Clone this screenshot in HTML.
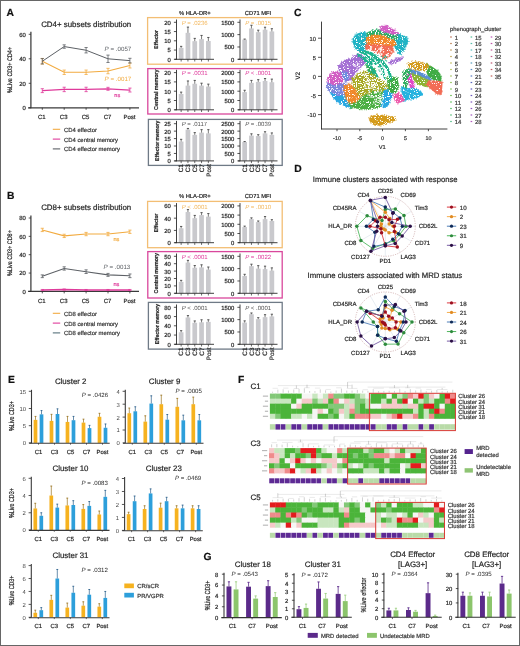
<!DOCTYPE html>
<html><head><meta charset="utf-8"><style>
html,body{margin:0;padding:0;background:#fff;}
body{width:520px;height:646px;overflow:hidden;}
svg{display:block;will-change:transform;text-rendering:geometricPrecision;font-family:"Liberation Sans",sans-serif;fill:#262626;}
text{stroke-width:0.2px;}
</style></head><body>
<svg width="520" height="646" viewBox="0 0 520 646">
<rect x="0" y="0" width="520" height="646" fill="#fff"/>
<line x1="30.9" y1="31.8" x2="30.9" y2="108.2" stroke="#3a3a3a" stroke-width="1.25"/>
<line x1="28.1" y1="107.8" x2="139" y2="107.8" stroke="#3a3a3a" stroke-width="1.25"/>
<line x1="28.7" y1="107.8" x2="30.9" y2="107.8" stroke="#2b2b2b" stroke-width="0.8"/>
<text x="25.9" y="110.2" font-size="5.9" text-anchor="end" stroke="#262626" stroke-width="0.08">0</text>
<line x1="28.7" y1="83.3" x2="30.9" y2="83.3" stroke="#2b2b2b" stroke-width="0.8"/>
<text x="25.9" y="85.7" font-size="5.9" text-anchor="end" stroke="#262626" stroke-width="0.08">20</text>
<line x1="28.7" y1="58.8" x2="30.9" y2="58.8" stroke="#2b2b2b" stroke-width="0.8"/>
<text x="25.9" y="61.2" font-size="5.9" text-anchor="end" stroke="#262626" stroke-width="0.08">40</text>
<line x1="28.7" y1="34.3" x2="30.9" y2="34.3" stroke="#2b2b2b" stroke-width="0.8"/>
<text x="25.9" y="36.7" font-size="5.9" text-anchor="end" stroke="#262626" stroke-width="0.08">60</text>
<line x1="42.3" y1="107.8" x2="42.3" y2="109.8" stroke="#2b2b2b" stroke-width="0.8"/>
<line x1="64.2" y1="107.8" x2="64.2" y2="109.8" stroke="#2b2b2b" stroke-width="0.8"/>
<line x1="86.1" y1="107.8" x2="86.1" y2="109.8" stroke="#2b2b2b" stroke-width="0.8"/>
<line x1="108" y1="107.8" x2="108" y2="109.8" stroke="#2b2b2b" stroke-width="0.8"/>
<line x1="129.9" y1="107.8" x2="129.9" y2="109.8" stroke="#2b2b2b" stroke-width="0.8"/>
<text x="41.8" y="119.1" font-size="6" text-anchor="middle" stroke="#262626" stroke-width="0.16">C1</text>
<text x="63.7" y="119.1" font-size="6" text-anchor="middle" stroke="#262626" stroke-width="0.16">C3</text>
<text x="85.6" y="119.1" font-size="6" text-anchor="middle" stroke="#262626" stroke-width="0.16">C5</text>
<text x="107.5" y="119.1" font-size="6" text-anchor="middle" stroke="#262626" stroke-width="0.16">C7</text>
<text x="129.4" y="119.1" font-size="6" text-anchor="middle" stroke="#262626" stroke-width="0.16">Post</text>
<text x="86.2" y="27.4" font-size="7.9" text-anchor="middle" stroke="#262626">CD4+ subsets distribution</text>
<text transform="translate(12.2 70) rotate(-90)" font-size="6.6" stroke="#262626" stroke-width="0.3" text-anchor="middle" textLength="45.8" lengthAdjust="spacingAndGlyphs">%Live CD3+ CD4+</text>
<polyline points="42.3,61.25 64.2,72.27 86.1,72.27 108,71.05 129.9,65.54" fill="none" stroke="#f2ab40" stroke-width="1.1"/>
<line x1="42.3" y1="64.07" x2="42.3" y2="58.43" stroke="#f2ab40" stroke-width="0.8"/>
<line x1="40.7" y1="58.43" x2="43.9" y2="58.43" stroke="#f2ab40" stroke-width="0.8"/>
<line x1="40.7" y1="64.07" x2="43.9" y2="64.07" stroke="#f2ab40" stroke-width="0.8"/>
<line x1="64.2" y1="74.48" x2="64.2" y2="70.07" stroke="#f2ab40" stroke-width="0.8"/>
<line x1="62.6" y1="70.07" x2="65.8" y2="70.07" stroke="#f2ab40" stroke-width="0.8"/>
<line x1="62.6" y1="74.48" x2="65.8" y2="74.48" stroke="#f2ab40" stroke-width="0.8"/>
<line x1="86.1" y1="74.48" x2="86.1" y2="70.07" stroke="#f2ab40" stroke-width="0.8"/>
<line x1="84.5" y1="70.07" x2="87.7" y2="70.07" stroke="#f2ab40" stroke-width="0.8"/>
<line x1="84.5" y1="74.48" x2="87.7" y2="74.48" stroke="#f2ab40" stroke-width="0.8"/>
<line x1="108" y1="73.74" x2="108" y2="68.35" stroke="#f2ab40" stroke-width="0.8"/>
<line x1="106.4" y1="68.35" x2="109.6" y2="68.35" stroke="#f2ab40" stroke-width="0.8"/>
<line x1="106.4" y1="73.74" x2="109.6" y2="73.74" stroke="#f2ab40" stroke-width="0.8"/>
<line x1="129.9" y1="67.99" x2="129.9" y2="63.09" stroke="#f2ab40" stroke-width="0.8"/>
<line x1="128.3" y1="63.09" x2="131.5" y2="63.09" stroke="#f2ab40" stroke-width="0.8"/>
<line x1="128.3" y1="67.99" x2="131.5" y2="67.99" stroke="#f2ab40" stroke-width="0.8"/>
<polyline points="42.3,90.65 64.2,89.42 86.1,89.42 108,88.81 129.9,90.04" fill="none" stroke="#df3a9b" stroke-width="1.2"/>
<line x1="42.3" y1="92.61" x2="42.3" y2="88.69" stroke="#df3a9b" stroke-width="0.8"/>
<line x1="40.7" y1="88.69" x2="43.9" y2="88.69" stroke="#df3a9b" stroke-width="0.8"/>
<line x1="40.7" y1="92.61" x2="43.9" y2="92.61" stroke="#df3a9b" stroke-width="0.8"/>
<line x1="64.2" y1="91.63" x2="64.2" y2="87.22" stroke="#df3a9b" stroke-width="0.8"/>
<line x1="62.6" y1="87.22" x2="65.8" y2="87.22" stroke="#df3a9b" stroke-width="0.8"/>
<line x1="62.6" y1="91.63" x2="65.8" y2="91.63" stroke="#df3a9b" stroke-width="0.8"/>
<line x1="86.1" y1="91.63" x2="86.1" y2="87.22" stroke="#df3a9b" stroke-width="0.8"/>
<line x1="84.5" y1="87.22" x2="87.7" y2="87.22" stroke="#df3a9b" stroke-width="0.8"/>
<line x1="84.5" y1="91.63" x2="87.7" y2="91.63" stroke="#df3a9b" stroke-width="0.8"/>
<line x1="108" y1="90.28" x2="108" y2="87.34" stroke="#df3a9b" stroke-width="0.8"/>
<line x1="106.4" y1="87.34" x2="109.6" y2="87.34" stroke="#df3a9b" stroke-width="0.8"/>
<line x1="106.4" y1="90.28" x2="109.6" y2="90.28" stroke="#df3a9b" stroke-width="0.8"/>
<line x1="129.9" y1="92" x2="129.9" y2="88.08" stroke="#df3a9b" stroke-width="0.8"/>
<line x1="128.3" y1="88.08" x2="131.5" y2="88.08" stroke="#df3a9b" stroke-width="0.8"/>
<line x1="128.3" y1="92" x2="131.5" y2="92" stroke="#df3a9b" stroke-width="0.8"/>
<polyline points="42.3,61.25 64.2,46.55 86.1,50.22 108,58.8 129.9,60.64" fill="none" stroke="#5d6166" stroke-width="1"/>
<line x1="42.3" y1="63.95" x2="42.3" y2="58.55" stroke="#5d6166" stroke-width="0.8"/>
<line x1="40.7" y1="58.55" x2="43.9" y2="58.55" stroke="#5d6166" stroke-width="0.8"/>
<line x1="40.7" y1="63.95" x2="43.9" y2="63.95" stroke="#5d6166" stroke-width="0.8"/>
<line x1="64.2" y1="48.26" x2="64.2" y2="44.83" stroke="#5d6166" stroke-width="0.8"/>
<line x1="62.6" y1="44.83" x2="65.8" y2="44.83" stroke="#5d6166" stroke-width="0.8"/>
<line x1="62.6" y1="48.26" x2="65.8" y2="48.26" stroke="#5d6166" stroke-width="0.8"/>
<line x1="86.1" y1="52.92" x2="86.1" y2="47.53" stroke="#5d6166" stroke-width="0.8"/>
<line x1="84.5" y1="47.53" x2="87.7" y2="47.53" stroke="#5d6166" stroke-width="0.8"/>
<line x1="84.5" y1="52.92" x2="87.7" y2="52.92" stroke="#5d6166" stroke-width="0.8"/>
<line x1="108" y1="62.47" x2="108" y2="55.12" stroke="#5d6166" stroke-width="0.8"/>
<line x1="106.4" y1="55.12" x2="109.6" y2="55.12" stroke="#5d6166" stroke-width="0.8"/>
<line x1="106.4" y1="62.47" x2="109.6" y2="62.47" stroke="#5d6166" stroke-width="0.8"/>
<line x1="129.9" y1="62.96" x2="129.9" y2="58.31" stroke="#5d6166" stroke-width="0.8"/>
<line x1="128.3" y1="58.31" x2="131.5" y2="58.31" stroke="#5d6166" stroke-width="0.8"/>
<line x1="128.3" y1="62.96" x2="131.5" y2="62.96" stroke="#5d6166" stroke-width="0.8"/>
<text x="104.6" y="50.6" font-size="6.2" fill="#5d6166"><tspan font-style="italic">P</tspan> = .0057</text>
<text x="104.6" y="81" font-size="6.2" fill="#f2ab40"><tspan font-style="italic">P</tspan> = .0017</text>
<text x="114.3" y="96.6" font-size="5.6" fill="#df3a9b" stroke="#df3a9b" stroke-width="0.16">ns</text>
<line x1="52.8" y1="129.3" x2="60.2" y2="129.3" stroke="#f2ab40" stroke-width="1.1"/>
<text x="64" y="131.7" font-size="5.9" fill="#333" stroke="#333" stroke-width="0.16">CD4 effector</text>
<line x1="52.8" y1="139.1" x2="60.2" y2="139.1" stroke="#df3a9b" stroke-width="1.1"/>
<text x="64" y="141.5" font-size="5.9" fill="#333" stroke="#333" stroke-width="0.16">CD4 central memory</text>
<line x1="52.8" y1="148.9" x2="60.2" y2="148.9" stroke="#5d6166" stroke-width="1.1"/>
<text x="64" y="151.3" font-size="5.9" fill="#333" stroke="#333" stroke-width="0.16">CD4 effector memory</text>
<line x1="30.9" y1="215.5" x2="30.9" y2="291.8" stroke="#3a3a3a" stroke-width="1.25"/>
<line x1="28.1" y1="291.4" x2="139" y2="291.4" stroke="#3a3a3a" stroke-width="1.25"/>
<line x1="28.7" y1="291.4" x2="30.9" y2="291.4" stroke="#2b2b2b" stroke-width="0.8"/>
<text x="25.9" y="293.8" font-size="5.9" text-anchor="end" stroke="#262626" stroke-width="0.08">0</text>
<line x1="28.7" y1="273.05" x2="30.9" y2="273.05" stroke="#2b2b2b" stroke-width="0.8"/>
<text x="25.9" y="275.45" font-size="5.9" text-anchor="end" stroke="#262626" stroke-width="0.08">20</text>
<line x1="28.7" y1="254.7" x2="30.9" y2="254.7" stroke="#2b2b2b" stroke-width="0.8"/>
<text x="25.9" y="257.1" font-size="5.9" text-anchor="end" stroke="#262626" stroke-width="0.08">40</text>
<line x1="28.7" y1="236.35" x2="30.9" y2="236.35" stroke="#2b2b2b" stroke-width="0.8"/>
<text x="25.9" y="238.75" font-size="5.9" text-anchor="end" stroke="#262626" stroke-width="0.08">60</text>
<line x1="28.7" y1="218" x2="30.9" y2="218" stroke="#2b2b2b" stroke-width="0.8"/>
<text x="25.9" y="220.4" font-size="5.9" text-anchor="end" stroke="#262626" stroke-width="0.08">80</text>
<line x1="42.3" y1="291.4" x2="42.3" y2="293.4" stroke="#2b2b2b" stroke-width="0.8"/>
<line x1="64.2" y1="291.4" x2="64.2" y2="293.4" stroke="#2b2b2b" stroke-width="0.8"/>
<line x1="86.1" y1="291.4" x2="86.1" y2="293.4" stroke="#2b2b2b" stroke-width="0.8"/>
<line x1="108" y1="291.4" x2="108" y2="293.4" stroke="#2b2b2b" stroke-width="0.8"/>
<line x1="129.9" y1="291.4" x2="129.9" y2="293.4" stroke="#2b2b2b" stroke-width="0.8"/>
<text x="41.8" y="302.7" font-size="6" text-anchor="middle" stroke="#262626" stroke-width="0.16">C1</text>
<text x="63.7" y="302.7" font-size="6" text-anchor="middle" stroke="#262626" stroke-width="0.16">C3</text>
<text x="85.6" y="302.7" font-size="6" text-anchor="middle" stroke="#262626" stroke-width="0.16">C5</text>
<text x="107.5" y="302.7" font-size="6" text-anchor="middle" stroke="#262626" stroke-width="0.16">C7</text>
<text x="129.4" y="302.7" font-size="6" text-anchor="middle" stroke="#262626" stroke-width="0.16">Post</text>
<text x="86.2" y="209.9" font-size="7.9" text-anchor="middle" stroke="#262626">CD8+ subsets distribution</text>
<text transform="translate(12.2 253.1) rotate(-90)" font-size="6.6" stroke="#262626" stroke-width="0.3" text-anchor="middle" textLength="45.8" lengthAdjust="spacingAndGlyphs">%Live CD3+ CD8+</text>
<polyline points="42.3,229.93 64.2,235.89 86.1,234.06 108,234.06 129.9,231.76" fill="none" stroke="#f2ab40" stroke-width="1.1"/>
<line x1="42.3" y1="231.58" x2="42.3" y2="228.28" stroke="#f2ab40" stroke-width="0.8"/>
<line x1="40.7" y1="228.28" x2="43.9" y2="228.28" stroke="#f2ab40" stroke-width="0.8"/>
<line x1="40.7" y1="231.58" x2="43.9" y2="231.58" stroke="#f2ab40" stroke-width="0.8"/>
<line x1="64.2" y1="237.54" x2="64.2" y2="234.24" stroke="#f2ab40" stroke-width="0.8"/>
<line x1="62.6" y1="234.24" x2="65.8" y2="234.24" stroke="#f2ab40" stroke-width="0.8"/>
<line x1="62.6" y1="237.54" x2="65.8" y2="237.54" stroke="#f2ab40" stroke-width="0.8"/>
<line x1="86.1" y1="235.71" x2="86.1" y2="232.4" stroke="#f2ab40" stroke-width="0.8"/>
<line x1="84.5" y1="232.4" x2="87.7" y2="232.4" stroke="#f2ab40" stroke-width="0.8"/>
<line x1="84.5" y1="235.71" x2="87.7" y2="235.71" stroke="#f2ab40" stroke-width="0.8"/>
<line x1="108" y1="235.71" x2="108" y2="232.4" stroke="#f2ab40" stroke-width="0.8"/>
<line x1="106.4" y1="232.4" x2="109.6" y2="232.4" stroke="#f2ab40" stroke-width="0.8"/>
<line x1="106.4" y1="235.71" x2="109.6" y2="235.71" stroke="#f2ab40" stroke-width="0.8"/>
<line x1="129.9" y1="233.41" x2="129.9" y2="230.11" stroke="#f2ab40" stroke-width="0.8"/>
<line x1="128.3" y1="230.11" x2="131.5" y2="230.11" stroke="#f2ab40" stroke-width="0.8"/>
<line x1="128.3" y1="233.41" x2="131.5" y2="233.41" stroke="#f2ab40" stroke-width="0.8"/>
<polyline points="42.3,276.26 64.2,268.46 86.1,271.67 108,274.88 129.9,275.8" fill="none" stroke="#5d6166" stroke-width="1.1"/>
<line x1="42.3" y1="277.64" x2="42.3" y2="274.88" stroke="#5d6166" stroke-width="0.8"/>
<line x1="40.7" y1="274.88" x2="43.9" y2="274.88" stroke="#5d6166" stroke-width="0.8"/>
<line x1="40.7" y1="277.64" x2="43.9" y2="277.64" stroke="#5d6166" stroke-width="0.8"/>
<line x1="64.2" y1="270.11" x2="64.2" y2="266.81" stroke="#5d6166" stroke-width="0.8"/>
<line x1="62.6" y1="266.81" x2="65.8" y2="266.81" stroke="#5d6166" stroke-width="0.8"/>
<line x1="62.6" y1="270.11" x2="65.8" y2="270.11" stroke="#5d6166" stroke-width="0.8"/>
<line x1="86.1" y1="273.51" x2="86.1" y2="269.84" stroke="#5d6166" stroke-width="0.8"/>
<line x1="84.5" y1="269.84" x2="87.7" y2="269.84" stroke="#5d6166" stroke-width="0.8"/>
<line x1="84.5" y1="273.51" x2="87.7" y2="273.51" stroke="#5d6166" stroke-width="0.8"/>
<line x1="108" y1="276.35" x2="108" y2="273.42" stroke="#5d6166" stroke-width="0.8"/>
<line x1="106.4" y1="273.42" x2="109.6" y2="273.42" stroke="#5d6166" stroke-width="0.8"/>
<line x1="106.4" y1="276.35" x2="109.6" y2="276.35" stroke="#5d6166" stroke-width="0.8"/>
<line x1="129.9" y1="277.64" x2="129.9" y2="273.97" stroke="#5d6166" stroke-width="0.8"/>
<line x1="128.3" y1="273.97" x2="131.5" y2="273.97" stroke="#5d6166" stroke-width="0.8"/>
<line x1="128.3" y1="277.64" x2="131.5" y2="277.64" stroke="#5d6166" stroke-width="0.8"/>
<polyline points="42.3,290.02 64.2,289.56 86.1,290.02 108,290.02 129.9,290.02" fill="none" stroke="#df3a9b" stroke-width="1.6"/>
<line x1="42.3" y1="290.57" x2="42.3" y2="289.47" stroke="#df3a9b" stroke-width="0.8"/>
<line x1="40.7" y1="289.47" x2="43.9" y2="289.47" stroke="#df3a9b" stroke-width="0.8"/>
<line x1="40.7" y1="290.57" x2="43.9" y2="290.57" stroke="#df3a9b" stroke-width="0.8"/>
<line x1="64.2" y1="290.12" x2="64.2" y2="289.01" stroke="#df3a9b" stroke-width="0.8"/>
<line x1="62.6" y1="289.01" x2="65.8" y2="289.01" stroke="#df3a9b" stroke-width="0.8"/>
<line x1="62.6" y1="290.12" x2="65.8" y2="290.12" stroke="#df3a9b" stroke-width="0.8"/>
<line x1="86.1" y1="290.57" x2="86.1" y2="289.47" stroke="#df3a9b" stroke-width="0.8"/>
<line x1="84.5" y1="289.47" x2="87.7" y2="289.47" stroke="#df3a9b" stroke-width="0.8"/>
<line x1="84.5" y1="290.57" x2="87.7" y2="290.57" stroke="#df3a9b" stroke-width="0.8"/>
<line x1="108" y1="290.57" x2="108" y2="289.47" stroke="#df3a9b" stroke-width="0.8"/>
<line x1="106.4" y1="289.47" x2="109.6" y2="289.47" stroke="#df3a9b" stroke-width="0.8"/>
<line x1="106.4" y1="290.57" x2="109.6" y2="290.57" stroke="#df3a9b" stroke-width="0.8"/>
<line x1="129.9" y1="290.57" x2="129.9" y2="289.47" stroke="#df3a9b" stroke-width="0.8"/>
<line x1="128.3" y1="289.47" x2="131.5" y2="289.47" stroke="#df3a9b" stroke-width="0.8"/>
<line x1="128.3" y1="290.57" x2="131.5" y2="290.57" stroke="#df3a9b" stroke-width="0.8"/>
<text x="113.5" y="241.4" font-size="5.6" fill="#f2ab40" stroke="#f2ab40" stroke-width="0.16">ns</text>
<text x="103.6" y="269.3" font-size="6.2" fill="#5d6166"><tspan font-style="italic">P</tspan> = .0013</text>
<text x="113.5" y="286" font-size="5.6" fill="#df3a9b" stroke="#df3a9b" stroke-width="0.16">ns</text>
<line x1="52.8" y1="313.3" x2="60.2" y2="313.3" stroke="#f2ab40" stroke-width="1.1"/>
<text x="64" y="315.7" font-size="5.9" fill="#333" stroke="#333" stroke-width="0.16">CD8 effector</text>
<line x1="52.8" y1="323.1" x2="60.2" y2="323.1" stroke="#df3a9b" stroke-width="1.1"/>
<text x="64" y="325.5" font-size="5.9" fill="#333" stroke="#333" stroke-width="0.16">CD8 central memory</text>
<line x1="52.8" y1="332.9" x2="60.2" y2="332.9" stroke="#56707a" stroke-width="1.1"/>
<text x="64" y="335.3" font-size="5.9" fill="#333" stroke="#333" stroke-width="0.16">CD8 effector memory</text>
<text transform="translate(6.6 15.8) " font-size="10.3" font-weight="bold" fill="#111" stroke="#111" stroke-width="0.3">A</text>
<text transform="translate(6.9 199.1) " font-size="10.3" font-weight="bold" fill="#111" stroke="#111" stroke-width="0.3">B</text>
<text transform="translate(294 15.8) " font-size="10.3" font-weight="bold" fill="#111" stroke="#111" stroke-width="0.3">C</text>
<text transform="translate(294.3 171.8) " font-size="10.3" font-weight="bold" fill="#111" stroke="#111" stroke-width="0.3">D</text>
<text transform="translate(8 382.9) " font-size="10.3" font-weight="bold" fill="#111" stroke="#111" stroke-width="0.3">E</text>
<text transform="translate(237.9 382.6) " font-size="10.3" font-weight="bold" fill="#111" stroke="#111" stroke-width="0.3">F</text>
<text transform="translate(203.6 559.8) " font-size="10.3" font-weight="bold" fill="#111" stroke="#111" stroke-width="0.3">G</text>
<text x="194.8" y="14.8" font-size="5.8" text-anchor="middle" stroke="#262626" stroke-width="0.06">% HLA-DR+</text>
<text x="258" y="14.8" font-size="5.8" text-anchor="middle" stroke="#262626" stroke-width="0.06">CD71 MFI</text>
<rect x="147.6" y="17.6" width="134.6" height="46.6" fill="none" stroke="#f3be74" stroke-width="1.3"/>
<text transform="translate(158.1 39.3) rotate(-90)" font-size="5.6" font-weight="bold" stroke="#222" stroke-width="0.15" text-anchor="middle" textLength="18.7" lengthAdjust="spacingAndGlyphs">Effector</text>
<rect x="147.8" y="68.6" width="134.4" height="45.4" fill="none" stroke="#d9479c" stroke-width="1.3"/>
<text transform="translate(158.3 89.7) rotate(-90)" font-size="5.6" font-weight="bold" stroke="#222" stroke-width="0.15" text-anchor="middle" textLength="40.4" lengthAdjust="spacingAndGlyphs">Central memory</text>
<rect x="148.4" y="119.4" width="133.8" height="46" fill="none" stroke="#6f7a86" stroke-width="1.3"/>
<text transform="translate(158.9 140.8) rotate(-90)" font-size="5.6" font-weight="bold" stroke="#222" stroke-width="0.15" text-anchor="middle" textLength="40.2" lengthAdjust="spacingAndGlyphs">Effector memory</text>
<rect x="178.8" y="47.83" width="4.7" height="11.47" fill="#c9c9cd"/>
<line x1="181.15" y1="47.83" x2="181.15" y2="46.35" stroke="#444" stroke-width="0.7"/>
<line x1="180.05" y1="46.35" x2="182.25" y2="46.35" stroke="#444" stroke-width="0.9"/>
<line x1="181.15" y1="59.3" x2="181.15" y2="61.5" stroke="#2b2b2b" stroke-width="0.7"/>
<rect x="185.6" y="32.84" width="4.7" height="26.46" fill="#c9c9cd"/>
<line x1="187.95" y1="32.84" x2="187.95" y2="27.11" stroke="#444" stroke-width="0.7"/>
<line x1="186.85" y1="27.11" x2="189.05" y2="27.11" stroke="#444" stroke-width="0.9"/>
<line x1="187.95" y1="59.3" x2="187.95" y2="61.5" stroke="#2b2b2b" stroke-width="0.7"/>
<rect x="192.4" y="41.17" width="4.7" height="18.13" fill="#c9c9cd"/>
<line x1="194.75" y1="41.17" x2="194.75" y2="38.39" stroke="#444" stroke-width="0.7"/>
<line x1="193.65" y1="38.39" x2="195.85" y2="38.39" stroke="#444" stroke-width="0.9"/>
<line x1="194.75" y1="59.3" x2="194.75" y2="61.5" stroke="#2b2b2b" stroke-width="0.7"/>
<rect x="199.2" y="39.13" width="4.7" height="20.17" fill="#c9c9cd"/>
<line x1="201.55" y1="39.13" x2="201.55" y2="35.43" stroke="#444" stroke-width="0.7"/>
<line x1="200.45" y1="35.43" x2="202.65" y2="35.43" stroke="#444" stroke-width="0.9"/>
<line x1="201.55" y1="59.3" x2="201.55" y2="61.5" stroke="#2b2b2b" stroke-width="0.7"/>
<rect x="206" y="40.98" width="4.7" height="18.32" fill="#c9c9cd"/>
<line x1="208.35" y1="40.98" x2="208.35" y2="37.47" stroke="#444" stroke-width="0.7"/>
<line x1="207.25" y1="37.47" x2="209.45" y2="37.47" stroke="#444" stroke-width="0.9"/>
<line x1="208.35" y1="59.3" x2="208.35" y2="61.5" stroke="#2b2b2b" stroke-width="0.7"/>
<line x1="176.5" y1="19.5" x2="176.5" y2="59.7" stroke="#2b2b2b" stroke-width="0.9"/>
<line x1="174.5" y1="59.3" x2="214" y2="59.3" stroke="#2b2b2b" stroke-width="0.9"/>
<line x1="173.9" y1="59.3" x2="176.5" y2="59.3" stroke="#2b2b2b" stroke-width="0.8"/>
<text x="170.9" y="61.7" font-size="5.9" text-anchor="end" stroke="#262626" stroke-width="0.08">0</text>
<line x1="173.9" y1="50.05" x2="176.5" y2="50.05" stroke="#2b2b2b" stroke-width="0.8"/>
<text x="170.9" y="52.45" font-size="5.9" text-anchor="end" stroke="#262626" stroke-width="0.08">5</text>
<line x1="173.9" y1="40.8" x2="176.5" y2="40.8" stroke="#2b2b2b" stroke-width="0.8"/>
<text x="170.9" y="43.2" font-size="5.9" text-anchor="end" stroke="#262626" stroke-width="0.08">10</text>
<line x1="173.9" y1="31.55" x2="176.5" y2="31.55" stroke="#2b2b2b" stroke-width="0.8"/>
<text x="170.9" y="33.95" font-size="5.9" text-anchor="end" stroke="#262626" stroke-width="0.08">15</text>
<line x1="173.9" y1="22.3" x2="176.5" y2="22.3" stroke="#2b2b2b" stroke-width="0.8"/>
<text x="170.9" y="24.7" font-size="5.9" text-anchor="end" stroke="#262626" stroke-width="0.08">20</text>
<text x="181.7" y="25" font-size="6" fill="#f3b85e"><tspan font-style="italic">P</tspan> = .0236</text>
<rect x="242.3" y="39.57" width="4.7" height="19.73" fill="#c9c9cd"/>
<line x1="244.65" y1="39.57" x2="244.65" y2="39.07" stroke="#444" stroke-width="0.7"/>
<line x1="243.55" y1="39.07" x2="245.75" y2="39.07" stroke="#444" stroke-width="0.9"/>
<line x1="244.65" y1="59.3" x2="244.65" y2="61.5" stroke="#2b2b2b" stroke-width="0.7"/>
<rect x="249.1" y="28.47" width="4.7" height="30.83" fill="#c9c9cd"/>
<line x1="251.45" y1="28.47" x2="251.45" y2="25.26" stroke="#444" stroke-width="0.7"/>
<line x1="250.35" y1="25.26" x2="252.55" y2="25.26" stroke="#444" stroke-width="0.9"/>
<line x1="251.45" y1="59.3" x2="251.45" y2="61.5" stroke="#2b2b2b" stroke-width="0.7"/>
<rect x="255.9" y="32.17" width="4.7" height="27.13" fill="#c9c9cd"/>
<line x1="258.25" y1="32.17" x2="258.25" y2="30.19" stroke="#444" stroke-width="0.7"/>
<line x1="257.15" y1="30.19" x2="259.35" y2="30.19" stroke="#444" stroke-width="0.9"/>
<line x1="258.25" y1="59.3" x2="258.25" y2="61.5" stroke="#2b2b2b" stroke-width="0.7"/>
<rect x="262.7" y="29.7" width="4.7" height="29.6" fill="#c9c9cd"/>
<line x1="265.05" y1="29.7" x2="265.05" y2="27.23" stroke="#444" stroke-width="0.7"/>
<line x1="263.95" y1="27.23" x2="266.15" y2="27.23" stroke="#444" stroke-width="0.9"/>
<line x1="265.05" y1="59.3" x2="265.05" y2="61.5" stroke="#2b2b2b" stroke-width="0.7"/>
<rect x="269.5" y="31.43" width="4.7" height="27.87" fill="#c9c9cd"/>
<line x1="271.85" y1="31.43" x2="271.85" y2="28.71" stroke="#444" stroke-width="0.7"/>
<line x1="270.75" y1="28.71" x2="272.95" y2="28.71" stroke="#444" stroke-width="0.9"/>
<line x1="271.85" y1="59.3" x2="271.85" y2="61.5" stroke="#2b2b2b" stroke-width="0.7"/>
<line x1="240" y1="19.5" x2="240" y2="59.7" stroke="#2b2b2b" stroke-width="0.9"/>
<line x1="238" y1="59.3" x2="277.5" y2="59.3" stroke="#2b2b2b" stroke-width="0.9"/>
<line x1="237.4" y1="59.3" x2="240" y2="59.3" stroke="#2b2b2b" stroke-width="0.8"/>
<text x="234.4" y="61.7" font-size="5.9" text-anchor="end" stroke="#262626" stroke-width="0.08">0</text>
<line x1="237.4" y1="46.97" x2="240" y2="46.97" stroke="#2b2b2b" stroke-width="0.8"/>
<text x="234.4" y="49.37" font-size="5.9" text-anchor="end" stroke="#262626" stroke-width="0.08">500</text>
<line x1="237.4" y1="34.63" x2="240" y2="34.63" stroke="#2b2b2b" stroke-width="0.8"/>
<text x="234.4" y="37.03" font-size="5.9" text-anchor="end" stroke="#262626" stroke-width="0.08">1000</text>
<line x1="237.4" y1="22.3" x2="240" y2="22.3" stroke="#2b2b2b" stroke-width="0.8"/>
<text x="234.4" y="24.7" font-size="5.9" text-anchor="end" stroke="#262626" stroke-width="0.08">1500</text>
<text x="245.2" y="25" font-size="6" fill="#f3b85e"><tspan font-style="italic">P</tspan> = .0015</text>
<rect x="178.8" y="93.99" width="4.7" height="15.81" fill="#c9c9cd"/>
<line x1="181.15" y1="93.99" x2="181.15" y2="92.13" stroke="#444" stroke-width="0.7"/>
<line x1="180.05" y1="92.13" x2="182.25" y2="92.13" stroke="#444" stroke-width="0.9"/>
<line x1="181.15" y1="109.8" x2="181.15" y2="112" stroke="#2b2b2b" stroke-width="0.7"/>
<rect x="185.6" y="85.62" width="4.7" height="24.18" fill="#c9c9cd"/>
<line x1="187.95" y1="85.62" x2="187.95" y2="80.97" stroke="#444" stroke-width="0.7"/>
<line x1="186.85" y1="80.97" x2="189.05" y2="80.97" stroke="#444" stroke-width="0.9"/>
<line x1="187.95" y1="109.8" x2="187.95" y2="112" stroke="#2b2b2b" stroke-width="0.7"/>
<rect x="192.4" y="83.76" width="4.7" height="26.04" fill="#c9c9cd"/>
<line x1="194.75" y1="83.76" x2="194.75" y2="80.41" stroke="#444" stroke-width="0.7"/>
<line x1="193.65" y1="80.41" x2="195.85" y2="80.41" stroke="#444" stroke-width="0.9"/>
<line x1="194.75" y1="109.8" x2="194.75" y2="112" stroke="#2b2b2b" stroke-width="0.7"/>
<rect x="199.2" y="85.62" width="4.7" height="24.18" fill="#c9c9cd"/>
<line x1="201.55" y1="85.62" x2="201.55" y2="83.2" stroke="#444" stroke-width="0.7"/>
<line x1="200.45" y1="83.2" x2="202.65" y2="83.2" stroke="#444" stroke-width="0.9"/>
<line x1="201.55" y1="109.8" x2="201.55" y2="112" stroke="#2b2b2b" stroke-width="0.7"/>
<rect x="206" y="86.55" width="4.7" height="23.25" fill="#c9c9cd"/>
<line x1="208.35" y1="86.55" x2="208.35" y2="84.13" stroke="#444" stroke-width="0.7"/>
<line x1="207.25" y1="84.13" x2="209.45" y2="84.13" stroke="#444" stroke-width="0.9"/>
<line x1="208.35" y1="109.8" x2="208.35" y2="112" stroke="#2b2b2b" stroke-width="0.7"/>
<line x1="176.5" y1="69.8" x2="176.5" y2="110.2" stroke="#2b2b2b" stroke-width="0.9"/>
<line x1="174.5" y1="109.8" x2="214" y2="109.8" stroke="#2b2b2b" stroke-width="0.9"/>
<line x1="173.9" y1="109.8" x2="176.5" y2="109.8" stroke="#2b2b2b" stroke-width="0.8"/>
<text x="170.9" y="112.2" font-size="5.9" text-anchor="end" stroke="#262626" stroke-width="0.08">0</text>
<line x1="173.9" y1="100.5" x2="176.5" y2="100.5" stroke="#2b2b2b" stroke-width="0.8"/>
<text x="170.9" y="102.9" font-size="5.9" text-anchor="end" stroke="#262626" stroke-width="0.08">5</text>
<line x1="173.9" y1="91.2" x2="176.5" y2="91.2" stroke="#2b2b2b" stroke-width="0.8"/>
<text x="170.9" y="93.6" font-size="5.9" text-anchor="end" stroke="#262626" stroke-width="0.08">10</text>
<line x1="173.9" y1="81.9" x2="176.5" y2="81.9" stroke="#2b2b2b" stroke-width="0.8"/>
<text x="170.9" y="84.3" font-size="5.9" text-anchor="end" stroke="#262626" stroke-width="0.08">15</text>
<line x1="173.9" y1="72.6" x2="176.5" y2="72.6" stroke="#2b2b2b" stroke-width="0.8"/>
<text x="170.9" y="75" font-size="5.9" text-anchor="end" stroke="#262626" stroke-width="0.08">20</text>
<text x="181.7" y="75.3" font-size="6" fill="#df3a9b"><tspan font-style="italic">P</tspan> = .0031</text>
<rect x="242.3" y="92.13" width="4.7" height="17.67" fill="#c9c9cd"/>
<line x1="244.65" y1="92.13" x2="244.65" y2="90.27" stroke="#444" stroke-width="0.7"/>
<line x1="243.55" y1="90.27" x2="245.75" y2="90.27" stroke="#444" stroke-width="0.9"/>
<line x1="244.65" y1="109.8" x2="244.65" y2="112" stroke="#2b2b2b" stroke-width="0.7"/>
<rect x="249.1" y="82.83" width="4.7" height="26.97" fill="#c9c9cd"/>
<line x1="251.45" y1="82.83" x2="251.45" y2="80.41" stroke="#444" stroke-width="0.7"/>
<line x1="250.35" y1="80.41" x2="252.55" y2="80.41" stroke="#444" stroke-width="0.9"/>
<line x1="251.45" y1="109.8" x2="251.45" y2="112" stroke="#2b2b2b" stroke-width="0.7"/>
<rect x="255.9" y="81.9" width="4.7" height="27.9" fill="#c9c9cd"/>
<line x1="258.25" y1="81.9" x2="258.25" y2="79.67" stroke="#444" stroke-width="0.7"/>
<line x1="257.15" y1="79.67" x2="259.35" y2="79.67" stroke="#444" stroke-width="0.9"/>
<line x1="258.25" y1="109.8" x2="258.25" y2="112" stroke="#2b2b2b" stroke-width="0.7"/>
<rect x="262.7" y="80.97" width="4.7" height="28.83" fill="#c9c9cd"/>
<line x1="265.05" y1="80.97" x2="265.05" y2="78.55" stroke="#444" stroke-width="0.7"/>
<line x1="263.95" y1="78.55" x2="266.15" y2="78.55" stroke="#444" stroke-width="0.9"/>
<line x1="265.05" y1="109.8" x2="265.05" y2="112" stroke="#2b2b2b" stroke-width="0.7"/>
<rect x="269.5" y="82.27" width="4.7" height="27.53" fill="#c9c9cd"/>
<line x1="271.85" y1="82.27" x2="271.85" y2="79.11" stroke="#444" stroke-width="0.7"/>
<line x1="270.75" y1="79.11" x2="272.95" y2="79.11" stroke="#444" stroke-width="0.9"/>
<line x1="271.85" y1="109.8" x2="271.85" y2="112" stroke="#2b2b2b" stroke-width="0.7"/>
<line x1="240" y1="69.8" x2="240" y2="110.2" stroke="#2b2b2b" stroke-width="0.9"/>
<line x1="238" y1="109.8" x2="277.5" y2="109.8" stroke="#2b2b2b" stroke-width="0.9"/>
<line x1="237.4" y1="109.8" x2="240" y2="109.8" stroke="#2b2b2b" stroke-width="0.8"/>
<text x="234.4" y="112.2" font-size="5.9" text-anchor="end" stroke="#262626" stroke-width="0.08">0</text>
<line x1="237.4" y1="100.5" x2="240" y2="100.5" stroke="#2b2b2b" stroke-width="0.8"/>
<text x="234.4" y="102.9" font-size="5.9" text-anchor="end" stroke="#262626" stroke-width="0.08">500</text>
<line x1="237.4" y1="91.2" x2="240" y2="91.2" stroke="#2b2b2b" stroke-width="0.8"/>
<text x="234.4" y="93.6" font-size="5.9" text-anchor="end" stroke="#262626" stroke-width="0.08">1000</text>
<line x1="237.4" y1="81.9" x2="240" y2="81.9" stroke="#2b2b2b" stroke-width="0.8"/>
<text x="234.4" y="84.3" font-size="5.9" text-anchor="end" stroke="#262626" stroke-width="0.08">1500</text>
<line x1="237.4" y1="72.6" x2="240" y2="72.6" stroke="#2b2b2b" stroke-width="0.8"/>
<text x="234.4" y="75" font-size="5.9" text-anchor="end" stroke="#262626" stroke-width="0.08">2000</text>
<text x="245.2" y="75.3" font-size="6" fill="#df3a9b"><tspan font-style="italic">P</tspan> &lt; .0001</text>
<rect x="178.8" y="141.56" width="4.7" height="19.34" fill="#c9c9cd"/>
<line x1="181.15" y1="141.56" x2="181.15" y2="139.32" stroke="#444" stroke-width="0.7"/>
<line x1="180.05" y1="139.32" x2="182.25" y2="139.32" stroke="#444" stroke-width="0.9"/>
<line x1="181.15" y1="160.9" x2="181.15" y2="163.1" stroke="#2b2b2b" stroke-width="0.7"/>
<rect x="185.6" y="129.65" width="4.7" height="31.25" fill="#c9c9cd"/>
<line x1="187.95" y1="129.65" x2="187.95" y2="128.46" stroke="#444" stroke-width="0.7"/>
<line x1="186.85" y1="128.46" x2="189.05" y2="128.46" stroke="#444" stroke-width="0.9"/>
<line x1="187.95" y1="160.9" x2="187.95" y2="163.1" stroke="#2b2b2b" stroke-width="0.7"/>
<rect x="192.4" y="134.86" width="4.7" height="26.04" fill="#c9c9cd"/>
<line x1="194.75" y1="134.86" x2="194.75" y2="132.63" stroke="#444" stroke-width="0.7"/>
<line x1="193.65" y1="132.63" x2="195.85" y2="132.63" stroke="#444" stroke-width="0.9"/>
<line x1="194.75" y1="160.9" x2="194.75" y2="163.1" stroke="#2b2b2b" stroke-width="0.7"/>
<rect x="199.2" y="132.63" width="4.7" height="28.27" fill="#c9c9cd"/>
<line x1="201.55" y1="132.63" x2="201.55" y2="129.65" stroke="#444" stroke-width="0.7"/>
<line x1="200.45" y1="129.65" x2="202.65" y2="129.65" stroke="#444" stroke-width="0.9"/>
<line x1="201.55" y1="160.9" x2="201.55" y2="163.1" stroke="#2b2b2b" stroke-width="0.7"/>
<rect x="206" y="133.37" width="4.7" height="27.53" fill="#c9c9cd"/>
<line x1="208.35" y1="133.37" x2="208.35" y2="129.65" stroke="#444" stroke-width="0.7"/>
<line x1="207.25" y1="129.65" x2="209.45" y2="129.65" stroke="#444" stroke-width="0.9"/>
<line x1="208.35" y1="160.9" x2="208.35" y2="163.1" stroke="#2b2b2b" stroke-width="0.7"/>
<line x1="176.5" y1="120.9" x2="176.5" y2="161.3" stroke="#2b2b2b" stroke-width="0.9"/>
<line x1="174.5" y1="160.9" x2="214" y2="160.9" stroke="#2b2b2b" stroke-width="0.9"/>
<line x1="173.9" y1="160.9" x2="176.5" y2="160.9" stroke="#2b2b2b" stroke-width="0.8"/>
<text x="170.9" y="163.3" font-size="5.9" text-anchor="end" stroke="#262626" stroke-width="0.08">0</text>
<line x1="173.9" y1="153.46" x2="176.5" y2="153.46" stroke="#2b2b2b" stroke-width="0.8"/>
<text x="170.9" y="155.86" font-size="5.9" text-anchor="end" stroke="#262626" stroke-width="0.08">5</text>
<line x1="173.9" y1="146.02" x2="176.5" y2="146.02" stroke="#2b2b2b" stroke-width="0.8"/>
<text x="170.9" y="148.42" font-size="5.9" text-anchor="end" stroke="#262626" stroke-width="0.08">10</text>
<line x1="173.9" y1="138.58" x2="176.5" y2="138.58" stroke="#2b2b2b" stroke-width="0.8"/>
<text x="170.9" y="140.98" font-size="5.9" text-anchor="end" stroke="#262626" stroke-width="0.08">15</text>
<line x1="173.9" y1="131.14" x2="176.5" y2="131.14" stroke="#2b2b2b" stroke-width="0.8"/>
<text x="170.9" y="133.54" font-size="5.9" text-anchor="end" stroke="#262626" stroke-width="0.08">20</text>
<line x1="173.9" y1="123.7" x2="176.5" y2="123.7" stroke="#2b2b2b" stroke-width="0.8"/>
<text x="170.9" y="126.1" font-size="5.9" text-anchor="end" stroke="#262626" stroke-width="0.08">25</text>
<text x="181.7" y="126.4" font-size="6" fill="#555"><tspan font-style="italic">P</tspan> = .0117</text>
<text transform="translate(183.35 164.2) rotate(-90)" font-size="6.3" text-anchor="end" stroke="#262626" stroke-width="0.16">C1</text>
<text transform="translate(190.15 164.2) rotate(-90)" font-size="6.3" text-anchor="end" stroke="#262626" stroke-width="0.16">C3</text>
<text transform="translate(196.95 164.2) rotate(-90)" font-size="6.3" text-anchor="end" stroke="#262626" stroke-width="0.16">C5</text>
<text transform="translate(203.75 164.2) rotate(-90)" font-size="6.3" text-anchor="end" stroke="#262626" stroke-width="0.16">C7</text>
<text transform="translate(210.55 164.2) rotate(-90)" font-size="6.3" text-anchor="end" stroke="#262626" stroke-width="0.16">Post</text>
<rect x="242.3" y="142" width="4.7" height="18.9" fill="#c9c9cd"/>
<line x1="244.65" y1="142" x2="244.65" y2="141.56" stroke="#444" stroke-width="0.7"/>
<line x1="243.55" y1="141.56" x2="245.75" y2="141.56" stroke="#444" stroke-width="0.9"/>
<line x1="244.65" y1="160.9" x2="244.65" y2="163.1" stroke="#2b2b2b" stroke-width="0.7"/>
<rect x="249.1" y="135.6" width="4.7" height="25.3" fill="#c9c9cd"/>
<line x1="251.45" y1="135.6" x2="251.45" y2="133.82" stroke="#444" stroke-width="0.7"/>
<line x1="250.35" y1="133.82" x2="252.55" y2="133.82" stroke="#444" stroke-width="0.9"/>
<line x1="251.45" y1="160.9" x2="251.45" y2="163.1" stroke="#2b2b2b" stroke-width="0.7"/>
<rect x="255.9" y="136.05" width="4.7" height="24.85" fill="#c9c9cd"/>
<line x1="258.25" y1="136.05" x2="258.25" y2="134.71" stroke="#444" stroke-width="0.7"/>
<line x1="257.15" y1="134.71" x2="259.35" y2="134.71" stroke="#444" stroke-width="0.9"/>
<line x1="258.25" y1="160.9" x2="258.25" y2="163.1" stroke="#2b2b2b" stroke-width="0.7"/>
<rect x="262.7" y="133.37" width="4.7" height="27.53" fill="#c9c9cd"/>
<line x1="265.05" y1="133.37" x2="265.05" y2="131.74" stroke="#444" stroke-width="0.7"/>
<line x1="263.95" y1="131.74" x2="266.15" y2="131.74" stroke="#444" stroke-width="0.9"/>
<line x1="265.05" y1="160.9" x2="265.05" y2="163.1" stroke="#2b2b2b" stroke-width="0.7"/>
<rect x="269.5" y="134.86" width="4.7" height="26.04" fill="#c9c9cd"/>
<line x1="271.85" y1="134.86" x2="271.85" y2="132.93" stroke="#444" stroke-width="0.7"/>
<line x1="270.75" y1="132.93" x2="272.95" y2="132.93" stroke="#444" stroke-width="0.9"/>
<line x1="271.85" y1="160.9" x2="271.85" y2="163.1" stroke="#2b2b2b" stroke-width="0.7"/>
<line x1="240" y1="120.9" x2="240" y2="161.3" stroke="#2b2b2b" stroke-width="0.9"/>
<line x1="238" y1="160.9" x2="277.5" y2="160.9" stroke="#2b2b2b" stroke-width="0.9"/>
<line x1="237.4" y1="160.9" x2="240" y2="160.9" stroke="#2b2b2b" stroke-width="0.8"/>
<text x="234.4" y="163.3" font-size="5.9" text-anchor="end" stroke="#262626" stroke-width="0.08">0</text>
<line x1="237.4" y1="153.46" x2="240" y2="153.46" stroke="#2b2b2b" stroke-width="0.8"/>
<text x="234.4" y="155.86" font-size="5.9" text-anchor="end" stroke="#262626" stroke-width="0.08">500</text>
<line x1="237.4" y1="146.02" x2="240" y2="146.02" stroke="#2b2b2b" stroke-width="0.8"/>
<text x="234.4" y="148.42" font-size="5.9" text-anchor="end" stroke="#262626" stroke-width="0.08">1000</text>
<line x1="237.4" y1="138.58" x2="240" y2="138.58" stroke="#2b2b2b" stroke-width="0.8"/>
<text x="234.4" y="140.98" font-size="5.9" text-anchor="end" stroke="#262626" stroke-width="0.08">1500</text>
<line x1="237.4" y1="131.14" x2="240" y2="131.14" stroke="#2b2b2b" stroke-width="0.8"/>
<text x="234.4" y="133.54" font-size="5.9" text-anchor="end" stroke="#262626" stroke-width="0.08">2000</text>
<line x1="237.4" y1="123.7" x2="240" y2="123.7" stroke="#2b2b2b" stroke-width="0.8"/>
<text x="234.4" y="126.1" font-size="5.9" text-anchor="end" stroke="#262626" stroke-width="0.08">2500</text>
<text x="245.2" y="126.4" font-size="6" fill="#555"><tspan font-style="italic">P</tspan> = .0039</text>
<text transform="translate(246.85 164.2) rotate(-90)" font-size="6.3" text-anchor="end" stroke="#262626" stroke-width="0.16">C1</text>
<text transform="translate(253.65 164.2) rotate(-90)" font-size="6.3" text-anchor="end" stroke="#262626" stroke-width="0.16">C3</text>
<text transform="translate(260.45 164.2) rotate(-90)" font-size="6.3" text-anchor="end" stroke="#262626" stroke-width="0.16">C5</text>
<text transform="translate(267.25 164.2) rotate(-90)" font-size="6.3" text-anchor="end" stroke="#262626" stroke-width="0.16">C7</text>
<text transform="translate(274.05 164.2) rotate(-90)" font-size="6.3" text-anchor="end" stroke="#262626" stroke-width="0.16">Post</text>
<text x="194.8" y="198.1" font-size="5.8" text-anchor="middle" stroke="#262626" stroke-width="0.06">% HLA-DR+</text>
<text x="258" y="198.1" font-size="5.8" text-anchor="middle" stroke="#262626" stroke-width="0.06">CD71 MFI</text>
<rect x="147.6" y="201.4" width="134.6" height="46.3" fill="none" stroke="#f3be74" stroke-width="1.3"/>
<text transform="translate(158.1 222.95) rotate(-90)" font-size="5.6" font-weight="bold" stroke="#222" stroke-width="0.15" text-anchor="middle" textLength="18.7" lengthAdjust="spacingAndGlyphs">Effector</text>
<rect x="147.8" y="251.6" width="134.4" height="46.4" fill="none" stroke="#d9479c" stroke-width="1.3"/>
<text transform="translate(158.3 273.2) rotate(-90)" font-size="5.6" font-weight="bold" stroke="#222" stroke-width="0.15" text-anchor="middle" textLength="40.4" lengthAdjust="spacingAndGlyphs">Central memory</text>
<rect x="148.4" y="302.4" width="133.8" height="46.7" fill="none" stroke="#6f7a86" stroke-width="1.3"/>
<text transform="translate(158.9 324.15) rotate(-90)" font-size="5.6" font-weight="bold" stroke="#222" stroke-width="0.15" text-anchor="middle" textLength="40.2" lengthAdjust="spacingAndGlyphs">Effector memory</text>
<rect x="178.8" y="228.29" width="4.7" height="14.41" fill="#c9c9cd"/>
<line x1="181.15" y1="228.29" x2="181.15" y2="226.45" stroke="#444" stroke-width="0.7"/>
<line x1="180.05" y1="226.45" x2="182.25" y2="226.45" stroke="#444" stroke-width="0.9"/>
<line x1="181.15" y1="242.7" x2="181.15" y2="244.9" stroke="#2b2b2b" stroke-width="0.7"/>
<rect x="185.6" y="212.03" width="4.7" height="30.67" fill="#c9c9cd"/>
<line x1="187.95" y1="212.03" x2="187.95" y2="209.58" stroke="#444" stroke-width="0.7"/>
<line x1="186.85" y1="209.58" x2="189.05" y2="209.58" stroke="#444" stroke-width="0.9"/>
<line x1="187.95" y1="242.7" x2="187.95" y2="244.9" stroke="#2b2b2b" stroke-width="0.7"/>
<rect x="192.4" y="218.17" width="4.7" height="24.53" fill="#c9c9cd"/>
<line x1="194.75" y1="218.17" x2="194.75" y2="215.41" stroke="#444" stroke-width="0.7"/>
<line x1="193.65" y1="215.41" x2="195.85" y2="215.41" stroke="#444" stroke-width="0.9"/>
<line x1="194.75" y1="242.7" x2="194.75" y2="244.9" stroke="#2b2b2b" stroke-width="0.7"/>
<rect x="199.2" y="215.1" width="4.7" height="27.6" fill="#c9c9cd"/>
<line x1="201.55" y1="215.1" x2="201.55" y2="212.65" stroke="#444" stroke-width="0.7"/>
<line x1="200.45" y1="212.65" x2="202.65" y2="212.65" stroke="#444" stroke-width="0.9"/>
<line x1="201.55" y1="242.7" x2="201.55" y2="244.9" stroke="#2b2b2b" stroke-width="0.7"/>
<rect x="206" y="216.63" width="4.7" height="26.07" fill="#c9c9cd"/>
<line x1="208.35" y1="216.63" x2="208.35" y2="213.57" stroke="#444" stroke-width="0.7"/>
<line x1="207.25" y1="213.57" x2="209.45" y2="213.57" stroke="#444" stroke-width="0.9"/>
<line x1="208.35" y1="242.7" x2="208.35" y2="244.9" stroke="#2b2b2b" stroke-width="0.7"/>
<line x1="176.5" y1="203.1" x2="176.5" y2="243.1" stroke="#2b2b2b" stroke-width="0.9"/>
<line x1="174.5" y1="242.7" x2="214" y2="242.7" stroke="#2b2b2b" stroke-width="0.9"/>
<line x1="173.9" y1="242.7" x2="176.5" y2="242.7" stroke="#2b2b2b" stroke-width="0.8"/>
<text x="170.9" y="245.1" font-size="5.9" text-anchor="end" stroke="#262626" stroke-width="0.08">0</text>
<line x1="173.9" y1="230.43" x2="176.5" y2="230.43" stroke="#2b2b2b" stroke-width="0.8"/>
<text x="170.9" y="232.83" font-size="5.9" text-anchor="end" stroke="#262626" stroke-width="0.08">20</text>
<line x1="173.9" y1="218.17" x2="176.5" y2="218.17" stroke="#2b2b2b" stroke-width="0.8"/>
<text x="170.9" y="220.57" font-size="5.9" text-anchor="end" stroke="#262626" stroke-width="0.08">40</text>
<line x1="173.9" y1="205.9" x2="176.5" y2="205.9" stroke="#2b2b2b" stroke-width="0.8"/>
<text x="170.9" y="208.3" font-size="5.9" text-anchor="end" stroke="#262626" stroke-width="0.08">60</text>
<text x="181.7" y="208.6" font-size="6" fill="#f3b85e"><tspan font-style="italic">P</tspan> &lt; .0001</text>
<rect x="242.3" y="227.06" width="4.7" height="15.64" fill="#c9c9cd"/>
<line x1="244.65" y1="227.06" x2="244.65" y2="226.14" stroke="#444" stroke-width="0.7"/>
<line x1="243.55" y1="226.14" x2="245.75" y2="226.14" stroke="#444" stroke-width="0.9"/>
<line x1="244.65" y1="242.7" x2="244.65" y2="244.9" stroke="#2b2b2b" stroke-width="0.7"/>
<rect x="249.1" y="219.15" width="4.7" height="23.55" fill="#c9c9cd"/>
<line x1="251.45" y1="219.15" x2="251.45" y2="217.86" stroke="#444" stroke-width="0.7"/>
<line x1="250.35" y1="217.86" x2="252.55" y2="217.86" stroke="#444" stroke-width="0.9"/>
<line x1="251.45" y1="242.7" x2="251.45" y2="244.9" stroke="#2b2b2b" stroke-width="0.7"/>
<rect x="255.9" y="222.09" width="4.7" height="20.61" fill="#c9c9cd"/>
<line x1="258.25" y1="222.09" x2="258.25" y2="220.99" stroke="#444" stroke-width="0.7"/>
<line x1="257.15" y1="220.99" x2="259.35" y2="220.99" stroke="#444" stroke-width="0.9"/>
<line x1="258.25" y1="242.7" x2="258.25" y2="244.9" stroke="#2b2b2b" stroke-width="0.7"/>
<rect x="262.7" y="219.15" width="4.7" height="23.55" fill="#c9c9cd"/>
<line x1="265.05" y1="219.15" x2="265.05" y2="216.57" stroke="#444" stroke-width="0.7"/>
<line x1="263.95" y1="216.57" x2="266.15" y2="216.57" stroke="#444" stroke-width="0.9"/>
<line x1="265.05" y1="242.7" x2="265.05" y2="244.9" stroke="#2b2b2b" stroke-width="0.7"/>
<rect x="269.5" y="220.99" width="4.7" height="21.71" fill="#c9c9cd"/>
<line x1="271.85" y1="220.99" x2="271.85" y2="219.7" stroke="#444" stroke-width="0.7"/>
<line x1="270.75" y1="219.7" x2="272.95" y2="219.7" stroke="#444" stroke-width="0.9"/>
<line x1="271.85" y1="242.7" x2="271.85" y2="244.9" stroke="#2b2b2b" stroke-width="0.7"/>
<line x1="240" y1="203.1" x2="240" y2="243.1" stroke="#2b2b2b" stroke-width="0.9"/>
<line x1="238" y1="242.7" x2="277.5" y2="242.7" stroke="#2b2b2b" stroke-width="0.9"/>
<line x1="237.4" y1="242.7" x2="240" y2="242.7" stroke="#2b2b2b" stroke-width="0.8"/>
<text x="234.4" y="245.1" font-size="5.9" text-anchor="end" stroke="#262626" stroke-width="0.08">0</text>
<line x1="237.4" y1="233.5" x2="240" y2="233.5" stroke="#2b2b2b" stroke-width="0.8"/>
<text x="234.4" y="235.9" font-size="5.9" text-anchor="end" stroke="#262626" stroke-width="0.08">500</text>
<line x1="237.4" y1="224.3" x2="240" y2="224.3" stroke="#2b2b2b" stroke-width="0.8"/>
<text x="234.4" y="226.7" font-size="5.9" text-anchor="end" stroke="#262626" stroke-width="0.08">1000</text>
<line x1="237.4" y1="215.1" x2="240" y2="215.1" stroke="#2b2b2b" stroke-width="0.8"/>
<text x="234.4" y="217.5" font-size="5.9" text-anchor="end" stroke="#262626" stroke-width="0.08">1500</text>
<line x1="237.4" y1="205.9" x2="240" y2="205.9" stroke="#2b2b2b" stroke-width="0.8"/>
<text x="234.4" y="208.3" font-size="5.9" text-anchor="end" stroke="#262626" stroke-width="0.08">2000</text>
<text x="245.2" y="208.6" font-size="6" fill="#f3b85e"><tspan font-style="italic">P</tspan> = .0010</text>
<rect x="178.8" y="281.83" width="4.7" height="11.47" fill="#c9c9cd"/>
<line x1="181.15" y1="281.83" x2="181.15" y2="280.35" stroke="#444" stroke-width="0.7"/>
<line x1="180.05" y1="280.35" x2="182.25" y2="280.35" stroke="#444" stroke-width="0.9"/>
<line x1="181.15" y1="293.3" x2="181.15" y2="295.5" stroke="#2b2b2b" stroke-width="0.7"/>
<rect x="185.6" y="262.59" width="4.7" height="30.71" fill="#c9c9cd"/>
<line x1="187.95" y1="262.59" x2="187.95" y2="260.37" stroke="#444" stroke-width="0.7"/>
<line x1="186.85" y1="260.37" x2="189.05" y2="260.37" stroke="#444" stroke-width="0.9"/>
<line x1="187.95" y1="293.3" x2="187.95" y2="295.5" stroke="#2b2b2b" stroke-width="0.7"/>
<rect x="192.4" y="267.77" width="4.7" height="25.53" fill="#c9c9cd"/>
<line x1="194.75" y1="267.77" x2="194.75" y2="265.55" stroke="#444" stroke-width="0.7"/>
<line x1="193.65" y1="265.55" x2="195.85" y2="265.55" stroke="#444" stroke-width="0.9"/>
<line x1="194.75" y1="293.3" x2="194.75" y2="295.5" stroke="#2b2b2b" stroke-width="0.7"/>
<rect x="199.2" y="267.4" width="4.7" height="25.9" fill="#c9c9cd"/>
<line x1="201.55" y1="267.4" x2="201.55" y2="264.81" stroke="#444" stroke-width="0.7"/>
<line x1="200.45" y1="264.81" x2="202.65" y2="264.81" stroke="#444" stroke-width="0.9"/>
<line x1="201.55" y1="293.3" x2="201.55" y2="295.5" stroke="#2b2b2b" stroke-width="0.7"/>
<rect x="206" y="269.62" width="4.7" height="23.68" fill="#c9c9cd"/>
<line x1="208.35" y1="269.62" x2="208.35" y2="267.03" stroke="#444" stroke-width="0.7"/>
<line x1="207.25" y1="267.03" x2="209.45" y2="267.03" stroke="#444" stroke-width="0.9"/>
<line x1="208.35" y1="293.3" x2="208.35" y2="295.5" stroke="#2b2b2b" stroke-width="0.7"/>
<line x1="176.5" y1="253.5" x2="176.5" y2="293.7" stroke="#2b2b2b" stroke-width="0.9"/>
<line x1="174.5" y1="293.3" x2="214" y2="293.3" stroke="#2b2b2b" stroke-width="0.9"/>
<line x1="173.9" y1="293.3" x2="176.5" y2="293.3" stroke="#2b2b2b" stroke-width="0.8"/>
<text x="170.9" y="295.7" font-size="5.9" text-anchor="end" stroke="#262626" stroke-width="0.08">0</text>
<line x1="173.9" y1="285.9" x2="176.5" y2="285.9" stroke="#2b2b2b" stroke-width="0.8"/>
<text x="170.9" y="288.3" font-size="5.9" text-anchor="end" stroke="#262626" stroke-width="0.08">10</text>
<line x1="173.9" y1="278.5" x2="176.5" y2="278.5" stroke="#2b2b2b" stroke-width="0.8"/>
<text x="170.9" y="280.9" font-size="5.9" text-anchor="end" stroke="#262626" stroke-width="0.08">20</text>
<line x1="173.9" y1="271.1" x2="176.5" y2="271.1" stroke="#2b2b2b" stroke-width="0.8"/>
<text x="170.9" y="273.5" font-size="5.9" text-anchor="end" stroke="#262626" stroke-width="0.08">30</text>
<line x1="173.9" y1="263.7" x2="176.5" y2="263.7" stroke="#2b2b2b" stroke-width="0.8"/>
<text x="170.9" y="266.1" font-size="5.9" text-anchor="end" stroke="#262626" stroke-width="0.08">40</text>
<line x1="173.9" y1="256.3" x2="176.5" y2="256.3" stroke="#2b2b2b" stroke-width="0.8"/>
<text x="170.9" y="258.7" font-size="5.9" text-anchor="end" stroke="#262626" stroke-width="0.08">50</text>
<text x="181.7" y="259" font-size="6" fill="#df3a9b"><tspan font-style="italic">P</tspan> &lt; .0001</text>
<rect x="242.3" y="276.03" width="4.7" height="17.27" fill="#c9c9cd"/>
<line x1="244.65" y1="276.03" x2="244.65" y2="274.31" stroke="#444" stroke-width="0.7"/>
<line x1="243.55" y1="274.31" x2="245.75" y2="274.31" stroke="#444" stroke-width="0.9"/>
<line x1="244.65" y1="293.3" x2="244.65" y2="295.5" stroke="#2b2b2b" stroke-width="0.7"/>
<rect x="249.1" y="266.17" width="4.7" height="27.13" fill="#c9c9cd"/>
<line x1="251.45" y1="266.17" x2="251.45" y2="264.19" stroke="#444" stroke-width="0.7"/>
<line x1="250.35" y1="264.19" x2="252.55" y2="264.19" stroke="#444" stroke-width="0.9"/>
<line x1="251.45" y1="293.3" x2="251.45" y2="295.5" stroke="#2b2b2b" stroke-width="0.7"/>
<rect x="255.9" y="268.63" width="4.7" height="24.67" fill="#c9c9cd"/>
<line x1="258.25" y1="268.63" x2="258.25" y2="265.67" stroke="#444" stroke-width="0.7"/>
<line x1="257.15" y1="265.67" x2="259.35" y2="265.67" stroke="#444" stroke-width="0.9"/>
<line x1="258.25" y1="293.3" x2="258.25" y2="295.5" stroke="#2b2b2b" stroke-width="0.7"/>
<rect x="262.7" y="269.13" width="4.7" height="24.17" fill="#c9c9cd"/>
<line x1="265.05" y1="269.13" x2="265.05" y2="266.17" stroke="#444" stroke-width="0.7"/>
<line x1="263.95" y1="266.17" x2="266.15" y2="266.17" stroke="#444" stroke-width="0.9"/>
<line x1="265.05" y1="293.3" x2="265.05" y2="295.5" stroke="#2b2b2b" stroke-width="0.7"/>
<rect x="269.5" y="270.61" width="4.7" height="22.69" fill="#c9c9cd"/>
<line x1="271.85" y1="270.61" x2="271.85" y2="267.89" stroke="#444" stroke-width="0.7"/>
<line x1="270.75" y1="267.89" x2="272.95" y2="267.89" stroke="#444" stroke-width="0.9"/>
<line x1="271.85" y1="293.3" x2="271.85" y2="295.5" stroke="#2b2b2b" stroke-width="0.7"/>
<line x1="240" y1="253.5" x2="240" y2="293.7" stroke="#2b2b2b" stroke-width="0.9"/>
<line x1="238" y1="293.3" x2="277.5" y2="293.3" stroke="#2b2b2b" stroke-width="0.9"/>
<line x1="237.4" y1="293.3" x2="240" y2="293.3" stroke="#2b2b2b" stroke-width="0.8"/>
<text x="234.4" y="295.7" font-size="5.9" text-anchor="end" stroke="#262626" stroke-width="0.08">0</text>
<line x1="237.4" y1="280.97" x2="240" y2="280.97" stroke="#2b2b2b" stroke-width="0.8"/>
<text x="234.4" y="283.37" font-size="5.9" text-anchor="end" stroke="#262626" stroke-width="0.08">500</text>
<line x1="237.4" y1="268.63" x2="240" y2="268.63" stroke="#2b2b2b" stroke-width="0.8"/>
<text x="234.4" y="271.03" font-size="5.9" text-anchor="end" stroke="#262626" stroke-width="0.08">1000</text>
<line x1="237.4" y1="256.3" x2="240" y2="256.3" stroke="#2b2b2b" stroke-width="0.8"/>
<text x="234.4" y="258.7" font-size="5.9" text-anchor="end" stroke="#262626" stroke-width="0.08">1500</text>
<text x="245.2" y="259" font-size="6" fill="#df3a9b"><tspan font-style="italic">P</tspan> = .0022</text>
<rect x="178.8" y="332.28" width="4.7" height="12.03" fill="#c9c9cd"/>
<line x1="181.15" y1="332.28" x2="181.15" y2="330.66" stroke="#444" stroke-width="0.7"/>
<line x1="180.05" y1="330.66" x2="182.25" y2="330.66" stroke="#444" stroke-width="0.9"/>
<line x1="181.15" y1="344.3" x2="181.15" y2="346.5" stroke="#2b2b2b" stroke-width="0.7"/>
<rect x="185.6" y="317.48" width="4.7" height="26.83" fill="#c9c9cd"/>
<line x1="187.95" y1="317.48" x2="187.95" y2="315.62" stroke="#444" stroke-width="0.7"/>
<line x1="186.85" y1="315.62" x2="189.05" y2="315.62" stroke="#444" stroke-width="0.9"/>
<line x1="187.95" y1="344.3" x2="187.95" y2="346.5" stroke="#2b2b2b" stroke-width="0.7"/>
<rect x="192.4" y="322.79" width="4.7" height="21.51" fill="#c9c9cd"/>
<line x1="194.75" y1="322.79" x2="194.75" y2="320.94" stroke="#444" stroke-width="0.7"/>
<line x1="193.65" y1="320.94" x2="195.85" y2="320.94" stroke="#444" stroke-width="0.9"/>
<line x1="194.75" y1="344.3" x2="194.75" y2="346.5" stroke="#2b2b2b" stroke-width="0.7"/>
<rect x="199.2" y="322.33" width="4.7" height="21.97" fill="#c9c9cd"/>
<line x1="201.55" y1="322.33" x2="201.55" y2="319.79" stroke="#444" stroke-width="0.7"/>
<line x1="200.45" y1="319.79" x2="202.65" y2="319.79" stroke="#444" stroke-width="0.9"/>
<line x1="201.55" y1="344.3" x2="201.55" y2="346.5" stroke="#2b2b2b" stroke-width="0.7"/>
<rect x="206" y="321.87" width="4.7" height="22.43" fill="#c9c9cd"/>
<line x1="208.35" y1="321.87" x2="208.35" y2="319.79" stroke="#444" stroke-width="0.7"/>
<line x1="207.25" y1="319.79" x2="209.45" y2="319.79" stroke="#444" stroke-width="0.9"/>
<line x1="208.35" y1="344.3" x2="208.35" y2="346.5" stroke="#2b2b2b" stroke-width="0.7"/>
<line x1="176.5" y1="304.5" x2="176.5" y2="344.7" stroke="#2b2b2b" stroke-width="0.9"/>
<line x1="174.5" y1="344.3" x2="214" y2="344.3" stroke="#2b2b2b" stroke-width="0.9"/>
<line x1="173.9" y1="344.3" x2="176.5" y2="344.3" stroke="#2b2b2b" stroke-width="0.8"/>
<text x="170.9" y="346.7" font-size="5.9" text-anchor="end" stroke="#262626" stroke-width="0.08">0</text>
<line x1="173.9" y1="335.05" x2="176.5" y2="335.05" stroke="#2b2b2b" stroke-width="0.8"/>
<text x="170.9" y="337.45" font-size="5.9" text-anchor="end" stroke="#262626" stroke-width="0.08">20</text>
<line x1="173.9" y1="325.8" x2="176.5" y2="325.8" stroke="#2b2b2b" stroke-width="0.8"/>
<text x="170.9" y="328.2" font-size="5.9" text-anchor="end" stroke="#262626" stroke-width="0.08">40</text>
<line x1="173.9" y1="316.55" x2="176.5" y2="316.55" stroke="#2b2b2b" stroke-width="0.8"/>
<text x="170.9" y="318.95" font-size="5.9" text-anchor="end" stroke="#262626" stroke-width="0.08">60</text>
<line x1="173.9" y1="307.3" x2="176.5" y2="307.3" stroke="#2b2b2b" stroke-width="0.8"/>
<text x="170.9" y="309.7" font-size="5.9" text-anchor="end" stroke="#262626" stroke-width="0.08">80</text>
<text x="181.7" y="310" font-size="6" fill="#555"><tspan font-style="italic">P</tspan> &lt; .0001</text>
<text transform="translate(183.35 347.6) rotate(-90)" font-size="6.3" text-anchor="end" stroke="#262626" stroke-width="0.16">C1</text>
<text transform="translate(190.15 347.6) rotate(-90)" font-size="6.3" text-anchor="end" stroke="#262626" stroke-width="0.16">C3</text>
<text transform="translate(196.95 347.6) rotate(-90)" font-size="6.3" text-anchor="end" stroke="#262626" stroke-width="0.16">C5</text>
<text transform="translate(203.75 347.6) rotate(-90)" font-size="6.3" text-anchor="end" stroke="#262626" stroke-width="0.16">C7</text>
<text transform="translate(210.55 347.6) rotate(-90)" font-size="6.3" text-anchor="end" stroke="#262626" stroke-width="0.16">Post</text>
<rect x="242.3" y="322.59" width="4.7" height="21.71" fill="#c9c9cd"/>
<line x1="244.65" y1="322.59" x2="244.65" y2="320.87" stroke="#444" stroke-width="0.7"/>
<line x1="243.55" y1="320.87" x2="245.75" y2="320.87" stroke="#444" stroke-width="0.9"/>
<line x1="244.65" y1="344.3" x2="244.65" y2="346.5" stroke="#2b2b2b" stroke-width="0.7"/>
<rect x="249.1" y="314.21" width="4.7" height="30.09" fill="#c9c9cd"/>
<line x1="251.45" y1="314.21" x2="251.45" y2="312.97" stroke="#444" stroke-width="0.7"/>
<line x1="250.35" y1="312.97" x2="252.55" y2="312.97" stroke="#444" stroke-width="0.9"/>
<line x1="251.45" y1="344.3" x2="251.45" y2="346.5" stroke="#2b2b2b" stroke-width="0.7"/>
<rect x="255.9" y="319.14" width="4.7" height="25.16" fill="#c9c9cd"/>
<line x1="258.25" y1="319.14" x2="258.25" y2="317.66" stroke="#444" stroke-width="0.7"/>
<line x1="257.15" y1="317.66" x2="259.35" y2="317.66" stroke="#444" stroke-width="0.9"/>
<line x1="258.25" y1="344.3" x2="258.25" y2="346.5" stroke="#2b2b2b" stroke-width="0.7"/>
<rect x="262.7" y="317.17" width="4.7" height="27.13" fill="#c9c9cd"/>
<line x1="265.05" y1="317.17" x2="265.05" y2="314.7" stroke="#444" stroke-width="0.7"/>
<line x1="263.95" y1="314.7" x2="266.15" y2="314.7" stroke="#444" stroke-width="0.9"/>
<line x1="265.05" y1="344.3" x2="265.05" y2="346.5" stroke="#2b2b2b" stroke-width="0.7"/>
<rect x="269.5" y="316.43" width="4.7" height="27.87" fill="#c9c9cd"/>
<line x1="271.85" y1="316.43" x2="271.85" y2="314.21" stroke="#444" stroke-width="0.7"/>
<line x1="270.75" y1="314.21" x2="272.95" y2="314.21" stroke="#444" stroke-width="0.9"/>
<line x1="271.85" y1="344.3" x2="271.85" y2="346.5" stroke="#2b2b2b" stroke-width="0.7"/>
<line x1="240" y1="304.5" x2="240" y2="344.7" stroke="#2b2b2b" stroke-width="0.9"/>
<line x1="238" y1="344.3" x2="277.5" y2="344.3" stroke="#2b2b2b" stroke-width="0.9"/>
<line x1="237.4" y1="344.3" x2="240" y2="344.3" stroke="#2b2b2b" stroke-width="0.8"/>
<text x="234.4" y="346.7" font-size="5.9" text-anchor="end" stroke="#262626" stroke-width="0.08">0</text>
<line x1="237.4" y1="331.97" x2="240" y2="331.97" stroke="#2b2b2b" stroke-width="0.8"/>
<text x="234.4" y="334.37" font-size="5.9" text-anchor="end" stroke="#262626" stroke-width="0.08">500</text>
<line x1="237.4" y1="319.63" x2="240" y2="319.63" stroke="#2b2b2b" stroke-width="0.8"/>
<text x="234.4" y="322.03" font-size="5.9" text-anchor="end" stroke="#262626" stroke-width="0.08">1000</text>
<line x1="237.4" y1="307.3" x2="240" y2="307.3" stroke="#2b2b2b" stroke-width="0.8"/>
<text x="234.4" y="309.7" font-size="5.9" text-anchor="end" stroke="#262626" stroke-width="0.08">1500</text>
<text x="245.2" y="310" font-size="6" fill="#555"><tspan font-style="italic">P</tspan> &lt; .0001</text>
<text transform="translate(246.85 347.6) rotate(-90)" font-size="6.3" text-anchor="end" stroke="#262626" stroke-width="0.16">C1</text>
<text transform="translate(253.65 347.6) rotate(-90)" font-size="6.3" text-anchor="end" stroke="#262626" stroke-width="0.16">C3</text>
<text transform="translate(260.45 347.6) rotate(-90)" font-size="6.3" text-anchor="end" stroke="#262626" stroke-width="0.16">C5</text>
<text transform="translate(267.25 347.6) rotate(-90)" font-size="6.3" text-anchor="end" stroke="#262626" stroke-width="0.16">C7</text>
<text transform="translate(274.05 347.6) rotate(-90)" font-size="6.3" text-anchor="end" stroke="#262626" stroke-width="0.16">Post</text>
<rect x="33.65" y="419.85" width="3.7" height="23.05" fill="#f6b21f"/>
<line x1="35.5" y1="419.85" x2="35.5" y2="416.41" stroke="#9a7420" stroke-width="0.7"/>
<line x1="34.6" y1="416.41" x2="36.4" y2="416.41" stroke="#9a7420" stroke-width="0.9"/>
<rect x="39.65" y="414.35" width="3.7" height="28.55" fill="#2d9fdb"/>
<line x1="41.5" y1="414.35" x2="41.5" y2="410.56" stroke="#2a5f8a" stroke-width="0.7"/>
<line x1="40.6" y1="410.56" x2="42.4" y2="410.56" stroke="#2a5f8a" stroke-width="0.9"/>
<line x1="38.5" y1="442.9" x2="38.5" y2="444.7" stroke="#2b2b2b" stroke-width="0.7"/>
<text x="38.5" y="453.6" font-size="5.9" text-anchor="middle" stroke="#262626" stroke-width="0.16">C1</text>
<rect x="49.65" y="420.88" width="3.7" height="22.02" fill="#f6b21f"/>
<line x1="51.5" y1="420.88" x2="51.5" y2="414.35" stroke="#9a7420" stroke-width="0.7"/>
<line x1="50.6" y1="414.35" x2="52.4" y2="414.35" stroke="#9a7420" stroke-width="0.9"/>
<rect x="55.65" y="414" width="3.7" height="28.9" fill="#2d9fdb"/>
<line x1="57.5" y1="414" x2="57.5" y2="408.84" stroke="#2a5f8a" stroke-width="0.7"/>
<line x1="56.6" y1="408.84" x2="58.4" y2="408.84" stroke="#2a5f8a" stroke-width="0.9"/>
<line x1="54.5" y1="442.9" x2="54.5" y2="444.7" stroke="#2b2b2b" stroke-width="0.7"/>
<text x="54.5" y="453.6" font-size="5.9" text-anchor="middle" stroke="#262626" stroke-width="0.16">C3</text>
<rect x="65.65" y="421.92" width="3.7" height="20.98" fill="#f6b21f"/>
<line x1="67.5" y1="421.92" x2="67.5" y2="416.41" stroke="#9a7420" stroke-width="0.7"/>
<line x1="66.6" y1="416.41" x2="68.4" y2="416.41" stroke="#9a7420" stroke-width="0.9"/>
<rect x="71.65" y="420.2" width="3.7" height="22.7" fill="#2d9fdb"/>
<line x1="73.5" y1="420.2" x2="73.5" y2="416.41" stroke="#2a5f8a" stroke-width="0.7"/>
<line x1="72.6" y1="416.41" x2="74.4" y2="416.41" stroke="#2a5f8a" stroke-width="0.9"/>
<line x1="70.5" y1="442.9" x2="70.5" y2="444.7" stroke="#2b2b2b" stroke-width="0.7"/>
<text x="70.5" y="453.6" font-size="5.9" text-anchor="middle" stroke="#262626" stroke-width="0.16">C5</text>
<rect x="81.65" y="422.6" width="3.7" height="20.3" fill="#f6b21f"/>
<line x1="83.5" y1="422.6" x2="83.5" y2="419.16" stroke="#9a7420" stroke-width="0.7"/>
<line x1="82.6" y1="419.16" x2="84.4" y2="419.16" stroke="#9a7420" stroke-width="0.9"/>
<rect x="87.65" y="428.11" width="3.7" height="14.79" fill="#2d9fdb"/>
<line x1="89.5" y1="428.11" x2="89.5" y2="425.36" stroke="#2a5f8a" stroke-width="0.7"/>
<line x1="88.6" y1="425.36" x2="90.4" y2="425.36" stroke="#2a5f8a" stroke-width="0.9"/>
<line x1="86.5" y1="442.9" x2="86.5" y2="444.7" stroke="#2b2b2b" stroke-width="0.7"/>
<text x="86.5" y="453.6" font-size="5.9" text-anchor="middle" stroke="#262626" stroke-width="0.16">C7</text>
<rect x="97.65" y="416.76" width="3.7" height="26.14" fill="#f6b21f"/>
<line x1="99.5" y1="416.76" x2="99.5" y2="413.32" stroke="#9a7420" stroke-width="0.7"/>
<line x1="98.6" y1="413.32" x2="100.4" y2="413.32" stroke="#9a7420" stroke-width="0.9"/>
<rect x="103.65" y="427.76" width="3.7" height="15.14" fill="#2d9fdb"/>
<line x1="105.5" y1="427.76" x2="105.5" y2="423.98" stroke="#2a5f8a" stroke-width="0.7"/>
<line x1="104.6" y1="423.98" x2="106.4" y2="423.98" stroke="#2a5f8a" stroke-width="0.9"/>
<line x1="102.5" y1="442.9" x2="102.5" y2="444.7" stroke="#2b2b2b" stroke-width="0.7"/>
<text x="102.5" y="453.6" font-size="5.9" text-anchor="middle" stroke="#262626" stroke-width="0.16">Post</text>
<line x1="31.5" y1="389.8" x2="31.5" y2="443.3" stroke="#3a3a3a" stroke-width="1.1"/>
<line x1="29.2" y1="443.3" x2="109.7" y2="443.3" stroke="#3a3a3a" stroke-width="1.1"/>
<line x1="28.8" y1="442.9" x2="31.2" y2="442.9" stroke="#2b2b2b" stroke-width="0.8"/>
<text x="26" y="445.3" font-size="5.9" text-anchor="end" fill="#444">0</text>
<line x1="28.8" y1="425.7" x2="31.2" y2="425.7" stroke="#2b2b2b" stroke-width="0.8"/>
<text x="26" y="428.1" font-size="5.9" text-anchor="end" fill="#444">5</text>
<line x1="28.8" y1="408.5" x2="31.2" y2="408.5" stroke="#2b2b2b" stroke-width="0.8"/>
<text x="26" y="410.9" font-size="5.9" text-anchor="end" fill="#444">10</text>
<line x1="28.8" y1="391.3" x2="31.2" y2="391.3" stroke="#2b2b2b" stroke-width="0.8"/>
<text x="26" y="393.7" font-size="5.9" text-anchor="end" fill="#444">15</text>
<text x="70.7" y="384.1" font-size="7.9" text-anchor="middle" stroke="#262626">Cluster 2</text>
<text x="81.8" y="397.4" font-size="6.1" fill="#262626"><tspan font-style="italic">P</tspan> = .0426</text>
<text transform="translate(14.4 416.1) rotate(-90)" font-size="7.2" stroke="#262626" stroke-width="0.3" text-anchor="middle" textLength="29.8" lengthAdjust="spacingAndGlyphs">%Live CD3+</text>
<rect x="127.45" y="413.23" width="3.7" height="29.67" fill="#f6b21f"/>
<line x1="129.3" y1="413.23" x2="129.3" y2="408.07" stroke="#9a7420" stroke-width="0.7"/>
<line x1="128.4" y1="408.07" x2="130.2" y2="408.07" stroke="#9a7420" stroke-width="0.9"/>
<rect x="133.45" y="411.3" width="3.7" height="31.6" fill="#2d9fdb"/>
<line x1="135.3" y1="411.3" x2="135.3" y2="406.78" stroke="#2a5f8a" stroke-width="0.7"/>
<line x1="134.4" y1="406.78" x2="136.2" y2="406.78" stroke="#2a5f8a" stroke-width="0.9"/>
<line x1="132.3" y1="442.9" x2="132.3" y2="444.7" stroke="#2b2b2b" stroke-width="0.7"/>
<text x="132.3" y="453.6" font-size="5.9" text-anchor="middle" stroke="#262626" stroke-width="0.16">C1</text>
<rect x="143.45" y="421.62" width="3.7" height="21.28" fill="#f6b21f"/>
<line x1="145.3" y1="421.62" x2="145.3" y2="415.81" stroke="#9a7420" stroke-width="0.7"/>
<line x1="144.4" y1="415.81" x2="146.2" y2="415.81" stroke="#9a7420" stroke-width="0.9"/>
<rect x="149.45" y="403.56" width="3.7" height="39.34" fill="#2d9fdb"/>
<line x1="151.3" y1="403.56" x2="151.3" y2="395.81" stroke="#2a5f8a" stroke-width="0.7"/>
<line x1="150.4" y1="395.81" x2="152.2" y2="395.81" stroke="#2a5f8a" stroke-width="0.9"/>
<line x1="148.3" y1="442.9" x2="148.3" y2="444.7" stroke="#2b2b2b" stroke-width="0.7"/>
<text x="148.3" y="453.6" font-size="5.9" text-anchor="middle" stroke="#262626" stroke-width="0.16">C3</text>
<rect x="159.45" y="404.2" width="3.7" height="38.7" fill="#f6b21f"/>
<line x1="161.3" y1="404.2" x2="161.3" y2="395.17" stroke="#9a7420" stroke-width="0.7"/>
<line x1="160.4" y1="395.17" x2="162.2" y2="395.17" stroke="#9a7420" stroke-width="0.9"/>
<rect x="165.45" y="419.68" width="3.7" height="23.22" fill="#2d9fdb"/>
<line x1="167.3" y1="419.68" x2="167.3" y2="414.52" stroke="#2a5f8a" stroke-width="0.7"/>
<line x1="166.4" y1="414.52" x2="168.2" y2="414.52" stroke="#2a5f8a" stroke-width="0.9"/>
<line x1="164.3" y1="442.9" x2="164.3" y2="444.7" stroke="#2b2b2b" stroke-width="0.7"/>
<text x="164.3" y="453.6" font-size="5.9" text-anchor="middle" stroke="#262626" stroke-width="0.16">C5</text>
<rect x="175.45" y="406.78" width="3.7" height="36.12" fill="#f6b21f"/>
<line x1="177.3" y1="406.78" x2="177.3" y2="398.39" stroke="#9a7420" stroke-width="0.7"/>
<line x1="176.4" y1="398.39" x2="178.2" y2="398.39" stroke="#9a7420" stroke-width="0.9"/>
<rect x="181.45" y="420.32" width="3.7" height="22.57" fill="#2d9fdb"/>
<line x1="183.3" y1="420.32" x2="183.3" y2="415.17" stroke="#2a5f8a" stroke-width="0.7"/>
<line x1="182.4" y1="415.17" x2="184.2" y2="415.17" stroke="#2a5f8a" stroke-width="0.9"/>
<line x1="180.3" y1="442.9" x2="180.3" y2="444.7" stroke="#2b2b2b" stroke-width="0.7"/>
<text x="180.3" y="453.6" font-size="5.9" text-anchor="middle" stroke="#262626" stroke-width="0.16">C7</text>
<rect x="191.45" y="404.2" width="3.7" height="38.7" fill="#f6b21f"/>
<line x1="193.3" y1="404.2" x2="193.3" y2="397.11" stroke="#9a7420" stroke-width="0.7"/>
<line x1="192.4" y1="397.11" x2="194.2" y2="397.11" stroke="#9a7420" stroke-width="0.9"/>
<rect x="197.45" y="420.32" width="3.7" height="22.57" fill="#2d9fdb"/>
<line x1="199.3" y1="420.32" x2="199.3" y2="414.52" stroke="#2a5f8a" stroke-width="0.7"/>
<line x1="198.4" y1="414.52" x2="200.2" y2="414.52" stroke="#2a5f8a" stroke-width="0.9"/>
<line x1="196.3" y1="442.9" x2="196.3" y2="444.7" stroke="#2b2b2b" stroke-width="0.7"/>
<text x="196.3" y="453.6" font-size="5.9" text-anchor="middle" stroke="#262626" stroke-width="0.16">Post</text>
<line x1="125.3" y1="389.8" x2="125.3" y2="443.3" stroke="#3a3a3a" stroke-width="1.1"/>
<line x1="123" y1="443.3" x2="203.5" y2="443.3" stroke="#3a3a3a" stroke-width="1.1"/>
<line x1="122.6" y1="442.9" x2="125" y2="442.9" stroke="#2b2b2b" stroke-width="0.8"/>
<text x="119.8" y="445.3" font-size="5.9" text-anchor="end" fill="#444">0</text>
<line x1="122.6" y1="430" x2="125" y2="430" stroke="#2b2b2b" stroke-width="0.8"/>
<text x="119.8" y="432.4" font-size="5.9" text-anchor="end" fill="#444">1</text>
<line x1="122.6" y1="417.1" x2="125" y2="417.1" stroke="#2b2b2b" stroke-width="0.8"/>
<text x="119.8" y="419.5" font-size="5.9" text-anchor="end" fill="#444">2</text>
<line x1="122.6" y1="404.2" x2="125" y2="404.2" stroke="#2b2b2b" stroke-width="0.8"/>
<text x="119.8" y="406.6" font-size="5.9" text-anchor="end" fill="#444">3</text>
<line x1="122.6" y1="391.3" x2="125" y2="391.3" stroke="#2b2b2b" stroke-width="0.8"/>
<text x="119.8" y="393.7" font-size="5.9" text-anchor="end" fill="#444">4</text>
<text x="164.5" y="384.1" font-size="7.9" text-anchor="middle" stroke="#262626">Cluster 9</text>
<text x="175.6" y="392.7" font-size="6.1" fill="#262626"><tspan font-style="italic">P</tspan> = .0005</text>
<rect x="33.45" y="508.46" width="3.7" height="21.54" fill="#f6b21f"/>
<line x1="35.3" y1="508.46" x2="35.3" y2="503.29" stroke="#9a7420" stroke-width="0.7"/>
<line x1="34.4" y1="503.29" x2="36.2" y2="503.29" stroke="#9a7420" stroke-width="0.9"/>
<rect x="39.45" y="515.78" width="3.7" height="14.22" fill="#2d9fdb"/>
<line x1="41.3" y1="515.78" x2="41.3" y2="512.77" stroke="#2a5f8a" stroke-width="0.7"/>
<line x1="40.4" y1="512.77" x2="42.2" y2="512.77" stroke="#2a5f8a" stroke-width="0.9"/>
<line x1="38.3" y1="530" x2="38.3" y2="531.8" stroke="#2b2b2b" stroke-width="0.7"/>
<text x="38.3" y="540.7" font-size="5.9" text-anchor="middle" stroke="#262626" stroke-width="0.16">C1</text>
<rect x="49.45" y="495.53" width="3.7" height="34.47" fill="#f6b21f"/>
<line x1="51.3" y1="495.53" x2="51.3" y2="486.06" stroke="#9a7420" stroke-width="0.7"/>
<line x1="50.4" y1="486.06" x2="52.2" y2="486.06" stroke="#9a7420" stroke-width="0.9"/>
<rect x="55.45" y="507.6" width="3.7" height="22.4" fill="#2d9fdb"/>
<line x1="57.3" y1="507.6" x2="57.3" y2="504.15" stroke="#2a5f8a" stroke-width="0.7"/>
<line x1="56.4" y1="504.15" x2="58.2" y2="504.15" stroke="#2a5f8a" stroke-width="0.9"/>
<line x1="54.3" y1="530" x2="54.3" y2="531.8" stroke="#2b2b2b" stroke-width="0.7"/>
<text x="54.3" y="540.7" font-size="5.9" text-anchor="middle" stroke="#262626" stroke-width="0.16">C3</text>
<rect x="65.45" y="505.44" width="3.7" height="24.56" fill="#f6b21f"/>
<line x1="67.3" y1="505.44" x2="67.3" y2="498.12" stroke="#9a7420" stroke-width="0.7"/>
<line x1="66.4" y1="498.12" x2="68.2" y2="498.12" stroke="#9a7420" stroke-width="0.9"/>
<rect x="71.45" y="505.01" width="3.7" height="24.99" fill="#2d9fdb"/>
<line x1="73.3" y1="505.01" x2="73.3" y2="500.7" stroke="#2a5f8a" stroke-width="0.7"/>
<line x1="72.4" y1="500.7" x2="74.2" y2="500.7" stroke="#2a5f8a" stroke-width="0.9"/>
<line x1="70.3" y1="530" x2="70.3" y2="531.8" stroke="#2b2b2b" stroke-width="0.7"/>
<text x="70.3" y="540.7" font-size="5.9" text-anchor="middle" stroke="#262626" stroke-width="0.16">C5</text>
<rect x="81.45" y="508.89" width="3.7" height="21.11" fill="#f6b21f"/>
<line x1="83.3" y1="508.89" x2="83.3" y2="504.58" stroke="#9a7420" stroke-width="0.7"/>
<line x1="82.4" y1="504.58" x2="84.2" y2="504.58" stroke="#9a7420" stroke-width="0.9"/>
<rect x="87.45" y="505.87" width="3.7" height="24.13" fill="#2d9fdb"/>
<line x1="89.3" y1="505.87" x2="89.3" y2="501.56" stroke="#2a5f8a" stroke-width="0.7"/>
<line x1="88.4" y1="501.56" x2="90.2" y2="501.56" stroke="#2a5f8a" stroke-width="0.9"/>
<line x1="86.3" y1="530" x2="86.3" y2="531.8" stroke="#2b2b2b" stroke-width="0.7"/>
<text x="86.3" y="540.7" font-size="5.9" text-anchor="middle" stroke="#262626" stroke-width="0.16">C7</text>
<rect x="97.45" y="514.49" width="3.7" height="15.51" fill="#f6b21f"/>
<line x1="99.3" y1="514.49" x2="99.3" y2="511.04" stroke="#9a7420" stroke-width="0.7"/>
<line x1="98.4" y1="511.04" x2="100.2" y2="511.04" stroke="#9a7420" stroke-width="0.9"/>
<rect x="103.45" y="496.83" width="3.7" height="33.17" fill="#2d9fdb"/>
<line x1="105.3" y1="496.83" x2="105.3" y2="490.36" stroke="#2a5f8a" stroke-width="0.7"/>
<line x1="104.4" y1="490.36" x2="106.2" y2="490.36" stroke="#2a5f8a" stroke-width="0.9"/>
<line x1="102.3" y1="530" x2="102.3" y2="531.8" stroke="#2b2b2b" stroke-width="0.7"/>
<text x="102.3" y="540.7" font-size="5.9" text-anchor="middle" stroke="#262626" stroke-width="0.16">Post</text>
<line x1="31.3" y1="476.8" x2="31.3" y2="530.4" stroke="#3a3a3a" stroke-width="1.1"/>
<line x1="29" y1="530.4" x2="109.5" y2="530.4" stroke="#3a3a3a" stroke-width="1.1"/>
<line x1="28.6" y1="530" x2="31" y2="530" stroke="#2b2b2b" stroke-width="0.8"/>
<text x="25.8" y="532.4" font-size="5.9" text-anchor="end" fill="#444">0</text>
<line x1="28.6" y1="512.77" x2="31" y2="512.77" stroke="#2b2b2b" stroke-width="0.8"/>
<text x="25.8" y="515.17" font-size="5.9" text-anchor="end" fill="#444">2</text>
<line x1="28.6" y1="495.53" x2="31" y2="495.53" stroke="#2b2b2b" stroke-width="0.8"/>
<text x="25.8" y="497.93" font-size="5.9" text-anchor="end" fill="#444">4</text>
<line x1="28.6" y1="478.3" x2="31" y2="478.3" stroke="#2b2b2b" stroke-width="0.8"/>
<text x="25.8" y="480.7" font-size="5.9" text-anchor="end" fill="#444">6</text>
<text x="70.5" y="471" font-size="7.9" text-anchor="middle" stroke="#262626">Cluster 10</text>
<text x="81.6" y="484.7" font-size="6.1" fill="#262626"><tspan font-style="italic">P</tspan> = .0083</text>
<text transform="translate(14.4 503.15) rotate(-90)" font-size="7.2" stroke="#262626" stroke-width="0.3" text-anchor="middle" textLength="29.8" lengthAdjust="spacingAndGlyphs">%Live CD3+</text>
<rect x="126.75" y="514.18" width="3.7" height="16.22" fill="#f6b21f"/>
<line x1="128.6" y1="514.18" x2="128.6" y2="512.24" stroke="#9a7420" stroke-width="0.7"/>
<line x1="127.7" y1="512.24" x2="129.5" y2="512.24" stroke="#9a7420" stroke-width="0.9"/>
<rect x="132.75" y="501.21" width="3.7" height="29.19" fill="#2d9fdb"/>
<line x1="134.6" y1="501.21" x2="134.6" y2="496.02" stroke="#2a5f8a" stroke-width="0.7"/>
<line x1="133.7" y1="496.02" x2="135.5" y2="496.02" stroke="#2a5f8a" stroke-width="0.9"/>
<line x1="131.6" y1="530.4" x2="131.6" y2="532.2" stroke="#2b2b2b" stroke-width="0.7"/>
<text x="131.6" y="541.1" font-size="5.9" text-anchor="middle" stroke="#262626" stroke-width="0.16">C1</text>
<rect x="142.75" y="508.99" width="3.7" height="21.41" fill="#f6b21f"/>
<line x1="144.6" y1="508.99" x2="144.6" y2="505.75" stroke="#9a7420" stroke-width="0.7"/>
<line x1="143.7" y1="505.75" x2="145.5" y2="505.75" stroke="#9a7420" stroke-width="0.9"/>
<rect x="148.75" y="493.42" width="3.7" height="36.98" fill="#2d9fdb"/>
<line x1="150.6" y1="493.42" x2="150.6" y2="488.88" stroke="#2a5f8a" stroke-width="0.7"/>
<line x1="149.7" y1="488.88" x2="151.5" y2="488.88" stroke="#2a5f8a" stroke-width="0.9"/>
<line x1="147.6" y1="530.4" x2="147.6" y2="532.2" stroke="#2b2b2b" stroke-width="0.7"/>
<text x="147.6" y="541.1" font-size="5.9" text-anchor="middle" stroke="#262626" stroke-width="0.16">C3</text>
<rect x="158.75" y="507.69" width="3.7" height="22.71" fill="#f6b21f"/>
<line x1="160.6" y1="507.69" x2="160.6" y2="503.15" stroke="#9a7420" stroke-width="0.7"/>
<line x1="159.7" y1="503.15" x2="161.5" y2="503.15" stroke="#9a7420" stroke-width="0.9"/>
<rect x="164.75" y="501.21" width="3.7" height="29.19" fill="#2d9fdb"/>
<line x1="166.6" y1="501.21" x2="166.6" y2="497.31" stroke="#2a5f8a" stroke-width="0.7"/>
<line x1="165.7" y1="497.31" x2="167.5" y2="497.31" stroke="#2a5f8a" stroke-width="0.9"/>
<line x1="163.6" y1="530.4" x2="163.6" y2="532.2" stroke="#2b2b2b" stroke-width="0.7"/>
<text x="163.6" y="541.1" font-size="5.9" text-anchor="middle" stroke="#262626" stroke-width="0.16">C5</text>
<rect x="174.75" y="508.34" width="3.7" height="22.06" fill="#f6b21f"/>
<line x1="176.6" y1="508.34" x2="176.6" y2="505.75" stroke="#9a7420" stroke-width="0.7"/>
<line x1="175.7" y1="505.75" x2="177.5" y2="505.75" stroke="#9a7420" stroke-width="0.9"/>
<rect x="180.75" y="508.34" width="3.7" height="22.06" fill="#2d9fdb"/>
<line x1="182.6" y1="508.34" x2="182.6" y2="505.1" stroke="#2a5f8a" stroke-width="0.7"/>
<line x1="181.7" y1="505.1" x2="183.5" y2="505.1" stroke="#2a5f8a" stroke-width="0.9"/>
<line x1="179.6" y1="530.4" x2="179.6" y2="532.2" stroke="#2b2b2b" stroke-width="0.7"/>
<text x="179.6" y="541.1" font-size="5.9" text-anchor="middle" stroke="#262626" stroke-width="0.16">C7</text>
<rect x="190.75" y="508.34" width="3.7" height="22.06" fill="#f6b21f"/>
<line x1="192.6" y1="508.34" x2="192.6" y2="505.75" stroke="#9a7420" stroke-width="0.7"/>
<line x1="191.7" y1="505.75" x2="193.5" y2="505.75" stroke="#9a7420" stroke-width="0.9"/>
<rect x="196.75" y="508.99" width="3.7" height="21.41" fill="#2d9fdb"/>
<line x1="198.6" y1="508.99" x2="198.6" y2="505.75" stroke="#2a5f8a" stroke-width="0.7"/>
<line x1="197.7" y1="505.75" x2="199.5" y2="505.75" stroke="#2a5f8a" stroke-width="0.9"/>
<line x1="195.6" y1="530.4" x2="195.6" y2="532.2" stroke="#2b2b2b" stroke-width="0.7"/>
<text x="195.6" y="541.1" font-size="5.9" text-anchor="middle" stroke="#262626" stroke-width="0.16">Post</text>
<line x1="124.6" y1="477" x2="124.6" y2="530.8" stroke="#3a3a3a" stroke-width="1.1"/>
<line x1="122.3" y1="530.8" x2="202.8" y2="530.8" stroke="#3a3a3a" stroke-width="1.1"/>
<line x1="121.9" y1="530.4" x2="124.3" y2="530.4" stroke="#2b2b2b" stroke-width="0.8"/>
<text x="119.1" y="532.8" font-size="5.9" text-anchor="end" fill="#444">0</text>
<line x1="121.9" y1="517.42" x2="124.3" y2="517.42" stroke="#2b2b2b" stroke-width="0.8"/>
<text x="119.1" y="519.82" font-size="5.9" text-anchor="end" fill="#444">1</text>
<line x1="121.9" y1="504.45" x2="124.3" y2="504.45" stroke="#2b2b2b" stroke-width="0.8"/>
<text x="119.1" y="506.85" font-size="5.9" text-anchor="end" fill="#444">2</text>
<line x1="121.9" y1="491.48" x2="124.3" y2="491.48" stroke="#2b2b2b" stroke-width="0.8"/>
<text x="119.1" y="493.88" font-size="5.9" text-anchor="end" fill="#444">3</text>
<line x1="121.9" y1="478.5" x2="124.3" y2="478.5" stroke="#2b2b2b" stroke-width="0.8"/>
<text x="119.1" y="480.9" font-size="5.9" text-anchor="end" fill="#444">4</text>
<text x="163.8" y="470.8" font-size="7.9" text-anchor="middle" stroke="#262626">Cluster 23</text>
<text x="174.9" y="480" font-size="6.1" fill="#262626"><tspan font-style="italic">P</tspan> = .0469</text>
<rect x="33.45" y="612.78" width="3.7" height="4.52" fill="#f6b21f"/>
<line x1="35.3" y1="612.78" x2="35.3" y2="610.19" stroke="#9a7420" stroke-width="0.7"/>
<line x1="34.4" y1="610.19" x2="36.2" y2="610.19" stroke="#9a7420" stroke-width="0.9"/>
<rect x="39.45" y="610.19" width="3.7" height="7.11" fill="#2d9fdb"/>
<line x1="41.3" y1="610.19" x2="41.3" y2="607.61" stroke="#2a5f8a" stroke-width="0.7"/>
<line x1="40.4" y1="607.61" x2="42.2" y2="607.61" stroke="#2a5f8a" stroke-width="0.9"/>
<line x1="38.3" y1="617.3" x2="38.3" y2="619.1" stroke="#2b2b2b" stroke-width="0.7"/>
<text x="38.3" y="628" font-size="5.9" text-anchor="middle" stroke="#262626" stroke-width="0.16">C1</text>
<rect x="49.45" y="599.85" width="3.7" height="17.45" fill="#f6b21f"/>
<line x1="51.3" y1="599.85" x2="51.3" y2="595.33" stroke="#9a7420" stroke-width="0.7"/>
<line x1="50.4" y1="595.33" x2="52.2" y2="595.33" stroke="#9a7420" stroke-width="0.9"/>
<rect x="55.45" y="578.52" width="3.7" height="38.77" fill="#2d9fdb"/>
<line x1="57.3" y1="578.52" x2="57.3" y2="569.48" stroke="#2a5f8a" stroke-width="0.7"/>
<line x1="56.4" y1="569.48" x2="58.2" y2="569.48" stroke="#2a5f8a" stroke-width="0.9"/>
<line x1="54.3" y1="617.3" x2="54.3" y2="619.1" stroke="#2b2b2b" stroke-width="0.7"/>
<text x="54.3" y="628" font-size="5.9" text-anchor="middle" stroke="#262626" stroke-width="0.16">C3</text>
<rect x="65.45" y="607.61" width="3.7" height="9.69" fill="#f6b21f"/>
<line x1="67.3" y1="607.61" x2="67.3" y2="603.08" stroke="#9a7420" stroke-width="0.7"/>
<line x1="66.4" y1="603.08" x2="68.2" y2="603.08" stroke="#9a7420" stroke-width="0.9"/>
<rect x="71.45" y="592.74" width="3.7" height="24.56" fill="#2d9fdb"/>
<line x1="73.3" y1="592.74" x2="73.3" y2="586.28" stroke="#2a5f8a" stroke-width="0.7"/>
<line x1="72.4" y1="586.28" x2="74.2" y2="586.28" stroke="#2a5f8a" stroke-width="0.9"/>
<line x1="70.3" y1="617.3" x2="70.3" y2="619.1" stroke="#2b2b2b" stroke-width="0.7"/>
<text x="70.3" y="628" font-size="5.9" text-anchor="middle" stroke="#262626" stroke-width="0.16">C5</text>
<rect x="81.45" y="605.67" width="3.7" height="11.63" fill="#f6b21f"/>
<line x1="83.3" y1="605.67" x2="83.3" y2="601.79" stroke="#9a7420" stroke-width="0.7"/>
<line x1="82.4" y1="601.79" x2="84.2" y2="601.79" stroke="#9a7420" stroke-width="0.9"/>
<rect x="87.45" y="594.68" width="3.7" height="22.62" fill="#2d9fdb"/>
<line x1="89.3" y1="594.68" x2="89.3" y2="589.51" stroke="#2a5f8a" stroke-width="0.7"/>
<line x1="88.4" y1="589.51" x2="90.2" y2="589.51" stroke="#2a5f8a" stroke-width="0.9"/>
<line x1="86.3" y1="617.3" x2="86.3" y2="619.1" stroke="#2b2b2b" stroke-width="0.7"/>
<text x="86.3" y="628" font-size="5.9" text-anchor="middle" stroke="#262626" stroke-width="0.16">C7</text>
<rect x="97.45" y="606.64" width="3.7" height="10.66" fill="#f6b21f"/>
<line x1="99.3" y1="606.64" x2="99.3" y2="603.73" stroke="#9a7420" stroke-width="0.7"/>
<line x1="98.4" y1="603.73" x2="100.2" y2="603.73" stroke="#9a7420" stroke-width="0.9"/>
<rect x="103.45" y="597.91" width="3.7" height="19.39" fill="#2d9fdb"/>
<line x1="105.3" y1="597.91" x2="105.3" y2="591.45" stroke="#2a5f8a" stroke-width="0.7"/>
<line x1="104.4" y1="591.45" x2="106.2" y2="591.45" stroke="#2a5f8a" stroke-width="0.9"/>
<line x1="102.3" y1="617.3" x2="102.3" y2="619.1" stroke="#2b2b2b" stroke-width="0.7"/>
<text x="102.3" y="628" font-size="5.9" text-anchor="middle" stroke="#262626" stroke-width="0.16">Post</text>
<line x1="31.3" y1="564.1" x2="31.3" y2="617.7" stroke="#3a3a3a" stroke-width="1.1"/>
<line x1="29" y1="617.7" x2="109.5" y2="617.7" stroke="#3a3a3a" stroke-width="1.1"/>
<line x1="28.6" y1="617.3" x2="31" y2="617.3" stroke="#2b2b2b" stroke-width="0.8"/>
<text x="25.8" y="619.7" font-size="5.9" text-anchor="end" fill="#444">0</text>
<line x1="28.6" y1="604.38" x2="31" y2="604.38" stroke="#2b2b2b" stroke-width="0.8"/>
<text x="25.8" y="606.77" font-size="5.9" text-anchor="end" fill="#444">2</text>
<line x1="28.6" y1="591.45" x2="31" y2="591.45" stroke="#2b2b2b" stroke-width="0.8"/>
<text x="25.8" y="593.85" font-size="5.9" text-anchor="end" fill="#444">4</text>
<line x1="28.6" y1="578.52" x2="31" y2="578.52" stroke="#2b2b2b" stroke-width="0.8"/>
<text x="25.8" y="580.92" font-size="5.9" text-anchor="end" fill="#444">6</text>
<line x1="28.6" y1="565.6" x2="31" y2="565.6" stroke="#2b2b2b" stroke-width="0.8"/>
<text x="25.8" y="568" font-size="5.9" text-anchor="end" fill="#444">8</text>
<text x="70.5" y="558.3" font-size="7.9" text-anchor="middle" stroke="#262626">Cluster 31</text>
<text x="81.6" y="572" font-size="6.1" fill="#262626"><tspan font-style="italic">P</tspan> = .0312</text>
<text transform="translate(14.4 590.45) rotate(-90)" font-size="7.2" stroke="#262626" stroke-width="0.3" text-anchor="middle" textLength="29.8" lengthAdjust="spacingAndGlyphs">%Live CD3+</text>
<rect x="124.3" y="583.5" width="9.6" height="4.7" fill="#f6b21f"/>
<rect x="124.3" y="592.8" width="9.6" height="4.7" fill="#2d9fdb"/>
<text x="137.3" y="588.2" font-size="5.9" fill="#333" stroke="#333" stroke-width="0.16">CR/sCR</text>
<text x="137.3" y="597.5" font-size="5.9" fill="#333" stroke="#333" stroke-width="0.16">PR/VGPR</text>
<rect x="226.5" y="586.41" width="4.9" height="31.19" fill="#5b2a8a"/>
<line x1="228.95" y1="586.41" x2="228.95" y2="581.8" stroke="#5b2a8a" stroke-width="0.8"/>
<line x1="227.85" y1="581.8" x2="230.05" y2="581.8" stroke="#5b2a8a" stroke-width="0.9"/>
<rect x="233.6" y="589.39" width="4.9" height="28.21" fill="#8cc56c"/>
<line x1="236.05" y1="589.39" x2="236.05" y2="581.8" stroke="#9ccf80" stroke-width="0.8"/>
<line x1="234.95" y1="581.8" x2="237.15" y2="581.8" stroke="#9ccf80" stroke-width="0.9"/>
<line x1="232.5" y1="617.6" x2="232.5" y2="619.4" stroke="#2b2b2b" stroke-width="0.7"/>
<text x="232.5" y="628.2" font-size="6" text-anchor="middle" stroke="#262626" stroke-width="0.16">C1</text>
<rect x="246.1" y="586.68" width="4.9" height="30.92" fill="#5b2a8a"/>
<line x1="248.55" y1="586.68" x2="248.55" y2="582.34" stroke="#5b2a8a" stroke-width="0.8"/>
<line x1="247.45" y1="582.34" x2="249.65" y2="582.34" stroke="#5b2a8a" stroke-width="0.9"/>
<rect x="253.2" y="598.61" width="4.9" height="18.99" fill="#8cc56c"/>
<line x1="255.65" y1="598.61" x2="255.65" y2="595.9" stroke="#9ccf80" stroke-width="0.8"/>
<line x1="254.55" y1="595.9" x2="256.75" y2="595.9" stroke="#9ccf80" stroke-width="0.9"/>
<line x1="252.1" y1="617.6" x2="252.1" y2="619.4" stroke="#2b2b2b" stroke-width="0.7"/>
<text x="252.1" y="628.2" font-size="6" text-anchor="middle" stroke="#262626" stroke-width="0.16">C7</text>
<rect x="265.7" y="586.13" width="4.9" height="31.46" fill="#5b2a8a"/>
<line x1="268.15" y1="586.13" x2="268.15" y2="580.71" stroke="#5b2a8a" stroke-width="0.8"/>
<line x1="267.05" y1="580.71" x2="269.25" y2="580.71" stroke="#5b2a8a" stroke-width="0.9"/>
<rect x="272.8" y="596.99" width="4.9" height="20.61" fill="#8cc56c"/>
<line x1="275.25" y1="596.99" x2="275.25" y2="592.64" stroke="#9ccf80" stroke-width="0.8"/>
<line x1="274.15" y1="592.64" x2="276.35" y2="592.64" stroke="#9ccf80" stroke-width="0.9"/>
<line x1="271.7" y1="617.6" x2="271.7" y2="619.4" stroke="#2b2b2b" stroke-width="0.7"/>
<text x="271.7" y="628.2" font-size="6" text-anchor="middle" stroke="#262626" stroke-width="0.16">Post</text>
<line x1="224" y1="572.7" x2="224" y2="618" stroke="#444" stroke-width="1.15"/>
<line x1="221.3" y1="617.6" x2="281.8" y2="617.6" stroke="#333" stroke-width="1.1"/>
<line x1="221.9" y1="617.6" x2="224.3" y2="617.6" stroke="#2b2b2b" stroke-width="0.8"/>
<text x="218.3" y="620" font-size="5.9" text-anchor="end" stroke="#262626" stroke-width="0.08">0</text>
<line x1="221.9" y1="606.75" x2="224.3" y2="606.75" stroke="#2b2b2b" stroke-width="0.8"/>
<text x="218.3" y="609.15" font-size="5.9" text-anchor="end" stroke="#262626" stroke-width="0.08">2</text>
<line x1="221.9" y1="595.9" x2="224.3" y2="595.9" stroke="#2b2b2b" stroke-width="0.8"/>
<text x="218.3" y="598.3" font-size="5.9" text-anchor="end" stroke="#262626" stroke-width="0.08">4</text>
<line x1="221.9" y1="585.05" x2="224.3" y2="585.05" stroke="#2b2b2b" stroke-width="0.8"/>
<text x="218.3" y="587.45" font-size="5.9" text-anchor="end" stroke="#262626" stroke-width="0.08">6</text>
<line x1="221.9" y1="574.2" x2="224.3" y2="574.2" stroke="#2b2b2b" stroke-width="0.8"/>
<text x="218.3" y="576.6" font-size="5.9" text-anchor="end" stroke="#262626" stroke-width="0.08">8</text>
<text x="252.8" y="566.9" font-size="7.9" text-anchor="middle" stroke="#262626">Cluster 18</text>
<text x="231.5" y="576.2" font-size="6.1" fill="#262626"><tspan font-style="italic">P</tspan> = .0543</text>
<text transform="translate(210.0 595.5) rotate(-90)" font-size="7.3" stroke="#262626" stroke-width="0.3" text-anchor="middle" textLength="29.7" lengthAdjust="spacingAndGlyphs">%Live CD3+</text>
<rect x="296.5" y="609.21" width="4.9" height="8.09" fill="#5b2a8a"/>
<line x1="298.95" y1="609.21" x2="298.95" y2="606.65" stroke="#5b2a8a" stroke-width="0.8"/>
<line x1="297.85" y1="606.65" x2="300.05" y2="606.65" stroke="#5b2a8a" stroke-width="0.9"/>
<rect x="303.6" y="607.93" width="4.9" height="9.37" fill="#8cc56c"/>
<line x1="306.05" y1="607.93" x2="306.05" y2="604.09" stroke="#9ccf80" stroke-width="0.8"/>
<line x1="304.95" y1="604.09" x2="307.15" y2="604.09" stroke="#9ccf80" stroke-width="0.9"/>
<line x1="302.5" y1="617.3" x2="302.5" y2="619.1" stroke="#2b2b2b" stroke-width="0.7"/>
<text x="302.5" y="627.9" font-size="6" text-anchor="middle" stroke="#262626" stroke-width="0.16">C1</text>
<rect x="316.1" y="588.76" width="4.9" height="28.54" fill="#5b2a8a"/>
<line x1="318.55" y1="588.76" x2="318.55" y2="581.94" stroke="#5b2a8a" stroke-width="0.8"/>
<line x1="317.45" y1="581.94" x2="319.65" y2="581.94" stroke="#5b2a8a" stroke-width="0.9"/>
<rect x="323.2" y="598.56" width="4.9" height="18.74" fill="#8cc56c"/>
<line x1="325.65" y1="598.56" x2="325.65" y2="593.44" stroke="#9ccf80" stroke-width="0.8"/>
<line x1="324.55" y1="593.44" x2="326.75" y2="593.44" stroke="#9ccf80" stroke-width="0.9"/>
<line x1="322.1" y1="617.3" x2="322.1" y2="619.1" stroke="#2b2b2b" stroke-width="0.7"/>
<text x="322.1" y="627.9" font-size="6" text-anchor="middle" stroke="#262626" stroke-width="0.16">C7</text>
<rect x="335.7" y="593.87" width="4.9" height="23.43" fill="#5b2a8a"/>
<line x1="338.15" y1="593.87" x2="338.15" y2="586.63" stroke="#5b2a8a" stroke-width="0.8"/>
<line x1="337.05" y1="586.63" x2="339.25" y2="586.63" stroke="#5b2a8a" stroke-width="0.9"/>
<rect x="342.8" y="601.11" width="4.9" height="16.19" fill="#8cc56c"/>
<line x1="345.25" y1="601.11" x2="345.25" y2="595.15" stroke="#9ccf80" stroke-width="0.8"/>
<line x1="344.15" y1="595.15" x2="346.35" y2="595.15" stroke="#9ccf80" stroke-width="0.9"/>
<line x1="341.7" y1="617.3" x2="341.7" y2="619.1" stroke="#2b2b2b" stroke-width="0.7"/>
<text x="341.7" y="627.9" font-size="6" text-anchor="middle" stroke="#262626" stroke-width="0.16">Post</text>
<line x1="294" y1="573.2" x2="294" y2="617.7" stroke="#444" stroke-width="1.15"/>
<line x1="291.3" y1="617.3" x2="351.8" y2="617.3" stroke="#333" stroke-width="1.1"/>
<line x1="291.9" y1="617.3" x2="294.3" y2="617.3" stroke="#2b2b2b" stroke-width="0.8"/>
<text x="288.3" y="619.7" font-size="5.9" text-anchor="end" stroke="#262626" stroke-width="0.08">0</text>
<line x1="291.9" y1="608.78" x2="294.3" y2="608.78" stroke="#2b2b2b" stroke-width="0.8"/>
<text x="288.3" y="611.18" font-size="5.9" text-anchor="end" stroke="#262626" stroke-width="0.08">1</text>
<line x1="291.9" y1="600.26" x2="294.3" y2="600.26" stroke="#2b2b2b" stroke-width="0.8"/>
<text x="288.3" y="602.66" font-size="5.9" text-anchor="end" stroke="#262626" stroke-width="0.08">2</text>
<line x1="291.9" y1="591.74" x2="294.3" y2="591.74" stroke="#2b2b2b" stroke-width="0.8"/>
<text x="288.3" y="594.14" font-size="5.9" text-anchor="end" stroke="#262626" stroke-width="0.08">3</text>
<line x1="291.9" y1="583.22" x2="294.3" y2="583.22" stroke="#2b2b2b" stroke-width="0.8"/>
<text x="288.3" y="585.62" font-size="5.9" text-anchor="end" stroke="#262626" stroke-width="0.08">4</text>
<line x1="291.9" y1="574.7" x2="294.3" y2="574.7" stroke="#2b2b2b" stroke-width="0.8"/>
<text x="288.3" y="577.1" font-size="5.9" text-anchor="end" stroke="#262626" stroke-width="0.08">5</text>
<text x="322.8" y="567.4" font-size="7.9" text-anchor="middle" stroke="#262626">Cluster 31</text>
<text x="301.5" y="576.9" font-size="6.1" fill="#262626"><tspan font-style="italic">P</tspan> = .0172</text>
<rect x="386.4" y="610.4" width="4.9" height="6.9" fill="#5b2a8a"/>
<line x1="388.85" y1="610.4" x2="388.85" y2="608.25" stroke="#5b2a8a" stroke-width="0.8"/>
<line x1="387.75" y1="608.25" x2="389.95" y2="608.25" stroke="#5b2a8a" stroke-width="0.9"/>
<rect x="393.5" y="610.4" width="4.9" height="6.9" fill="#8cc56c"/>
<line x1="395.95" y1="610.4" x2="395.95" y2="608.25" stroke="#9ccf80" stroke-width="0.8"/>
<line x1="394.85" y1="608.25" x2="397.05" y2="608.25" stroke="#9ccf80" stroke-width="0.9"/>
<line x1="392.4" y1="617.3" x2="392.4" y2="619.1" stroke="#2b2b2b" stroke-width="0.7"/>
<text x="392.4" y="627.9" font-size="6" text-anchor="middle" stroke="#262626" stroke-width="0.16">C1</text>
<rect x="406" y="609.97" width="4.9" height="7.33" fill="#5b2a8a"/>
<line x1="408.45" y1="609.97" x2="408.45" y2="607.82" stroke="#5b2a8a" stroke-width="0.8"/>
<line x1="407.35" y1="607.82" x2="409.55" y2="607.82" stroke="#5b2a8a" stroke-width="0.9"/>
<rect x="413.1" y="611.7" width="4.9" height="5.6" fill="#8cc56c"/>
<line x1="415.55" y1="611.7" x2="415.55" y2="610.4" stroke="#9ccf80" stroke-width="0.8"/>
<line x1="414.45" y1="610.4" x2="416.65" y2="610.4" stroke="#9ccf80" stroke-width="0.9"/>
<line x1="412" y1="617.3" x2="412" y2="619.1" stroke="#2b2b2b" stroke-width="0.7"/>
<text x="412" y="627.9" font-size="6" text-anchor="middle" stroke="#262626" stroke-width="0.16">C7</text>
<rect x="425.6" y="593.16" width="4.9" height="24.14" fill="#5b2a8a"/>
<line x1="428.05" y1="593.16" x2="428.05" y2="582.82" stroke="#5b2a8a" stroke-width="0.8"/>
<line x1="426.95" y1="582.82" x2="429.15" y2="582.82" stroke="#5b2a8a" stroke-width="0.9"/>
<rect x="432.7" y="616.01" width="4.9" height="1.29" fill="#8cc56c"/>
<line x1="435.15" y1="616.01" x2="435.15" y2="615.14" stroke="#9ccf80" stroke-width="0.8"/>
<line x1="434.05" y1="615.14" x2="436.25" y2="615.14" stroke="#9ccf80" stroke-width="0.9"/>
<line x1="431.6" y1="617.3" x2="431.6" y2="619.1" stroke="#2b2b2b" stroke-width="0.7"/>
<text x="431.6" y="627.9" font-size="6" text-anchor="middle" stroke="#262626" stroke-width="0.16">Post</text>
<line x1="383.9" y1="572.7" x2="383.9" y2="617.7" stroke="#444" stroke-width="1.15"/>
<line x1="381.2" y1="617.3" x2="441.7" y2="617.3" stroke="#333" stroke-width="1.1"/>
<line x1="381.8" y1="617.3" x2="384.2" y2="617.3" stroke="#2b2b2b" stroke-width="0.8"/>
<text x="378.2" y="619.7" font-size="5.9" text-anchor="end" stroke="#262626" stroke-width="0.08">0</text>
<line x1="381.8" y1="608.68" x2="384.2" y2="608.68" stroke="#2b2b2b" stroke-width="0.8"/>
<text x="378.2" y="611.08" font-size="5.9" text-anchor="end" stroke="#262626" stroke-width="0.08">2</text>
<line x1="381.8" y1="600.06" x2="384.2" y2="600.06" stroke="#2b2b2b" stroke-width="0.8"/>
<text x="378.2" y="602.46" font-size="5.9" text-anchor="end" stroke="#262626" stroke-width="0.08">4</text>
<line x1="381.8" y1="591.44" x2="384.2" y2="591.44" stroke="#2b2b2b" stroke-width="0.8"/>
<text x="378.2" y="593.84" font-size="5.9" text-anchor="end" stroke="#262626" stroke-width="0.08">6</text>
<line x1="381.8" y1="582.82" x2="384.2" y2="582.82" stroke="#2b2b2b" stroke-width="0.8"/>
<text x="378.2" y="585.22" font-size="5.9" text-anchor="end" stroke="#262626" stroke-width="0.08">8</text>
<line x1="381.8" y1="574.2" x2="384.2" y2="574.2" stroke="#2b2b2b" stroke-width="0.8"/>
<text x="378.2" y="576.6" font-size="5.9" text-anchor="end" stroke="#262626" stroke-width="0.08">10</text>
<text x="412.7" y="557.4" font-size="7.9" text-anchor="middle" stroke="#262626">CD4 Effector</text>
<text x="412.7" y="566.9" font-size="7.9" text-anchor="middle" stroke="#262626">[LAG3+]</text>
<text x="391.4" y="576.2" font-size="6.1" fill="#262626"><tspan font-style="italic">P</tspan> = .0364</text>
<text transform="translate(366.0 595.0) rotate(-90)" font-size="7.3" stroke="#262626" stroke-width="0.3" text-anchor="middle" textLength="34.8" lengthAdjust="spacingAndGlyphs">%Live effector</text>
<rect x="460.4" y="595.75" width="4.9" height="21.55" fill="#5b2a8a"/>
<line x1="462.85" y1="595.75" x2="462.85" y2="592.16" stroke="#5b2a8a" stroke-width="0.8"/>
<line x1="461.75" y1="592.16" x2="463.95" y2="592.16" stroke="#5b2a8a" stroke-width="0.9"/>
<rect x="467.5" y="595.75" width="4.9" height="21.55" fill="#8cc56c"/>
<line x1="469.95" y1="595.75" x2="469.95" y2="592.88" stroke="#9ccf80" stroke-width="0.8"/>
<line x1="468.85" y1="592.88" x2="471.05" y2="592.88" stroke="#9ccf80" stroke-width="0.9"/>
<line x1="466.4" y1="617.3" x2="466.4" y2="619.1" stroke="#2b2b2b" stroke-width="0.7"/>
<text x="466.4" y="627.9" font-size="6" text-anchor="middle" stroke="#262626" stroke-width="0.16">C1</text>
<rect x="480" y="595.75" width="4.9" height="21.55" fill="#5b2a8a"/>
<line x1="482.45" y1="595.75" x2="482.45" y2="592.16" stroke="#5b2a8a" stroke-width="0.8"/>
<line x1="481.35" y1="592.16" x2="483.55" y2="592.16" stroke="#5b2a8a" stroke-width="0.9"/>
<rect x="487.1" y="596.47" width="4.9" height="20.83" fill="#8cc56c"/>
<line x1="489.55" y1="596.47" x2="489.55" y2="592.16" stroke="#9ccf80" stroke-width="0.8"/>
<line x1="488.45" y1="592.16" x2="490.65" y2="592.16" stroke="#9ccf80" stroke-width="0.9"/>
<line x1="486" y1="617.3" x2="486" y2="619.1" stroke="#2b2b2b" stroke-width="0.7"/>
<text x="486" y="627.9" font-size="6" text-anchor="middle" stroke="#262626" stroke-width="0.16">C7</text>
<rect x="499.6" y="583.54" width="4.9" height="33.76" fill="#5b2a8a"/>
<line x1="502.05" y1="583.54" x2="502.05" y2="576.36" stroke="#5b2a8a" stroke-width="0.8"/>
<line x1="500.95" y1="576.36" x2="503.15" y2="576.36" stroke="#5b2a8a" stroke-width="0.9"/>
<rect x="506.7" y="593.6" width="4.9" height="23.7" fill="#8cc56c"/>
<line x1="509.15" y1="593.6" x2="509.15" y2="590" stroke="#9ccf80" stroke-width="0.8"/>
<line x1="508.05" y1="590" x2="510.25" y2="590" stroke="#9ccf80" stroke-width="0.9"/>
<line x1="505.6" y1="617.3" x2="505.6" y2="619.1" stroke="#2b2b2b" stroke-width="0.7"/>
<text x="505.6" y="627.9" font-size="6" text-anchor="middle" stroke="#262626" stroke-width="0.16">Post</text>
<line x1="457.9" y1="572.7" x2="457.9" y2="617.7" stroke="#444" stroke-width="1.15"/>
<line x1="455.2" y1="617.3" x2="515.7" y2="617.3" stroke="#333" stroke-width="1.1"/>
<line x1="455.8" y1="617.3" x2="458.2" y2="617.3" stroke="#2b2b2b" stroke-width="0.8"/>
<text x="452.2" y="619.7" font-size="5.9" text-anchor="end" stroke="#262626" stroke-width="0.08">0</text>
<line x1="455.8" y1="602.93" x2="458.2" y2="602.93" stroke="#2b2b2b" stroke-width="0.8"/>
<text x="452.2" y="605.33" font-size="5.9" text-anchor="end" stroke="#262626" stroke-width="0.08">10</text>
<line x1="455.8" y1="588.57" x2="458.2" y2="588.57" stroke="#2b2b2b" stroke-width="0.8"/>
<text x="452.2" y="590.97" font-size="5.9" text-anchor="end" stroke="#262626" stroke-width="0.08">20</text>
<line x1="455.8" y1="574.2" x2="458.2" y2="574.2" stroke="#2b2b2b" stroke-width="0.8"/>
<text x="452.2" y="576.6" font-size="5.9" text-anchor="end" stroke="#262626" stroke-width="0.08">30</text>
<text x="486.7" y="557.4" font-size="7.9" text-anchor="middle" stroke="#262626">CD8 Effector</text>
<text x="486.7" y="566.9" font-size="7.9" text-anchor="middle" stroke="#262626">[LAG3+]</text>
<text x="465.4" y="576.2" font-size="6.1" fill="#262626"><tspan font-style="italic">P</tspan> = .0395</text>
<rect x="307.7" y="632.9" width="10.1" height="4.9" fill="#5b2a8a"/>
<text x="320.9" y="637.8" font-size="5.9" fill="#333" stroke="#333" stroke-width="0.16">MRD detected</text>
<rect x="367" y="632.9" width="9.9" height="4.9" fill="#8cc56c"/>
<text x="380" y="637.8" font-size="5.9" fill="#333" stroke="#333" stroke-width="0.16">Undetectable MRD</text>
<rect x="269.9" y="393.6" width="5.7" height="5.44" fill="#82c877"/>
<rect x="275.2" y="393.6" width="5.7" height="5.44" fill="#82c877"/>
<rect x="280.5" y="393.6" width="5.7" height="5.44" fill="#4bb43a"/>
<rect x="285.8" y="393.6" width="5.7" height="5.44" fill="#4bb43a"/>
<rect x="291.1" y="393.6" width="5.7" height="5.44" fill="#4bb43a"/>
<rect x="296.4" y="393.6" width="5.7" height="5.44" fill="#4bb43a"/>
<rect x="301.7" y="393.6" width="5.7" height="5.44" fill="#f6f6f4"/>
<rect x="307" y="393.6" width="5.7" height="5.44" fill="#f6f6f4"/>
<rect x="312.3" y="393.6" width="5.7" height="5.44" fill="#c8e6bf"/>
<rect x="317.6" y="393.6" width="5.7" height="5.44" fill="#f6f6f4"/>
<rect x="322.9" y="393.6" width="5.7" height="5.44" fill="#c8e6bf"/>
<rect x="328.2" y="393.6" width="5.7" height="5.44" fill="#ef8b8b"/>
<rect x="333.5" y="393.6" width="5.7" height="5.44" fill="#82c877"/>
<rect x="338.8" y="393.6" width="5.7" height="5.44" fill="#82c877"/>
<rect x="344.1" y="393.6" width="5.7" height="5.44" fill="#4bb43a"/>
<rect x="349.4" y="393.6" width="5.7" height="5.44" fill="#4bb43a"/>
<rect x="354.7" y="393.6" width="5.7" height="5.44" fill="#82c877"/>
<rect x="360" y="393.6" width="5.7" height="5.44" fill="#c8e6bf"/>
<rect x="365.3" y="393.6" width="5.7" height="5.44" fill="#f6f6f4"/>
<rect x="370.6" y="393.6" width="5.7" height="5.44" fill="#4bb43a"/>
<rect x="375.9" y="393.6" width="5.7" height="5.44" fill="#4bb43a"/>
<rect x="381.2" y="393.6" width="5.7" height="5.44" fill="#4bb43a"/>
<rect x="386.5" y="393.6" width="5.7" height="5.44" fill="#f6f6f4"/>
<rect x="391.8" y="393.6" width="5.7" height="5.44" fill="#4bb43a"/>
<rect x="397.1" y="393.6" width="5.7" height="5.44" fill="#c8e6bf"/>
<rect x="402.4" y="393.6" width="5.7" height="5.44" fill="#82c877"/>
<rect x="407.7" y="393.6" width="5.7" height="5.44" fill="#ef8b8b"/>
<rect x="413" y="393.6" width="5.7" height="5.44" fill="#f5c9c9"/>
<rect x="418.3" y="393.6" width="5.7" height="5.44" fill="#e31b1e"/>
<rect x="423.6" y="393.6" width="5.7" height="5.44" fill="#82c877"/>
<rect x="428.9" y="393.6" width="5.7" height="5.44" fill="#f5c9c9"/>
<rect x="434.2" y="393.6" width="5.7" height="5.44" fill="#f6f6f4"/>
<rect x="439.5" y="393.6" width="5.7" height="5.44" fill="#4bb43a"/>
<rect x="444.8" y="393.6" width="5.7" height="5.44" fill="#e31b1e"/>
<rect x="450.1" y="393.6" width="5.3" height="5.44" fill="#ef8b8b"/>
<rect x="269.9" y="398.64" width="5.7" height="5.44" fill="#c8e6bf"/>
<rect x="275.2" y="398.64" width="5.7" height="5.44" fill="#c8e6bf"/>
<rect x="280.5" y="398.64" width="5.7" height="5.44" fill="#c8e6bf"/>
<rect x="285.8" y="398.64" width="5.7" height="5.44" fill="#c8e6bf"/>
<rect x="291.1" y="398.64" width="5.7" height="5.44" fill="#4bb43a"/>
<rect x="296.4" y="398.64" width="5.7" height="5.44" fill="#f6f6f4"/>
<rect x="301.7" y="398.64" width="5.7" height="5.44" fill="#f5c9c9"/>
<rect x="307" y="398.64" width="5.7" height="5.44" fill="#f5c9c9"/>
<rect x="312.3" y="398.64" width="5.7" height="5.44" fill="#82c877"/>
<rect x="317.6" y="398.64" width="5.7" height="5.44" fill="#c8e6bf"/>
<rect x="322.9" y="398.64" width="5.7" height="5.44" fill="#f5c9c9"/>
<rect x="328.2" y="398.64" width="5.7" height="5.44" fill="#4bb43a"/>
<rect x="333.5" y="398.64" width="5.7" height="5.44" fill="#ef8b8b"/>
<rect x="338.8" y="398.64" width="5.7" height="5.44" fill="#f6f6f4"/>
<rect x="344.1" y="398.64" width="5.7" height="5.44" fill="#f5c9c9"/>
<rect x="349.4" y="398.64" width="5.7" height="5.44" fill="#c8e6bf"/>
<rect x="354.7" y="398.64" width="5.7" height="5.44" fill="#82c877"/>
<rect x="360" y="398.64" width="5.7" height="5.44" fill="#82c877"/>
<rect x="365.3" y="398.64" width="5.7" height="5.44" fill="#c8e6bf"/>
<rect x="370.6" y="398.64" width="5.7" height="5.44" fill="#4bb43a"/>
<rect x="375.9" y="398.64" width="5.7" height="5.44" fill="#4bb43a"/>
<rect x="381.2" y="398.64" width="5.7" height="5.44" fill="#c8e6bf"/>
<rect x="386.5" y="398.64" width="5.7" height="5.44" fill="#4bb43a"/>
<rect x="391.8" y="398.64" width="5.7" height="5.44" fill="#f5c9c9"/>
<rect x="397.1" y="398.64" width="5.7" height="5.44" fill="#4bb43a"/>
<rect x="402.4" y="398.64" width="5.7" height="5.44" fill="#e31b1e"/>
<rect x="407.7" y="398.64" width="5.7" height="5.44" fill="#f6f6f4"/>
<rect x="413" y="398.64" width="5.7" height="5.44" fill="#4bb43a"/>
<rect x="418.3" y="398.64" width="5.7" height="5.44" fill="#c8e6bf"/>
<rect x="423.6" y="398.64" width="5.7" height="5.44" fill="#82c877"/>
<rect x="428.9" y="398.64" width="5.7" height="5.44" fill="#c8e6bf"/>
<rect x="434.2" y="398.64" width="5.7" height="5.44" fill="#4bb43a"/>
<rect x="439.5" y="398.64" width="5.7" height="5.44" fill="#4bb43a"/>
<rect x="444.8" y="398.64" width="5.7" height="5.44" fill="#ef8b8b"/>
<rect x="450.1" y="398.64" width="5.3" height="5.44" fill="#e31b1e"/>
<rect x="269.9" y="403.68" width="5.7" height="5.44" fill="#4bb43a"/>
<rect x="275.2" y="403.68" width="5.7" height="5.44" fill="#4bb43a"/>
<rect x="280.5" y="403.68" width="5.7" height="5.44" fill="#4bb43a"/>
<rect x="285.8" y="403.68" width="5.7" height="5.44" fill="#4bb43a"/>
<rect x="291.1" y="403.68" width="5.7" height="5.44" fill="#f6f6f4"/>
<rect x="296.4" y="403.68" width="5.7" height="5.44" fill="#f5c9c9"/>
<rect x="301.7" y="403.68" width="5.7" height="5.44" fill="#4bb43a"/>
<rect x="307" y="403.68" width="5.7" height="5.44" fill="#4bb43a"/>
<rect x="312.3" y="403.68" width="5.7" height="5.44" fill="#4bb43a"/>
<rect x="317.6" y="403.68" width="5.7" height="5.44" fill="#4bb43a"/>
<rect x="322.9" y="403.68" width="5.7" height="5.44" fill="#4bb43a"/>
<rect x="328.2" y="403.68" width="5.7" height="5.44" fill="#82c877"/>
<rect x="333.5" y="403.68" width="5.7" height="5.44" fill="#82c877"/>
<rect x="338.8" y="403.68" width="5.7" height="5.44" fill="#82c877"/>
<rect x="344.1" y="403.68" width="5.7" height="5.44" fill="#c8e6bf"/>
<rect x="349.4" y="403.68" width="5.7" height="5.44" fill="#f5c9c9"/>
<rect x="354.7" y="403.68" width="5.7" height="5.44" fill="#82c877"/>
<rect x="360" y="403.68" width="5.7" height="5.44" fill="#4bb43a"/>
<rect x="365.3" y="403.68" width="5.7" height="5.44" fill="#c8e6bf"/>
<rect x="370.6" y="403.68" width="5.7" height="5.44" fill="#f6f6f4"/>
<rect x="375.9" y="403.68" width="5.7" height="5.44" fill="#f6f6f4"/>
<rect x="381.2" y="403.68" width="5.7" height="5.44" fill="#f5c9c9"/>
<rect x="386.5" y="403.68" width="5.7" height="5.44" fill="#f5c9c9"/>
<rect x="391.8" y="403.68" width="5.7" height="5.44" fill="#f5c9c9"/>
<rect x="397.1" y="403.68" width="5.7" height="5.44" fill="#f5c9c9"/>
<rect x="402.4" y="403.68" width="5.7" height="5.44" fill="#c8e6bf"/>
<rect x="407.7" y="403.68" width="5.7" height="5.44" fill="#f5c9c9"/>
<rect x="413" y="403.68" width="5.7" height="5.44" fill="#f5c9c9"/>
<rect x="418.3" y="403.68" width="5.7" height="5.44" fill="#4bb43a"/>
<rect x="423.6" y="403.68" width="5.7" height="5.44" fill="#e31b1e"/>
<rect x="428.9" y="403.68" width="5.7" height="5.44" fill="#e31b1e"/>
<rect x="434.2" y="403.68" width="5.7" height="5.44" fill="#4bb43a"/>
<rect x="439.5" y="403.68" width="5.7" height="5.44" fill="#f6f6f4"/>
<rect x="444.8" y="403.68" width="5.7" height="5.44" fill="#4bb43a"/>
<rect x="450.1" y="403.68" width="5.3" height="5.44" fill="#4bb43a"/>
<rect x="269.9" y="408.72" width="5.7" height="5.44" fill="#4bb43a"/>
<rect x="275.2" y="408.72" width="5.7" height="5.44" fill="#4bb43a"/>
<rect x="280.5" y="408.72" width="5.7" height="5.44" fill="#4bb43a"/>
<rect x="285.8" y="408.72" width="5.7" height="5.44" fill="#4bb43a"/>
<rect x="291.1" y="408.72" width="5.7" height="5.44" fill="#4bb43a"/>
<rect x="296.4" y="408.72" width="5.7" height="5.44" fill="#4bb43a"/>
<rect x="301.7" y="408.72" width="5.7" height="5.44" fill="#4bb43a"/>
<rect x="307" y="408.72" width="5.7" height="5.44" fill="#4bb43a"/>
<rect x="312.3" y="408.72" width="5.7" height="5.44" fill="#f6f6f4"/>
<rect x="317.6" y="408.72" width="5.7" height="5.44" fill="#f5c9c9"/>
<rect x="322.9" y="408.72" width="5.7" height="5.44" fill="#f6f6f4"/>
<rect x="328.2" y="408.72" width="5.7" height="5.44" fill="#4bb43a"/>
<rect x="333.5" y="408.72" width="5.7" height="5.44" fill="#82c877"/>
<rect x="338.8" y="408.72" width="5.7" height="5.44" fill="#f5c9c9"/>
<rect x="344.1" y="408.72" width="5.7" height="5.44" fill="#c8e6bf"/>
<rect x="349.4" y="408.72" width="5.7" height="5.44" fill="#ef8b8b"/>
<rect x="354.7" y="408.72" width="5.7" height="5.44" fill="#82c877"/>
<rect x="360" y="408.72" width="5.7" height="5.44" fill="#4bb43a"/>
<rect x="365.3" y="408.72" width="5.7" height="5.44" fill="#4bb43a"/>
<rect x="370.6" y="408.72" width="5.7" height="5.44" fill="#4bb43a"/>
<rect x="375.9" y="408.72" width="5.7" height="5.44" fill="#4bb43a"/>
<rect x="381.2" y="408.72" width="5.7" height="5.44" fill="#4bb43a"/>
<rect x="386.5" y="408.72" width="5.7" height="5.44" fill="#4bb43a"/>
<rect x="391.8" y="408.72" width="5.7" height="5.44" fill="#4bb43a"/>
<rect x="397.1" y="408.72" width="5.7" height="5.44" fill="#4bb43a"/>
<rect x="402.4" y="408.72" width="5.7" height="5.44" fill="#4bb43a"/>
<rect x="407.7" y="408.72" width="5.7" height="5.44" fill="#4bb43a"/>
<rect x="413" y="408.72" width="5.7" height="5.44" fill="#c8e6bf"/>
<rect x="418.3" y="408.72" width="5.7" height="5.44" fill="#4bb43a"/>
<rect x="423.6" y="408.72" width="5.7" height="5.44" fill="#c8e6bf"/>
<rect x="428.9" y="408.72" width="5.7" height="5.44" fill="#4bb43a"/>
<rect x="434.2" y="408.72" width="5.7" height="5.44" fill="#e31b1e"/>
<rect x="439.5" y="408.72" width="5.7" height="5.44" fill="#ef8b8b"/>
<rect x="444.8" y="408.72" width="5.7" height="5.44" fill="#4bb43a"/>
<rect x="450.1" y="408.72" width="5.3" height="5.44" fill="#4bb43a"/>
<rect x="269.9" y="413.76" width="5.7" height="5.04" fill="#c8e6bf"/>
<rect x="275.2" y="413.76" width="5.7" height="5.04" fill="#82c877"/>
<rect x="280.5" y="413.76" width="5.7" height="5.04" fill="#4bb43a"/>
<rect x="285.8" y="413.76" width="5.7" height="5.04" fill="#4bb43a"/>
<rect x="291.1" y="413.76" width="5.7" height="5.04" fill="#c8e6bf"/>
<rect x="296.4" y="413.76" width="5.7" height="5.04" fill="#c8e6bf"/>
<rect x="301.7" y="413.76" width="5.7" height="5.04" fill="#f6f6f4"/>
<rect x="307" y="413.76" width="5.7" height="5.04" fill="#c8e6bf"/>
<rect x="312.3" y="413.76" width="5.7" height="5.04" fill="#f6f6f4"/>
<rect x="317.6" y="413.76" width="5.7" height="5.04" fill="#4bb43a"/>
<rect x="322.9" y="413.76" width="5.7" height="5.04" fill="#4bb43a"/>
<rect x="328.2" y="413.76" width="5.7" height="5.04" fill="#82c877"/>
<rect x="333.5" y="413.76" width="5.7" height="5.04" fill="#4bb43a"/>
<rect x="338.8" y="413.76" width="5.7" height="5.04" fill="#f6f6f4"/>
<rect x="344.1" y="413.76" width="5.7" height="5.04" fill="#c8e6bf"/>
<rect x="349.4" y="413.76" width="5.7" height="5.04" fill="#4bb43a"/>
<rect x="354.7" y="413.76" width="5.7" height="5.04" fill="#ef8b8b"/>
<rect x="360" y="413.76" width="5.7" height="5.04" fill="#ef8b8b"/>
<rect x="365.3" y="413.76" width="5.7" height="5.04" fill="#ef8b8b"/>
<rect x="370.6" y="413.76" width="5.7" height="5.04" fill="#f5c9c9"/>
<rect x="375.9" y="413.76" width="5.7" height="5.04" fill="#f5c9c9"/>
<rect x="381.2" y="413.76" width="5.7" height="5.04" fill="#f6f6f4"/>
<rect x="386.5" y="413.76" width="5.7" height="5.04" fill="#f5c9c9"/>
<rect x="391.8" y="413.76" width="5.7" height="5.04" fill="#ef8b8b"/>
<rect x="397.1" y="413.76" width="5.7" height="5.04" fill="#e31b1e"/>
<rect x="402.4" y="413.76" width="5.7" height="5.04" fill="#f5c9c9"/>
<rect x="407.7" y="413.76" width="5.7" height="5.04" fill="#f5c9c9"/>
<rect x="413" y="413.76" width="5.7" height="5.04" fill="#ef8b8b"/>
<rect x="418.3" y="413.76" width="5.7" height="5.04" fill="#4bb43a"/>
<rect x="423.6" y="413.76" width="5.7" height="5.04" fill="#c8e6bf"/>
<rect x="428.9" y="413.76" width="5.7" height="5.04" fill="#ef8b8b"/>
<rect x="434.2" y="413.76" width="5.7" height="5.04" fill="#4bb43a"/>
<rect x="439.5" y="413.76" width="5.7" height="5.04" fill="#4bb43a"/>
<rect x="444.8" y="413.76" width="5.7" height="5.04" fill="#4bb43a"/>
<rect x="450.1" y="413.76" width="5.3" height="5.04" fill="#4bb43a"/>
<rect x="269.9" y="424.2" width="5.35" height="5.4" fill="#b9dba8"/>
<rect x="275.45" y="424.2" width="4.8" height="5.4" fill="#5d2a94"/>
<rect x="280.75" y="424.2" width="4.8" height="5.4" fill="#5d2a94"/>
<rect x="285.8" y="424.2" width="5.35" height="5.4" fill="#b9dba8"/>
<rect x="291.35" y="424.2" width="4.8" height="5.4" fill="#5d2a94"/>
<rect x="296.65" y="424.2" width="4.8" height="5.4" fill="#5d2a94"/>
<rect x="301.7" y="424.2" width="5.35" height="5.4" fill="#b9dba8"/>
<rect x="307.25" y="424.2" width="4.8" height="5.4" fill="#5d2a94"/>
<rect x="312.55" y="424.2" width="4.8" height="5.4" fill="#5d2a94"/>
<rect x="317.85" y="424.2" width="4.8" height="5.4" fill="#5d2a94"/>
<rect x="322.9" y="424.2" width="5.35" height="5.4" fill="#b9dba8"/>
<rect x="328.45" y="424.2" width="4.8" height="5.4" fill="#5d2a94"/>
<rect x="333.75" y="424.2" width="4.8" height="5.4" fill="#5d2a94"/>
<rect x="339.05" y="424.2" width="4.8" height="5.4" fill="#5d2a94"/>
<rect x="344.35" y="424.2" width="4.8" height="5.4" fill="#5d2a94"/>
<rect x="349.65" y="424.2" width="4.8" height="5.4" fill="#5d2a94"/>
<rect x="354.95" y="424.2" width="4.8" height="5.4" fill="#5d2a94"/>
<rect x="360.25" y="424.2" width="4.8" height="5.4" fill="#5d2a94"/>
<rect x="365.55" y="424.2" width="4.8" height="5.4" fill="#5d2a94"/>
<rect x="370.85" y="424.2" width="4.8" height="5.4" fill="#5d2a94"/>
<rect x="375.9" y="424.2" width="5.35" height="5.4" fill="#b9dba8"/>
<rect x="381.2" y="424.2" width="5.35" height="5.4" fill="#b9dba8"/>
<rect x="386.75" y="424.2" width="4.8" height="5.4" fill="#5d2a94"/>
<rect x="392.05" y="424.2" width="4.8" height="5.4" fill="#5d2a94"/>
<rect x="397.1" y="424.2" width="5.35" height="5.4" fill="#b9dba8"/>
<rect x="402.65" y="424.2" width="4.8" height="5.4" fill="#5d2a94"/>
<rect x="407.7" y="424.2" width="5.35" height="5.4" fill="#b9dba8"/>
<rect x="413" y="424.2" width="5.35" height="5.4" fill="#b9dba8"/>
<rect x="418.55" y="424.2" width="4.8" height="5.4" fill="#5d2a94"/>
<rect x="423.6" y="424.2" width="5.35" height="5.4" fill="#b9dba8"/>
<rect x="429.15" y="424.2" width="4.8" height="5.4" fill="#5d2a94"/>
<rect x="434.2" y="424.2" width="5.35" height="5.4" fill="#b9dba8"/>
<rect x="439.5" y="424.2" width="5.35" height="5.4" fill="#b9dba8"/>
<rect x="444.8" y="424.2" width="5.35" height="5.4" fill="#b9dba8"/>
<rect x="450.1" y="424.2" width="5.35" height="5.4" fill="#b9dba8"/>
<rect x="369.4" y="393.3" width="86" height="37.3" fill="none" stroke="#d83a34" stroke-width="1.0"/>
<text x="458.3" y="398.3" font-size="5.9" fill="#333" stroke="#333" stroke-width="0.16">Cluster 26</text>
<text x="458.3" y="403.5" font-size="5.9" fill="#333" stroke="#333" stroke-width="0.16">Cluster 24</text>
<text x="458.3" y="408.7" font-size="5.9" fill="#333" stroke="#333" stroke-width="0.16">Cluster 31</text>
<text x="458.3" y="413.9" font-size="5.9" fill="#333" stroke="#333" stroke-width="0.16">Cluster 21</text>
<text x="458.3" y="419.1" font-size="5.9" fill="#333" stroke="#333" stroke-width="0.16">Cluster 18</text>
<line x1="262.9" y1="396.12" x2="268.1" y2="396.12" stroke="#8a8a8a" stroke-width="0.7"/>
<line x1="264.9" y1="401.16" x2="268.1" y2="401.16" stroke="#8a8a8a" stroke-width="0.7"/>
<line x1="262.9" y1="406.2" x2="268.1" y2="406.2" stroke="#8a8a8a" stroke-width="0.7"/>
<line x1="264.9" y1="411.24" x2="268.1" y2="411.24" stroke="#8a8a8a" stroke-width="0.7"/>
<line x1="262.9" y1="416.28" x2="268.1" y2="416.28" stroke="#8a8a8a" stroke-width="0.7"/>
<text x="250.6" y="389.4" font-size="7.9" fill="#222" stroke="#222">C1</text>
<path d="M272.55 388.29H277.85M283.15 388.13H288.45M293.75 388.5H299.05M304.35 387.72H309.65M314.95 388.12H320.25M325.55 389.48H330.85M336.15 387.8H341.45M346.75 388.42H357.35M362.65 389.73H367.95M373.25 388.18H383.85M389.15 387.94H399.75M405.05 387.73H410.35M415.65 388.12H420.95M426.25 389.44H431.55M436.85 389.49H447.45M347.57 382.1H452.4M277.9 385.6H351.57M367.57 387.1H445.4" fill="none" stroke="#cfcfcf" stroke-width="0.45"/>
<path d="M272.55 392.8V391.69M277.85 392.8V389.65M283.15 392.8V389.3M288.45 392.8V390.57M293.75 392.8V389.54M299.05 392.8V388.94M304.35 392.8V388.33M309.65 392.8V391.05M314.95 392.8V391.11M320.25 392.8V389.36M325.55 392.8V390.34M330.85 392.8V391.55M336.15 392.8V390.54M341.45 392.8V388.61M346.75 392.8V390.64M352.05 392.8V390.53M357.35 392.8V389.9M362.65 392.8V390.68M367.95 392.8V390.8M373.25 392.8V389.12M378.55 392.8V391.13M383.85 392.8V390.95M389.15 392.8V390.75M394.45 392.8V390.92M399.75 392.8V389.09M405.05 392.8V391.03M410.35 392.8V389.12M415.65 392.8V390.47M420.95 392.8V389.43M426.25 392.8V391.19M431.55 392.8V390.75M436.85 392.8V390M442.15 392.8V391.18M447.45 392.8V390.93M452.75 392.8V389.72M296.4 388.5V385.45M307 387.72V384.68M352.05 388.42V384.64M394.45 387.94V385.07M407.7 387.73V384.82M442.15 389.49V387.96M347.57 382.1V388.1" fill="none" stroke="#9a9a9a" stroke-width="0.45"/>
<rect x="269" y="448.1" width="5.64" height="5.46" fill="#f5c9c9"/>
<rect x="274.24" y="448.1" width="5.64" height="5.46" fill="#c8e6bf"/>
<rect x="279.48" y="448.1" width="5.64" height="5.46" fill="#c8e6bf"/>
<rect x="284.72" y="448.1" width="5.64" height="5.46" fill="#4bb43a"/>
<rect x="289.96" y="448.1" width="5.64" height="5.46" fill="#4bb43a"/>
<rect x="295.2" y="448.1" width="5.64" height="5.46" fill="#82c877"/>
<rect x="300.44" y="448.1" width="5.64" height="5.46" fill="#e31b1e"/>
<rect x="305.68" y="448.1" width="5.64" height="5.46" fill="#e31b1e"/>
<rect x="310.92" y="448.1" width="5.64" height="5.46" fill="#e31b1e"/>
<rect x="316.16" y="448.1" width="5.64" height="5.46" fill="#4bb43a"/>
<rect x="321.4" y="448.1" width="5.64" height="5.46" fill="#c8e6bf"/>
<rect x="326.64" y="448.1" width="5.64" height="5.46" fill="#f6f6f4"/>
<rect x="331.88" y="448.1" width="5.64" height="5.46" fill="#f6f6f4"/>
<rect x="337.12" y="448.1" width="5.64" height="5.46" fill="#ef8b8b"/>
<rect x="342.36" y="448.1" width="5.64" height="5.46" fill="#c8e6bf"/>
<rect x="347.6" y="448.1" width="5.64" height="5.46" fill="#4bb43a"/>
<rect x="352.84" y="448.1" width="5.64" height="5.46" fill="#4bb43a"/>
<rect x="358.08" y="448.1" width="5.64" height="5.46" fill="#4bb43a"/>
<rect x="363.32" y="448.1" width="5.64" height="5.46" fill="#c8e6bf"/>
<rect x="368.56" y="448.1" width="5.64" height="5.46" fill="#82c877"/>
<rect x="373.8" y="448.1" width="5.64" height="5.46" fill="#4bb43a"/>
<rect x="379.04" y="448.1" width="5.64" height="5.46" fill="#4bb43a"/>
<rect x="384.28" y="448.1" width="5.64" height="5.46" fill="#c8e6bf"/>
<rect x="389.52" y="448.1" width="5.64" height="5.46" fill="#f6f6f4"/>
<rect x="394.76" y="448.1" width="5.64" height="5.46" fill="#c8e6bf"/>
<rect x="400" y="448.1" width="5.64" height="5.46" fill="#4bb43a"/>
<rect x="405.24" y="448.1" width="5.64" height="5.46" fill="#c8e6bf"/>
<rect x="410.48" y="448.1" width="5.64" height="5.46" fill="#c8e6bf"/>
<rect x="415.72" y="448.1" width="5.64" height="5.46" fill="#c8e6bf"/>
<rect x="420.96" y="448.1" width="5.24" height="5.46" fill="#4bb43a"/>
<rect x="269" y="453.16" width="5.64" height="5.46" fill="#ef8b8b"/>
<rect x="274.24" y="453.16" width="5.64" height="5.46" fill="#f5c9c9"/>
<rect x="279.48" y="453.16" width="5.64" height="5.46" fill="#c8e6bf"/>
<rect x="284.72" y="453.16" width="5.64" height="5.46" fill="#4bb43a"/>
<rect x="289.96" y="453.16" width="5.64" height="5.46" fill="#c8e6bf"/>
<rect x="295.2" y="453.16" width="5.64" height="5.46" fill="#4bb43a"/>
<rect x="300.44" y="453.16" width="5.64" height="5.46" fill="#4bb43a"/>
<rect x="305.68" y="453.16" width="5.64" height="5.46" fill="#82c877"/>
<rect x="310.92" y="453.16" width="5.64" height="5.46" fill="#e31b1e"/>
<rect x="316.16" y="453.16" width="5.64" height="5.46" fill="#82c877"/>
<rect x="321.4" y="453.16" width="5.64" height="5.46" fill="#4bb43a"/>
<rect x="326.64" y="453.16" width="5.64" height="5.46" fill="#4bb43a"/>
<rect x="331.88" y="453.16" width="5.64" height="5.46" fill="#c8e6bf"/>
<rect x="337.12" y="453.16" width="5.64" height="5.46" fill="#4bb43a"/>
<rect x="342.36" y="453.16" width="5.64" height="5.46" fill="#4bb43a"/>
<rect x="347.6" y="453.16" width="5.64" height="5.46" fill="#4bb43a"/>
<rect x="352.84" y="453.16" width="5.64" height="5.46" fill="#82c877"/>
<rect x="358.08" y="453.16" width="5.64" height="5.46" fill="#4bb43a"/>
<rect x="363.32" y="453.16" width="5.64" height="5.46" fill="#4bb43a"/>
<rect x="368.56" y="453.16" width="5.64" height="5.46" fill="#82c877"/>
<rect x="373.8" y="453.16" width="5.64" height="5.46" fill="#ef8b8b"/>
<rect x="379.04" y="453.16" width="5.64" height="5.46" fill="#ef8b8b"/>
<rect x="384.28" y="453.16" width="5.64" height="5.46" fill="#ef8b8b"/>
<rect x="389.52" y="453.16" width="5.64" height="5.46" fill="#f5c9c9"/>
<rect x="394.76" y="453.16" width="5.64" height="5.46" fill="#ef8b8b"/>
<rect x="400" y="453.16" width="5.64" height="5.46" fill="#ef8b8b"/>
<rect x="405.24" y="453.16" width="5.64" height="5.46" fill="#f6f6f4"/>
<rect x="410.48" y="453.16" width="5.64" height="5.46" fill="#e31b1e"/>
<rect x="415.72" y="453.16" width="5.64" height="5.46" fill="#4bb43a"/>
<rect x="420.96" y="453.16" width="5.24" height="5.46" fill="#4bb43a"/>
<rect x="269" y="458.22" width="5.64" height="5.46" fill="#f5c9c9"/>
<rect x="274.24" y="458.22" width="5.64" height="5.46" fill="#f5c9c9"/>
<rect x="279.48" y="458.22" width="5.64" height="5.46" fill="#4bb43a"/>
<rect x="284.72" y="458.22" width="5.64" height="5.46" fill="#f6f6f4"/>
<rect x="289.96" y="458.22" width="5.64" height="5.46" fill="#f5c9c9"/>
<rect x="295.2" y="458.22" width="5.64" height="5.46" fill="#e31b1e"/>
<rect x="300.44" y="458.22" width="5.64" height="5.46" fill="#f5c9c9"/>
<rect x="305.68" y="458.22" width="5.64" height="5.46" fill="#f6f6f4"/>
<rect x="310.92" y="458.22" width="5.64" height="5.46" fill="#f5c9c9"/>
<rect x="316.16" y="458.22" width="5.64" height="5.46" fill="#f6f6f4"/>
<rect x="321.4" y="458.22" width="5.64" height="5.46" fill="#f5c9c9"/>
<rect x="326.64" y="458.22" width="5.64" height="5.46" fill="#f5c9c9"/>
<rect x="331.88" y="458.22" width="5.64" height="5.46" fill="#f5c9c9"/>
<rect x="337.12" y="458.22" width="5.64" height="5.46" fill="#f6f6f4"/>
<rect x="342.36" y="458.22" width="5.64" height="5.46" fill="#ef8b8b"/>
<rect x="347.6" y="458.22" width="5.64" height="5.46" fill="#4bb43a"/>
<rect x="352.84" y="458.22" width="5.64" height="5.46" fill="#4bb43a"/>
<rect x="358.08" y="458.22" width="5.64" height="5.46" fill="#4bb43a"/>
<rect x="363.32" y="458.22" width="5.64" height="5.46" fill="#4bb43a"/>
<rect x="368.56" y="458.22" width="5.64" height="5.46" fill="#4bb43a"/>
<rect x="373.8" y="458.22" width="5.64" height="5.46" fill="#4bb43a"/>
<rect x="379.04" y="458.22" width="5.64" height="5.46" fill="#4bb43a"/>
<rect x="384.28" y="458.22" width="5.64" height="5.46" fill="#c8e6bf"/>
<rect x="389.52" y="458.22" width="5.64" height="5.46" fill="#4bb43a"/>
<rect x="394.76" y="458.22" width="5.64" height="5.46" fill="#4bb43a"/>
<rect x="400" y="458.22" width="5.64" height="5.46" fill="#4bb43a"/>
<rect x="405.24" y="458.22" width="5.64" height="5.46" fill="#4bb43a"/>
<rect x="410.48" y="458.22" width="5.64" height="5.46" fill="#4bb43a"/>
<rect x="415.72" y="458.22" width="5.64" height="5.46" fill="#4bb43a"/>
<rect x="420.96" y="458.22" width="5.24" height="5.46" fill="#4bb43a"/>
<rect x="269" y="463.28" width="5.64" height="5.46" fill="#4bb43a"/>
<rect x="274.24" y="463.28" width="5.64" height="5.46" fill="#82c877"/>
<rect x="279.48" y="463.28" width="5.64" height="5.46" fill="#4bb43a"/>
<rect x="284.72" y="463.28" width="5.64" height="5.46" fill="#4bb43a"/>
<rect x="289.96" y="463.28" width="5.64" height="5.46" fill="#f6f6f4"/>
<rect x="295.2" y="463.28" width="5.64" height="5.46" fill="#4bb43a"/>
<rect x="300.44" y="463.28" width="5.64" height="5.46" fill="#4bb43a"/>
<rect x="305.68" y="463.28" width="5.64" height="5.46" fill="#4bb43a"/>
<rect x="310.92" y="463.28" width="5.64" height="5.46" fill="#4bb43a"/>
<rect x="316.16" y="463.28" width="5.64" height="5.46" fill="#4bb43a"/>
<rect x="321.4" y="463.28" width="5.64" height="5.46" fill="#82c877"/>
<rect x="326.64" y="463.28" width="5.64" height="5.46" fill="#c8e6bf"/>
<rect x="331.88" y="463.28" width="5.64" height="5.46" fill="#f5c9c9"/>
<rect x="337.12" y="463.28" width="5.64" height="5.46" fill="#82c877"/>
<rect x="342.36" y="463.28" width="5.64" height="5.46" fill="#4bb43a"/>
<rect x="347.6" y="463.28" width="5.64" height="5.46" fill="#c8e6bf"/>
<rect x="352.84" y="463.28" width="5.64" height="5.46" fill="#f6f6f4"/>
<rect x="358.08" y="463.28" width="5.64" height="5.46" fill="#c8e6bf"/>
<rect x="363.32" y="463.28" width="5.64" height="5.46" fill="#4bb43a"/>
<rect x="368.56" y="463.28" width="5.64" height="5.46" fill="#82c877"/>
<rect x="373.8" y="463.28" width="5.64" height="5.46" fill="#4bb43a"/>
<rect x="379.04" y="463.28" width="5.64" height="5.46" fill="#4bb43a"/>
<rect x="384.28" y="463.28" width="5.64" height="5.46" fill="#4bb43a"/>
<rect x="389.52" y="463.28" width="5.64" height="5.46" fill="#4bb43a"/>
<rect x="394.76" y="463.28" width="5.64" height="5.46" fill="#4bb43a"/>
<rect x="400" y="463.28" width="5.64" height="5.46" fill="#f6f6f4"/>
<rect x="405.24" y="463.28" width="5.64" height="5.46" fill="#c8e6bf"/>
<rect x="410.48" y="463.28" width="5.64" height="5.46" fill="#e31b1e"/>
<rect x="415.72" y="463.28" width="5.64" height="5.46" fill="#e31b1e"/>
<rect x="420.96" y="463.28" width="5.24" height="5.46" fill="#f5c9c9"/>
<rect x="269" y="468.34" width="5.64" height="5.06" fill="#ef8b8b"/>
<rect x="274.24" y="468.34" width="5.64" height="5.06" fill="#f5c9c9"/>
<rect x="279.48" y="468.34" width="5.64" height="5.06" fill="#f5c9c9"/>
<rect x="284.72" y="468.34" width="5.64" height="5.06" fill="#ef8b8b"/>
<rect x="289.96" y="468.34" width="5.64" height="5.06" fill="#e31b1e"/>
<rect x="295.2" y="468.34" width="5.64" height="5.06" fill="#f6f6f4"/>
<rect x="300.44" y="468.34" width="5.64" height="5.06" fill="#c8e6bf"/>
<rect x="305.68" y="468.34" width="5.64" height="5.06" fill="#f5c9c9"/>
<rect x="310.92" y="468.34" width="5.64" height="5.06" fill="#e31b1e"/>
<rect x="316.16" y="468.34" width="5.64" height="5.06" fill="#c8e6bf"/>
<rect x="321.4" y="468.34" width="5.64" height="5.06" fill="#f6f6f4"/>
<rect x="326.64" y="468.34" width="5.64" height="5.06" fill="#f5c9c9"/>
<rect x="331.88" y="468.34" width="5.64" height="5.06" fill="#f6f6f4"/>
<rect x="337.12" y="468.34" width="5.64" height="5.06" fill="#c8e6bf"/>
<rect x="342.36" y="468.34" width="5.64" height="5.06" fill="#f6f6f4"/>
<rect x="347.6" y="468.34" width="5.64" height="5.06" fill="#4bb43a"/>
<rect x="352.84" y="468.34" width="5.64" height="5.06" fill="#4bb43a"/>
<rect x="358.08" y="468.34" width="5.64" height="5.06" fill="#4bb43a"/>
<rect x="363.32" y="468.34" width="5.64" height="5.06" fill="#c8e6bf"/>
<rect x="368.56" y="468.34" width="5.64" height="5.06" fill="#c8e6bf"/>
<rect x="373.8" y="468.34" width="5.64" height="5.06" fill="#c8e6bf"/>
<rect x="379.04" y="468.34" width="5.64" height="5.06" fill="#4bb43a"/>
<rect x="384.28" y="468.34" width="5.64" height="5.06" fill="#c8e6bf"/>
<rect x="389.52" y="468.34" width="5.64" height="5.06" fill="#4bb43a"/>
<rect x="394.76" y="468.34" width="5.64" height="5.06" fill="#4bb43a"/>
<rect x="400" y="468.34" width="5.64" height="5.06" fill="#f6f6f4"/>
<rect x="405.24" y="468.34" width="5.64" height="5.06" fill="#4bb43a"/>
<rect x="410.48" y="468.34" width="5.64" height="5.06" fill="#4bb43a"/>
<rect x="415.72" y="468.34" width="5.64" height="5.06" fill="#4bb43a"/>
<rect x="420.96" y="468.34" width="5.24" height="5.06" fill="#4bb43a"/>
<rect x="269.25" y="478.3" width="4.74" height="5" fill="#5d2a94"/>
<rect x="274.49" y="478.3" width="4.74" height="5" fill="#5d2a94"/>
<rect x="279.73" y="478.3" width="4.74" height="5" fill="#5d2a94"/>
<rect x="284.97" y="478.3" width="4.74" height="5" fill="#5d2a94"/>
<rect x="290.21" y="478.3" width="4.74" height="5" fill="#5d2a94"/>
<rect x="295.45" y="478.3" width="4.74" height="5" fill="#5d2a94"/>
<rect x="300.69" y="478.3" width="4.74" height="5" fill="#5d2a94"/>
<rect x="305.93" y="478.3" width="4.74" height="5" fill="#5d2a94"/>
<rect x="311.17" y="478.3" width="4.74" height="5" fill="#5d2a94"/>
<rect x="316.41" y="478.3" width="4.74" height="5" fill="#5d2a94"/>
<rect x="321.4" y="478.3" width="5.29" height="5" fill="#b9dba8"/>
<rect x="326.89" y="478.3" width="4.74" height="5" fill="#5d2a94"/>
<rect x="332.13" y="478.3" width="4.74" height="5" fill="#5d2a94"/>
<rect x="337.12" y="478.3" width="5.29" height="5" fill="#b9dba8"/>
<rect x="342.61" y="478.3" width="4.74" height="5" fill="#5d2a94"/>
<rect x="347.6" y="478.3" width="5.29" height="5" fill="#b9dba8"/>
<rect x="352.84" y="478.3" width="5.29" height="5" fill="#b9dba8"/>
<rect x="358.33" y="478.3" width="4.74" height="5" fill="#5d2a94"/>
<rect x="363.32" y="478.3" width="5.29" height="5" fill="#b9dba8"/>
<rect x="368.56" y="478.3" width="5.29" height="5" fill="#b9dba8"/>
<rect x="373.8" y="478.3" width="5.29" height="5" fill="#b9dba8"/>
<rect x="379.29" y="478.3" width="4.74" height="5" fill="#5d2a94"/>
<rect x="384.53" y="478.3" width="4.74" height="5" fill="#5d2a94"/>
<rect x="389.77" y="478.3" width="4.74" height="5" fill="#5d2a94"/>
<rect x="395.01" y="478.3" width="4.74" height="5" fill="#5d2a94"/>
<rect x="400.25" y="478.3" width="4.74" height="5" fill="#5d2a94"/>
<rect x="405.49" y="478.3" width="4.74" height="5" fill="#5d2a94"/>
<rect x="410.48" y="478.3" width="5.29" height="5" fill="#b9dba8"/>
<rect x="415.72" y="478.3" width="5.29" height="5" fill="#b9dba8"/>
<rect x="420.96" y="478.3" width="5.29" height="5" fill="#b9dba8"/>
<rect x="347.6" y="448.1" width="78.6" height="35.9" fill="none" stroke="#d83a34" stroke-width="1.0"/>
<text x="430" y="453.4" font-size="5.9" fill="#333" stroke="#333" stroke-width="0.16">Cluster 26</text>
<text x="430" y="458.55" font-size="5.9" fill="#333" stroke="#333" stroke-width="0.16">Cluster 24</text>
<text x="430" y="463.7" font-size="5.9" fill="#333" stroke="#333" stroke-width="0.16">Cluster 31</text>
<text x="430" y="468.85" font-size="5.9" fill="#333" stroke="#333" stroke-width="0.16">Cluster 21</text>
<text x="430" y="474" font-size="5.9" fill="#333" stroke="#333" stroke-width="0.16">Cluster 18</text>
<line x1="262" y1="450.63" x2="267.2" y2="450.63" stroke="#8a8a8a" stroke-width="0.7"/>
<line x1="264" y1="455.69" x2="267.2" y2="455.69" stroke="#8a8a8a" stroke-width="0.7"/>
<line x1="262" y1="460.75" x2="267.2" y2="460.75" stroke="#8a8a8a" stroke-width="0.7"/>
<line x1="264" y1="465.81" x2="267.2" y2="465.81" stroke="#8a8a8a" stroke-width="0.7"/>
<line x1="262" y1="470.87" x2="267.2" y2="470.87" stroke="#8a8a8a" stroke-width="0.7"/>
<text x="250.6" y="445.8" font-size="7.9" fill="#222" stroke="#222">C3</text>
<path d="M271.62 442.63H276.86M282.1 442.41H292.58M297.82 442H303.06M308.3 443.85H318.78M324.02 444.93H334.5M339.74 444.08H344.98M350.22 443.17H360.7M365.94 444.3H371.18M376.42 442.66H386.9M392.14 443.93H402.62M407.86 444.09H413.1M418.34 443.95H423.58M334.03 436.6H423.2M277 440.1H338.03M354.03 441.6H416.2" fill="none" stroke="#cfcfcf" stroke-width="0.45"/>
<path d="M271.62 447.3V444.36M276.86 447.3V444.07M282.1 447.3V444.63M287.34 447.3V443.18M292.58 447.3V445.64M297.82 447.3V446.25M303.06 447.3V443.22M308.3 447.3V444.25M313.54 447.3V445.86M318.78 447.3V445.42M324.02 447.3V445.48M329.26 447.3V445.81M334.5 447.3V445.86M339.74 447.3V444.46M344.98 447.3V445.02M350.22 447.3V444.52M355.46 447.3V445.11M360.7 447.3V446M365.94 447.3V445.55M371.18 447.3V445.86M376.42 447.3V443.17M381.66 447.3V444.6M386.9 447.3V443.46M392.14 447.3V444.59M397.38 447.3V445.75M402.62 447.3V444.76M407.86 447.3V444.55M413.1 447.3V444.46M418.34 447.3V445.26M423.58 447.3V444.79M300.44 442V439.54M368.56 444.3V440.85M397.38 443.93V442.14M410.48 444.09V441.43M420.96 443.95V441.9M334.03 436.6V442.6" fill="none" stroke="#9a9a9a" stroke-width="0.45"/>
<rect x="269.9" y="502.4" width="5.69" height="5.46" fill="#e31b1e"/>
<rect x="275.19" y="502.4" width="5.69" height="5.46" fill="#e31b1e"/>
<rect x="280.48" y="502.4" width="5.69" height="5.46" fill="#e31b1e"/>
<rect x="285.77" y="502.4" width="5.69" height="5.46" fill="#4bb43a"/>
<rect x="291.06" y="502.4" width="5.69" height="5.46" fill="#4bb43a"/>
<rect x="296.35" y="502.4" width="5.69" height="5.46" fill="#4bb43a"/>
<rect x="301.64" y="502.4" width="5.69" height="5.46" fill="#4bb43a"/>
<rect x="306.93" y="502.4" width="5.69" height="5.46" fill="#4bb43a"/>
<rect x="312.22" y="502.4" width="5.69" height="5.46" fill="#82c877"/>
<rect x="317.51" y="502.4" width="5.69" height="5.46" fill="#4bb43a"/>
<rect x="322.8" y="502.4" width="5.69" height="5.46" fill="#4bb43a"/>
<rect x="328.09" y="502.4" width="5.69" height="5.46" fill="#4bb43a"/>
<rect x="333.38" y="502.4" width="5.69" height="5.46" fill="#4bb43a"/>
<rect x="338.67" y="502.4" width="5.69" height="5.46" fill="#f6f6f4"/>
<rect x="343.96" y="502.4" width="5.69" height="5.46" fill="#82c877"/>
<rect x="349.25" y="502.4" width="5.69" height="5.46" fill="#4bb43a"/>
<rect x="354.54" y="502.4" width="5.69" height="5.46" fill="#82c877"/>
<rect x="359.83" y="502.4" width="5.69" height="5.46" fill="#f6f6f4"/>
<rect x="365.12" y="502.4" width="5.69" height="5.46" fill="#4bb43a"/>
<rect x="370.41" y="502.4" width="5.69" height="5.46" fill="#f6f6f4"/>
<rect x="375.7" y="502.4" width="5.69" height="5.46" fill="#82c877"/>
<rect x="380.99" y="502.4" width="5.69" height="5.46" fill="#c8e6bf"/>
<rect x="386.28" y="502.4" width="5.69" height="5.46" fill="#4bb43a"/>
<rect x="391.57" y="502.4" width="5.69" height="5.46" fill="#f6f6f4"/>
<rect x="396.86" y="502.4" width="5.69" height="5.46" fill="#4bb43a"/>
<rect x="402.15" y="502.4" width="5.69" height="5.46" fill="#4bb43a"/>
<rect x="407.44" y="502.4" width="5.69" height="5.46" fill="#4bb43a"/>
<rect x="412.73" y="502.4" width="5.69" height="5.46" fill="#c8e6bf"/>
<rect x="418.02" y="502.4" width="5.69" height="5.46" fill="#c8e6bf"/>
<rect x="423.31" y="502.4" width="5.69" height="5.46" fill="#f6f6f4"/>
<rect x="428.6" y="502.4" width="5.69" height="5.46" fill="#f6f6f4"/>
<rect x="433.89" y="502.4" width="5.69" height="5.46" fill="#e31b1e"/>
<rect x="439.18" y="502.4" width="5.29" height="5.46" fill="#f6f6f4"/>
<rect x="269.9" y="507.46" width="5.69" height="5.46" fill="#c8e6bf"/>
<rect x="275.19" y="507.46" width="5.69" height="5.46" fill="#4bb43a"/>
<rect x="280.48" y="507.46" width="5.69" height="5.46" fill="#4bb43a"/>
<rect x="285.77" y="507.46" width="5.69" height="5.46" fill="#4bb43a"/>
<rect x="291.06" y="507.46" width="5.69" height="5.46" fill="#4bb43a"/>
<rect x="296.35" y="507.46" width="5.69" height="5.46" fill="#4bb43a"/>
<rect x="301.64" y="507.46" width="5.69" height="5.46" fill="#82c877"/>
<rect x="306.93" y="507.46" width="5.69" height="5.46" fill="#4bb43a"/>
<rect x="312.22" y="507.46" width="5.69" height="5.46" fill="#4bb43a"/>
<rect x="317.51" y="507.46" width="5.69" height="5.46" fill="#4bb43a"/>
<rect x="322.8" y="507.46" width="5.69" height="5.46" fill="#c8e6bf"/>
<rect x="328.09" y="507.46" width="5.69" height="5.46" fill="#c8e6bf"/>
<rect x="333.38" y="507.46" width="5.69" height="5.46" fill="#4bb43a"/>
<rect x="338.67" y="507.46" width="5.69" height="5.46" fill="#c8e6bf"/>
<rect x="343.96" y="507.46" width="5.69" height="5.46" fill="#f5c9c9"/>
<rect x="349.25" y="507.46" width="5.69" height="5.46" fill="#4bb43a"/>
<rect x="354.54" y="507.46" width="5.69" height="5.46" fill="#4bb43a"/>
<rect x="359.83" y="507.46" width="5.69" height="5.46" fill="#f6f6f4"/>
<rect x="365.12" y="507.46" width="5.69" height="5.46" fill="#f6f6f4"/>
<rect x="370.41" y="507.46" width="5.69" height="5.46" fill="#4bb43a"/>
<rect x="375.7" y="507.46" width="5.69" height="5.46" fill="#4bb43a"/>
<rect x="380.99" y="507.46" width="5.69" height="5.46" fill="#4bb43a"/>
<rect x="386.28" y="507.46" width="5.69" height="5.46" fill="#82c877"/>
<rect x="391.57" y="507.46" width="5.69" height="5.46" fill="#4bb43a"/>
<rect x="396.86" y="507.46" width="5.69" height="5.46" fill="#4bb43a"/>
<rect x="402.15" y="507.46" width="5.69" height="5.46" fill="#4bb43a"/>
<rect x="407.44" y="507.46" width="5.69" height="5.46" fill="#4bb43a"/>
<rect x="412.73" y="507.46" width="5.69" height="5.46" fill="#4bb43a"/>
<rect x="418.02" y="507.46" width="5.69" height="5.46" fill="#4bb43a"/>
<rect x="423.31" y="507.46" width="5.69" height="5.46" fill="#4bb43a"/>
<rect x="428.6" y="507.46" width="5.69" height="5.46" fill="#4bb43a"/>
<rect x="433.89" y="507.46" width="5.69" height="5.46" fill="#ef8b8b"/>
<rect x="439.18" y="507.46" width="5.29" height="5.46" fill="#e31b1e"/>
<rect x="269.9" y="512.52" width="5.69" height="5.46" fill="#ef8b8b"/>
<rect x="275.19" y="512.52" width="5.69" height="5.46" fill="#ef8b8b"/>
<rect x="280.48" y="512.52" width="5.69" height="5.46" fill="#4bb43a"/>
<rect x="285.77" y="512.52" width="5.69" height="5.46" fill="#ef8b8b"/>
<rect x="291.06" y="512.52" width="5.69" height="5.46" fill="#e31b1e"/>
<rect x="296.35" y="512.52" width="5.69" height="5.46" fill="#ef8b8b"/>
<rect x="301.64" y="512.52" width="5.69" height="5.46" fill="#4bb43a"/>
<rect x="306.93" y="512.52" width="5.69" height="5.46" fill="#82c877"/>
<rect x="312.22" y="512.52" width="5.69" height="5.46" fill="#4bb43a"/>
<rect x="317.51" y="512.52" width="5.69" height="5.46" fill="#4bb43a"/>
<rect x="322.8" y="512.52" width="5.69" height="5.46" fill="#4bb43a"/>
<rect x="328.09" y="512.52" width="5.69" height="5.46" fill="#4bb43a"/>
<rect x="333.38" y="512.52" width="5.69" height="5.46" fill="#4bb43a"/>
<rect x="338.67" y="512.52" width="5.69" height="5.46" fill="#4bb43a"/>
<rect x="343.96" y="512.52" width="5.69" height="5.46" fill="#ef8b8b"/>
<rect x="349.25" y="512.52" width="5.69" height="5.46" fill="#4bb43a"/>
<rect x="354.54" y="512.52" width="5.69" height="5.46" fill="#4bb43a"/>
<rect x="359.83" y="512.52" width="5.69" height="5.46" fill="#4bb43a"/>
<rect x="365.12" y="512.52" width="5.69" height="5.46" fill="#f6f6f4"/>
<rect x="370.41" y="512.52" width="5.69" height="5.46" fill="#f6f6f4"/>
<rect x="375.7" y="512.52" width="5.69" height="5.46" fill="#c8e6bf"/>
<rect x="380.99" y="512.52" width="5.69" height="5.46" fill="#f6f6f4"/>
<rect x="386.28" y="512.52" width="5.69" height="5.46" fill="#c8e6bf"/>
<rect x="391.57" y="512.52" width="5.69" height="5.46" fill="#c8e6bf"/>
<rect x="396.86" y="512.52" width="5.69" height="5.46" fill="#f6f6f4"/>
<rect x="402.15" y="512.52" width="5.69" height="5.46" fill="#c8e6bf"/>
<rect x="407.44" y="512.52" width="5.69" height="5.46" fill="#4bb43a"/>
<rect x="412.73" y="512.52" width="5.69" height="5.46" fill="#f6f6f4"/>
<rect x="418.02" y="512.52" width="5.69" height="5.46" fill="#f5c9c9"/>
<rect x="423.31" y="512.52" width="5.69" height="5.46" fill="#c8e6bf"/>
<rect x="428.6" y="512.52" width="5.69" height="5.46" fill="#f6f6f4"/>
<rect x="433.89" y="512.52" width="5.69" height="5.46" fill="#4bb43a"/>
<rect x="439.18" y="512.52" width="5.29" height="5.46" fill="#4bb43a"/>
<rect x="269.9" y="517.58" width="5.69" height="5.46" fill="#4bb43a"/>
<rect x="275.19" y="517.58" width="5.69" height="5.46" fill="#4bb43a"/>
<rect x="280.48" y="517.58" width="5.69" height="5.46" fill="#4bb43a"/>
<rect x="285.77" y="517.58" width="5.69" height="5.46" fill="#4bb43a"/>
<rect x="291.06" y="517.58" width="5.69" height="5.46" fill="#c8e6bf"/>
<rect x="296.35" y="517.58" width="5.69" height="5.46" fill="#82c877"/>
<rect x="301.64" y="517.58" width="5.69" height="5.46" fill="#f6f6f4"/>
<rect x="306.93" y="517.58" width="5.69" height="5.46" fill="#f6f6f4"/>
<rect x="312.22" y="517.58" width="5.69" height="5.46" fill="#f6f6f4"/>
<rect x="317.51" y="517.58" width="5.69" height="5.46" fill="#c8e6bf"/>
<rect x="322.8" y="517.58" width="5.69" height="5.46" fill="#c8e6bf"/>
<rect x="328.09" y="517.58" width="5.69" height="5.46" fill="#c8e6bf"/>
<rect x="333.38" y="517.58" width="5.69" height="5.46" fill="#c8e6bf"/>
<rect x="338.67" y="517.58" width="5.69" height="5.46" fill="#4bb43a"/>
<rect x="343.96" y="517.58" width="5.69" height="5.46" fill="#4bb43a"/>
<rect x="349.25" y="517.58" width="5.69" height="5.46" fill="#4bb43a"/>
<rect x="354.54" y="517.58" width="5.69" height="5.46" fill="#82c877"/>
<rect x="359.83" y="517.58" width="5.69" height="5.46" fill="#4bb43a"/>
<rect x="365.12" y="517.58" width="5.69" height="5.46" fill="#f6f6f4"/>
<rect x="370.41" y="517.58" width="5.69" height="5.46" fill="#f6f6f4"/>
<rect x="375.7" y="517.58" width="5.69" height="5.46" fill="#c8e6bf"/>
<rect x="380.99" y="517.58" width="5.69" height="5.46" fill="#4bb43a"/>
<rect x="386.28" y="517.58" width="5.69" height="5.46" fill="#82c877"/>
<rect x="391.57" y="517.58" width="5.69" height="5.46" fill="#c8e6bf"/>
<rect x="396.86" y="517.58" width="5.69" height="5.46" fill="#e31b1e"/>
<rect x="402.15" y="517.58" width="5.69" height="5.46" fill="#ef8b8b"/>
<rect x="407.44" y="517.58" width="5.69" height="5.46" fill="#ef8b8b"/>
<rect x="412.73" y="517.58" width="5.69" height="5.46" fill="#e31b1e"/>
<rect x="418.02" y="517.58" width="5.69" height="5.46" fill="#f6f6f4"/>
<rect x="423.31" y="517.58" width="5.69" height="5.46" fill="#f5c9c9"/>
<rect x="428.6" y="517.58" width="5.69" height="5.46" fill="#f5c9c9"/>
<rect x="433.89" y="517.58" width="5.69" height="5.46" fill="#4bb43a"/>
<rect x="439.18" y="517.58" width="5.29" height="5.46" fill="#c8e6bf"/>
<rect x="269.9" y="522.64" width="5.69" height="5.06" fill="#f5c9c9"/>
<rect x="275.19" y="522.64" width="5.69" height="5.06" fill="#c8e6bf"/>
<rect x="280.48" y="522.64" width="5.69" height="5.06" fill="#f6f6f4"/>
<rect x="285.77" y="522.64" width="5.69" height="5.06" fill="#e31b1e"/>
<rect x="291.06" y="522.64" width="5.69" height="5.06" fill="#f6f6f4"/>
<rect x="296.35" y="522.64" width="5.69" height="5.06" fill="#f5c9c9"/>
<rect x="301.64" y="522.64" width="5.69" height="5.06" fill="#4bb43a"/>
<rect x="306.93" y="522.64" width="5.69" height="5.06" fill="#4bb43a"/>
<rect x="312.22" y="522.64" width="5.69" height="5.06" fill="#4bb43a"/>
<rect x="317.51" y="522.64" width="5.69" height="5.06" fill="#c8e6bf"/>
<rect x="322.8" y="522.64" width="5.69" height="5.06" fill="#c8e6bf"/>
<rect x="328.09" y="522.64" width="5.69" height="5.06" fill="#c8e6bf"/>
<rect x="333.38" y="522.64" width="5.69" height="5.06" fill="#c8e6bf"/>
<rect x="338.67" y="522.64" width="5.69" height="5.06" fill="#4bb43a"/>
<rect x="343.96" y="522.64" width="5.69" height="5.06" fill="#ef8b8b"/>
<rect x="349.25" y="522.64" width="5.69" height="5.06" fill="#f5c9c9"/>
<rect x="354.54" y="522.64" width="5.69" height="5.06" fill="#f5c9c9"/>
<rect x="359.83" y="522.64" width="5.69" height="5.06" fill="#f5c9c9"/>
<rect x="365.12" y="522.64" width="5.69" height="5.06" fill="#f5c9c9"/>
<rect x="370.41" y="522.64" width="5.69" height="5.06" fill="#f5c9c9"/>
<rect x="375.7" y="522.64" width="5.69" height="5.06" fill="#f6f6f4"/>
<rect x="380.99" y="522.64" width="5.69" height="5.06" fill="#f5c9c9"/>
<rect x="386.28" y="522.64" width="5.69" height="5.06" fill="#c8e6bf"/>
<rect x="391.57" y="522.64" width="5.69" height="5.06" fill="#c8e6bf"/>
<rect x="396.86" y="522.64" width="5.69" height="5.06" fill="#4bb43a"/>
<rect x="402.15" y="522.64" width="5.69" height="5.06" fill="#4bb43a"/>
<rect x="407.44" y="522.64" width="5.69" height="5.06" fill="#4bb43a"/>
<rect x="412.73" y="522.64" width="5.69" height="5.06" fill="#4bb43a"/>
<rect x="418.02" y="522.64" width="5.69" height="5.06" fill="#c8e6bf"/>
<rect x="423.31" y="522.64" width="5.69" height="5.06" fill="#c8e6bf"/>
<rect x="428.6" y="522.64" width="5.69" height="5.06" fill="#f5c9c9"/>
<rect x="433.89" y="522.64" width="5.69" height="5.06" fill="#4bb43a"/>
<rect x="439.18" y="522.64" width="5.29" height="5.06" fill="#4bb43a"/>
<rect x="269.9" y="532.8" width="5.34" height="5" fill="#b9dba8"/>
<rect x="275.44" y="532.8" width="4.79" height="5" fill="#5d2a94"/>
<rect x="280.73" y="532.8" width="4.79" height="5" fill="#5d2a94"/>
<rect x="286.02" y="532.8" width="4.79" height="5" fill="#5d2a94"/>
<rect x="291.31" y="532.8" width="4.79" height="5" fill="#5d2a94"/>
<rect x="296.6" y="532.8" width="4.79" height="5" fill="#5d2a94"/>
<rect x="301.89" y="532.8" width="4.79" height="5" fill="#5d2a94"/>
<rect x="306.93" y="532.8" width="5.34" height="5" fill="#b9dba8"/>
<rect x="312.47" y="532.8" width="4.79" height="5" fill="#5d2a94"/>
<rect x="317.51" y="532.8" width="5.34" height="5" fill="#b9dba8"/>
<rect x="323.05" y="532.8" width="4.79" height="5" fill="#5d2a94"/>
<rect x="328.34" y="532.8" width="4.79" height="5" fill="#5d2a94"/>
<rect x="333.38" y="532.8" width="5.34" height="5" fill="#b9dba8"/>
<rect x="338.92" y="532.8" width="4.79" height="5" fill="#5d2a94"/>
<rect x="344.21" y="532.8" width="4.79" height="5" fill="#5d2a94"/>
<rect x="349.5" y="532.8" width="4.79" height="5" fill="#5d2a94"/>
<rect x="354.79" y="532.8" width="4.79" height="5" fill="#5d2a94"/>
<rect x="359.83" y="532.8" width="5.34" height="5" fill="#b9dba8"/>
<rect x="365.37" y="532.8" width="4.79" height="5" fill="#5d2a94"/>
<rect x="370.66" y="532.8" width="4.79" height="5" fill="#5d2a94"/>
<rect x="375.7" y="532.8" width="5.34" height="5" fill="#b9dba8"/>
<rect x="381.24" y="532.8" width="4.79" height="5" fill="#5d2a94"/>
<rect x="386.53" y="532.8" width="4.79" height="5" fill="#5d2a94"/>
<rect x="391.82" y="532.8" width="4.79" height="5" fill="#5d2a94"/>
<rect x="397.11" y="532.8" width="4.79" height="5" fill="#5d2a94"/>
<rect x="402.15" y="532.8" width="5.34" height="5" fill="#b9dba8"/>
<rect x="407.44" y="532.8" width="5.34" height="5" fill="#b9dba8"/>
<rect x="412.73" y="532.8" width="5.34" height="5" fill="#b9dba8"/>
<rect x="418.02" y="532.8" width="5.34" height="5" fill="#b9dba8"/>
<rect x="423.31" y="532.8" width="5.34" height="5" fill="#b9dba8"/>
<rect x="428.85" y="532.8" width="4.79" height="5" fill="#5d2a94"/>
<rect x="433.89" y="532.8" width="5.34" height="5" fill="#b9dba8"/>
<rect x="439.18" y="532.8" width="5.34" height="5" fill="#b9dba8"/>
<rect x="375.7" y="502.4" width="68.77" height="36.2" fill="none" stroke="#d83a34" stroke-width="1.0"/>
<text x="447.8" y="507.4" font-size="5.9" fill="#333" stroke="#333" stroke-width="0.16">Cluster 26</text>
<text x="447.8" y="512.55" font-size="5.9" fill="#333" stroke="#333" stroke-width="0.16">Cluster 24</text>
<text x="447.8" y="517.7" font-size="5.9" fill="#333" stroke="#333" stroke-width="0.16">Cluster 31</text>
<text x="447.8" y="522.85" font-size="5.9" fill="#333" stroke="#333" stroke-width="0.16">Cluster 21</text>
<text x="447.8" y="528" font-size="5.9" fill="#333" stroke="#333" stroke-width="0.16">Cluster 18</text>
<line x1="262.9" y1="504.93" x2="268.1" y2="504.93" stroke="#8a8a8a" stroke-width="0.7"/>
<line x1="264.9" y1="509.99" x2="268.1" y2="509.99" stroke="#8a8a8a" stroke-width="0.7"/>
<line x1="262.9" y1="515.05" x2="268.1" y2="515.05" stroke="#8a8a8a" stroke-width="0.7"/>
<line x1="264.9" y1="520.11" x2="268.1" y2="520.11" stroke="#8a8a8a" stroke-width="0.7"/>
<line x1="262.9" y1="525.17" x2="268.1" y2="525.17" stroke="#8a8a8a" stroke-width="0.7"/>
<text x="250.6" y="499.6" font-size="7.9" fill="#222" stroke="#222">C5</text>
<path d="M272.54 497.63H283.12M288.41 498.47H293.7M298.99 496.76H304.28M309.57 497.41H314.86M320.15 496.74H330.73M336.02 498H346.6M351.89 496.86H357.18M362.47 496.31H367.76M373.05 495.96H383.63M388.92 497.48H399.5M404.79 498.05H415.38M420.66 496.63H425.95M431.24 498.08H441.82M340.34 490.9H441.47M277.9 494.4H344.34M360.34 495.9H434.47" fill="none" stroke="#cfcfcf" stroke-width="0.45"/>
<path d="M272.54 501.6V499.87M277.83 501.6V499.17M283.12 501.6V498.67M288.41 501.6V498.99M293.7 501.6V499.38M298.99 501.6V498.1M304.28 501.6V497.32M309.57 501.6V498.82M314.86 501.6V499.28M320.15 501.6V497.85M325.44 501.6V497.89M330.73 501.6V500.5M336.02 501.6V500.34M341.31 501.6V499.97M346.6 501.6V499.08M351.89 501.6V497.96M357.18 501.6V499.83M362.47 501.6V497.31M367.76 501.6V498.75M373.05 501.6V497.3M378.34 501.6V500.25M383.63 501.6V499.66M388.92 501.6V499.09M394.21 501.6V499.07M399.5 501.6V498.11M404.79 501.6V500.16M410.08 501.6V499.47M415.38 501.6V499.38M420.66 501.6V498M425.95 501.6V499.26M431.24 501.6V499.98M436.53 501.6V498.97M441.82 501.6V500.42M277.83 497.63V493.21M325.44 496.74V493.76M341.31 498V496.43M394.21 497.48V495.3M436.53 498.08V496.32M340.34 490.9V496.9" fill="none" stroke="#9a9a9a" stroke-width="0.45"/>
<rect x="464.6" y="449.1" width="8.3" height="4.9" fill="#54238e"/>
<text x="476.2" y="450.2" font-size="5.9" fill="#333" stroke="#333" stroke-width="0.16">MRD</text>
<text x="476.2" y="457.1" font-size="5.9" fill="#333" stroke="#333" stroke-width="0.16">detected</text>
<rect x="464.6" y="468.2" width="8.3" height="4.4" fill="#8ec473"/>
<text x="476.2" y="469.1" font-size="5.9" fill="#333" stroke="#333" stroke-width="0.16">Undetectable</text>
<text x="476.2" y="476" font-size="5.9" fill="#333" stroke="#333" stroke-width="0.16">MRD</text>
<text x="312.8" y="181.8" font-size="7.7" stroke="#262626">Immune clusters associated with response</text>
<path d="M385.3 226.3L385.3 196.3M385.3 226.3L400.3 200.32M385.3 226.3L411.28 211.3M385.3 226.3L415.3 226.3M385.3 226.3L411.28 241.3M385.3 226.3L400.3 252.28M385.3 226.3L385.3 256.3M385.3 226.3L370.3 252.28M385.3 226.3L359.32 241.3M385.3 226.3L355.3 226.3M385.3 226.3L359.32 211.3M385.3 226.3L370.3 200.32" stroke="#ccd6e2" stroke-width="0.45" fill="none"/>
<circle cx="385.3" cy="226.3" r="30" fill="none" stroke="#bf9393" stroke-width="0.65" stroke-dasharray="1.1 1.3"/>
<polygon points="385.3,209.5 395.35,208.89 404.01,215.5 406,226.3 399.59,234.55 393.7,240.85 385.3,243.7 372.55,248.38 360.88,240.4 356.8,226.3 367.11,215.8 382,220.58" fill="none" stroke="#3cae4c" stroke-width="0.8" stroke-linejoin="round"/>
<circle cx="385.3" cy="209.5" r="1.75" fill="#2d8a3c"/>
<circle cx="395.35" cy="208.89" r="1.75" fill="#2d8a3c"/>
<circle cx="404.01" cy="215.5" r="1.75" fill="#2d8a3c"/>
<circle cx="406" cy="226.3" r="1.75" fill="#2d8a3c"/>
<circle cx="399.59" cy="234.55" r="1.75" fill="#2d8a3c"/>
<circle cx="393.7" cy="240.85" r="1.75" fill="#2d8a3c"/>
<circle cx="385.3" cy="243.7" r="1.75" fill="#2d8a3c"/>
<circle cx="372.55" cy="248.38" r="1.75" fill="#2d8a3c"/>
<circle cx="360.88" cy="240.4" r="1.75" fill="#2d8a3c"/>
<circle cx="356.8" cy="226.3" r="1.75" fill="#2d8a3c"/>
<circle cx="367.11" cy="215.8" r="1.75" fill="#2d8a3c"/>
<circle cx="382" cy="220.58" r="1.75" fill="#2d8a3c"/>
<polygon points="385.3,212.2 389.8,218.51 389.2,224.05 393.1,226.3 395.69,232.3 389.05,232.8 385.3,229.9 383.8,228.9 381.4,228.55 380.8,226.3 381.4,224.05 370.6,200.84" fill="none" stroke="#f3a43a" stroke-width="0.8" stroke-linejoin="round"/>
<circle cx="385.3" cy="212.2" r="1.75" fill="#e08a22"/>
<circle cx="389.8" cy="218.51" r="1.75" fill="#e08a22"/>
<circle cx="389.2" cy="224.05" r="1.75" fill="#e08a22"/>
<circle cx="393.1" cy="226.3" r="1.75" fill="#e08a22"/>
<circle cx="395.69" cy="232.3" r="1.75" fill="#e08a22"/>
<circle cx="389.05" cy="232.8" r="1.75" fill="#e08a22"/>
<circle cx="385.3" cy="229.9" r="1.75" fill="#e08a22"/>
<circle cx="383.8" cy="228.9" r="1.75" fill="#e08a22"/>
<circle cx="381.4" cy="228.55" r="1.75" fill="#e08a22"/>
<circle cx="380.8" cy="226.3" r="1.75" fill="#e08a22"/>
<circle cx="381.4" cy="224.05" r="1.75" fill="#e08a22"/>
<circle cx="370.6" cy="200.84" r="1.75" fill="#e08a22"/>
<polygon points="385.3,207.1 393.25,212.53 399.85,217.9 402.4,226.3 398.29,233.8 392.8,239.29 385.3,244.3 373.75,246.31 374.91,232.3 366.4,226.3 373.35,219.4 370.6,200.84" fill="none" stroke="#3a70b0" stroke-width="0.8" stroke-linejoin="round"/>
<circle cx="385.3" cy="207.1" r="1.75" fill="#0f2a57"/>
<circle cx="393.25" cy="212.53" r="1.75" fill="#0f2a57"/>
<circle cx="399.85" cy="217.9" r="1.75" fill="#0f2a57"/>
<circle cx="402.4" cy="226.3" r="1.75" fill="#0f2a57"/>
<circle cx="398.29" cy="233.8" r="1.75" fill="#0f2a57"/>
<circle cx="392.8" cy="239.29" r="1.75" fill="#0f2a57"/>
<circle cx="385.3" cy="244.3" r="1.75" fill="#0f2a57"/>
<circle cx="373.75" cy="246.31" r="1.75" fill="#0f2a57"/>
<circle cx="374.91" cy="232.3" r="1.75" fill="#0f2a57"/>
<circle cx="366.4" cy="226.3" r="1.75" fill="#0f2a57"/>
<circle cx="373.35" cy="219.4" r="1.75" fill="#0f2a57"/>
<circle cx="370.6" cy="200.84" r="1.75" fill="#0f2a57"/>
<polygon points="385.3,217.3 389.05,219.8 397.51,219.25 394.3,226.3 394.39,231.55 397.3,247.08 385.3,245.8 381.55,232.8 380.88,228.85 370,226.3 375.69,220.75 380.05,217.21" fill="none" stroke="#d8242c" stroke-width="0.8" stroke-linejoin="round"/>
<circle cx="385.3" cy="217.3" r="1.75" fill="#9c0f1f"/>
<circle cx="389.05" cy="219.8" r="1.75" fill="#9c0f1f"/>
<circle cx="397.51" cy="219.25" r="1.75" fill="#9c0f1f"/>
<circle cx="394.3" cy="226.3" r="1.75" fill="#9c0f1f"/>
<circle cx="394.39" cy="231.55" r="1.75" fill="#9c0f1f"/>
<circle cx="397.3" cy="247.08" r="1.75" fill="#9c0f1f"/>
<circle cx="385.3" cy="245.8" r="1.75" fill="#9c0f1f"/>
<circle cx="381.55" cy="232.8" r="1.75" fill="#9c0f1f"/>
<circle cx="380.88" cy="228.85" r="1.75" fill="#9c0f1f"/>
<circle cx="370" cy="226.3" r="1.75" fill="#9c0f1f"/>
<circle cx="375.69" cy="220.75" r="1.75" fill="#9c0f1f"/>
<circle cx="380.05" cy="217.21" r="1.75" fill="#9c0f1f"/>
<polygon points="385.3,197.5 392.8,213.31 391.8,222.55 410.2,226.3 402.19,236.05 395.2,243.45 385.3,245.8 370.9,251.24 376.73,231.25 377.5,226.3 377.51,221.8 370.3,200.32" fill="none" stroke="#6a4c9c" stroke-width="0.8" stroke-linejoin="round"/>
<circle cx="385.3" cy="197.5" r="1.75" fill="#2b0f45"/>
<circle cx="392.8" cy="213.31" r="1.75" fill="#2b0f45"/>
<circle cx="391.8" cy="222.55" r="1.75" fill="#2b0f45"/>
<circle cx="410.2" cy="226.3" r="1.75" fill="#2b0f45"/>
<circle cx="402.19" cy="236.05" r="1.75" fill="#2b0f45"/>
<circle cx="395.2" cy="243.45" r="1.75" fill="#2b0f45"/>
<circle cx="385.3" cy="245.8" r="1.75" fill="#2b0f45"/>
<circle cx="370.9" cy="251.24" r="1.75" fill="#2b0f45"/>
<circle cx="376.73" cy="231.25" r="1.75" fill="#2b0f45"/>
<circle cx="377.5" cy="226.3" r="1.75" fill="#2b0f45"/>
<circle cx="377.51" cy="221.8" r="1.75" fill="#2b0f45"/>
<circle cx="370.3" cy="200.32" r="1.75" fill="#2b0f45"/>
<text x="385.3" y="193.4" font-size="6" text-anchor="middle" stroke="#262626" stroke-width="0.16">CD25</text>
<text x="400.6" y="196.8" font-size="6" stroke="#262626" stroke-width="0.16">CD69</text>
<text x="414.8" y="210.2" font-size="6" stroke="#262626" stroke-width="0.16">Tim3</text>
<text x="418.7" y="228" font-size="6" stroke="#262626" stroke-width="0.16">CD62L</text>
<text x="414.8" y="245.4" font-size="6" stroke="#262626" stroke-width="0.16">CD71</text>
<text x="400.6" y="259.1" font-size="6" stroke="#262626" stroke-width="0.16">LAG3</text>
<text x="385.3" y="262.6" font-size="6" text-anchor="middle" stroke="#262626" stroke-width="0.16">PD1</text>
<text x="369.8" y="259.1" font-size="6" text-anchor="end" stroke="#262626" stroke-width="0.16">CD127</text>
<text x="356.4" y="245.4" font-size="6" text-anchor="end" stroke="#262626" stroke-width="0.16">CD8</text>
<text x="352" y="228" font-size="6" text-anchor="end" stroke="#262626" stroke-width="0.16">HLA_DR</text>
<text x="356.4" y="210.2" font-size="6" text-anchor="end" stroke="#262626" stroke-width="0.16">CD45RA</text>
<text x="369.4" y="196.8" font-size="6" text-anchor="end" stroke="#262626" stroke-width="0.16">CD4</text>
<text x="307.6" y="277.7" font-size="7.75" stroke="#262626">Immune clusters associated with MRD status</text>
<path d="M385.3 322L385.3 292M385.3 322L400.3 296.02M385.3 322L411.28 307M385.3 322L415.3 322M385.3 322L411.28 337M385.3 322L400.3 347.98M385.3 322L385.3 352M385.3 322L370.3 347.98M385.3 322L359.32 337M385.3 322L355.3 322M385.3 322L359.32 307M385.3 322L370.3 296.02" stroke="#ccd6e2" stroke-width="0.45" fill="none"/>
<circle cx="385.3" cy="322" r="30" fill="none" stroke="#bf9393" stroke-width="0.65" stroke-dasharray="1.1 1.3"/>
<polygon points="385.3,301.6 392.8,309.01 399.59,313.75 412,322 403.75,332.65 398.05,344.08 385.3,344.2 377.8,334.99 377.51,326.5 373.3,322 360.88,307.9 382.3,316.8" fill="none" stroke="#3cae4c" stroke-width="0.8" stroke-linejoin="round"/>
<circle cx="385.3" cy="301.6" r="1.75" fill="#2d8a3c"/>
<circle cx="392.8" cy="309.01" r="1.75" fill="#2d8a3c"/>
<circle cx="399.59" cy="313.75" r="1.75" fill="#2d8a3c"/>
<circle cx="412" cy="322" r="1.75" fill="#2d8a3c"/>
<circle cx="403.75" cy="332.65" r="1.75" fill="#2d8a3c"/>
<circle cx="398.05" cy="344.08" r="1.75" fill="#2d8a3c"/>
<circle cx="385.3" cy="344.2" r="1.75" fill="#2d8a3c"/>
<circle cx="377.8" cy="334.99" r="1.75" fill="#2d8a3c"/>
<circle cx="377.51" cy="326.5" r="1.75" fill="#2d8a3c"/>
<circle cx="373.3" cy="322" r="1.75" fill="#2d8a3c"/>
<circle cx="360.88" cy="307.9" r="1.75" fill="#2d8a3c"/>
<circle cx="382.3" cy="316.8" r="1.75" fill="#2d8a3c"/>
<polygon points="385.3,307 392.05,310.31 389.46,319.6 400.9,322 397.77,329.2 389.8,329.79 385.3,328.6 381.85,327.98 381.4,324.25 380.2,322 380.1,319 383.05,318.1" fill="none" stroke="#f3a43a" stroke-width="0.8" stroke-linejoin="round"/>
<circle cx="385.3" cy="307" r="1.75" fill="#e08a22"/>
<circle cx="392.05" cy="310.31" r="1.75" fill="#e08a22"/>
<circle cx="389.46" cy="319.6" r="1.75" fill="#e08a22"/>
<circle cx="400.9" cy="322" r="1.75" fill="#e08a22"/>
<circle cx="397.77" cy="329.2" r="1.75" fill="#e08a22"/>
<circle cx="389.8" cy="329.79" r="1.75" fill="#e08a22"/>
<circle cx="385.3" cy="328.6" r="1.75" fill="#e08a22"/>
<circle cx="381.85" cy="327.98" r="1.75" fill="#e08a22"/>
<circle cx="381.4" cy="324.25" r="1.75" fill="#e08a22"/>
<circle cx="380.2" cy="322" r="1.75" fill="#e08a22"/>
<circle cx="380.1" cy="319" r="1.75" fill="#e08a22"/>
<circle cx="383.05" cy="318.1" r="1.75" fill="#e08a22"/>
<polygon points="385.3,312.1 388.6,316.28 392.31,317.95 396.1,322 395.43,327.85 389.05,328.5 385.3,325 384.4,323.56 383.74,322.9 382.3,322 370.23,313.3 381.55,315.5" fill="none" stroke="#d8242c" stroke-width="0.8" stroke-linejoin="round"/>
<circle cx="385.3" cy="312.1" r="1.75" fill="#9c0f1f"/>
<circle cx="388.6" cy="316.28" r="1.75" fill="#9c0f1f"/>
<circle cx="392.31" cy="317.95" r="1.75" fill="#9c0f1f"/>
<circle cx="396.1" cy="322" r="1.75" fill="#9c0f1f"/>
<circle cx="395.43" cy="327.85" r="1.75" fill="#9c0f1f"/>
<circle cx="389.05" cy="328.5" r="1.75" fill="#9c0f1f"/>
<circle cx="385.3" cy="325" r="1.75" fill="#9c0f1f"/>
<circle cx="384.4" cy="323.56" r="1.75" fill="#9c0f1f"/>
<circle cx="383.74" cy="322.9" r="1.75" fill="#9c0f1f"/>
<circle cx="382.3" cy="322" r="1.75" fill="#9c0f1f"/>
<circle cx="370.23" cy="313.3" r="1.75" fill="#9c0f1f"/>
<circle cx="381.55" cy="315.5" r="1.75" fill="#9c0f1f"/>
<polygon points="385.3,297.1 394.3,306.41 405.05,310.6 403.3,322 399.59,330.25 396.4,341.23 385.3,338.5 377.65,335.25 377.51,326.5 362.2,322 366.59,311.2 378.25,309.79" fill="none" stroke="#3a70b0" stroke-width="0.8" stroke-linejoin="round"/>
<circle cx="385.3" cy="297.1" r="1.75" fill="#0f2a57"/>
<circle cx="394.3" cy="306.41" r="1.75" fill="#0f2a57"/>
<circle cx="405.05" cy="310.6" r="1.75" fill="#0f2a57"/>
<circle cx="403.3" cy="322" r="1.75" fill="#0f2a57"/>
<circle cx="399.59" cy="330.25" r="1.75" fill="#0f2a57"/>
<circle cx="396.4" cy="341.23" r="1.75" fill="#0f2a57"/>
<circle cx="385.3" cy="338.5" r="1.75" fill="#0f2a57"/>
<circle cx="377.65" cy="335.25" r="1.75" fill="#0f2a57"/>
<circle cx="377.51" cy="326.5" r="1.75" fill="#0f2a57"/>
<circle cx="362.2" cy="322" r="1.75" fill="#0f2a57"/>
<circle cx="366.59" cy="311.2" r="1.75" fill="#0f2a57"/>
<circle cx="378.25" cy="309.79" r="1.75" fill="#0f2a57"/>
<polygon points="385.3,305.2 395.35,304.59 404.01,311.2 406,322 400.89,331 394.3,337.59 385.3,338.8 371.5,345.9 360.88,336.1 357.1,322 366.59,311.2 382,316.28" fill="none" stroke="#6a4c9c" stroke-width="0.8" stroke-linejoin="round"/>
<circle cx="385.3" cy="305.2" r="1.75" fill="#2b0f45"/>
<circle cx="395.35" cy="304.59" r="1.75" fill="#2b0f45"/>
<circle cx="404.01" cy="311.2" r="1.75" fill="#2b0f45"/>
<circle cx="406" cy="322" r="1.75" fill="#2b0f45"/>
<circle cx="400.89" cy="331" r="1.75" fill="#2b0f45"/>
<circle cx="394.3" cy="337.59" r="1.75" fill="#2b0f45"/>
<circle cx="385.3" cy="338.8" r="1.75" fill="#2b0f45"/>
<circle cx="371.5" cy="345.9" r="1.75" fill="#2b0f45"/>
<circle cx="360.88" cy="336.1" r="1.75" fill="#2b0f45"/>
<circle cx="357.1" cy="322" r="1.75" fill="#2b0f45"/>
<circle cx="366.59" cy="311.2" r="1.75" fill="#2b0f45"/>
<circle cx="382" cy="316.28" r="1.75" fill="#2b0f45"/>
<text x="385.3" y="289.1" font-size="6" text-anchor="middle" stroke="#262626" stroke-width="0.16">CD25</text>
<text x="400.6" y="292.5" font-size="6" stroke="#262626" stroke-width="0.16">CD69</text>
<text x="414.8" y="305.9" font-size="6" stroke="#262626" stroke-width="0.16">Tim3</text>
<text x="418.7" y="323.7" font-size="6" stroke="#262626" stroke-width="0.16">CD62L</text>
<text x="414.8" y="341.1" font-size="6" stroke="#262626" stroke-width="0.16">CD71</text>
<text x="400.6" y="354.8" font-size="6" stroke="#262626" stroke-width="0.16">LAG3</text>
<text x="385.3" y="358.3" font-size="6" text-anchor="middle" stroke="#262626" stroke-width="0.16">PD1</text>
<text x="369.8" y="354.8" font-size="6" text-anchor="end" stroke="#262626" stroke-width="0.16">CD127</text>
<text x="356.4" y="341.1" font-size="6" text-anchor="end" stroke="#262626" stroke-width="0.16">CD8</text>
<text x="352" y="323.7" font-size="6" text-anchor="end" stroke="#262626" stroke-width="0.16">HLA_DR</text>
<text x="356.4" y="305.9" font-size="6" text-anchor="end" stroke="#262626" stroke-width="0.16">CD45RA</text>
<text x="369.4" y="292.5" font-size="6" text-anchor="end" stroke="#262626" stroke-width="0.16">CD4</text>
<line x1="446.9" y1="207.1" x2="456.2" y2="207.1" stroke="#d8242c" stroke-width="0.9"/>
<circle cx="451.5" cy="207.1" r="1.6" fill="#9c0f1f"/>
<text x="459.8" y="209.7" font-size="6.2" fill="#333" stroke="#333" stroke-width="0.16">10</text>
<line x1="446.9" y1="216.65" x2="456.2" y2="216.65" stroke="#f3a43a" stroke-width="0.9"/>
<circle cx="451.5" cy="216.65" r="1.6" fill="#e08a22"/>
<text x="459.8" y="219.25" font-size="6.2" fill="#333" stroke="#333" stroke-width="0.16">2</text>
<line x1="446.9" y1="226.2" x2="456.2" y2="226.2" stroke="#3a70b0" stroke-width="0.9"/>
<circle cx="451.5" cy="226.2" r="1.6" fill="#0f2a57"/>
<text x="459.8" y="228.8" font-size="6.2" fill="#333" stroke="#333" stroke-width="0.16">23</text>
<line x1="446.9" y1="235.75" x2="456.2" y2="235.75" stroke="#3cae4c" stroke-width="0.9"/>
<circle cx="451.5" cy="235.75" r="1.6" fill="#2d8a3c"/>
<text x="459.8" y="238.35" font-size="6.2" fill="#333" stroke="#333" stroke-width="0.16">31</text>
<line x1="446.9" y1="245.3" x2="456.2" y2="245.3" stroke="#6a4c9c" stroke-width="0.9"/>
<circle cx="451.5" cy="245.3" r="1.6" fill="#2b0f45"/>
<text x="459.8" y="247.9" font-size="6.2" fill="#333" stroke="#333" stroke-width="0.16">9</text>
<line x1="446.9" y1="302.9" x2="456.2" y2="302.9" stroke="#d8242c" stroke-width="0.9"/>
<circle cx="451.5" cy="302.9" r="1.6" fill="#9c0f1f"/>
<text x="459.8" y="305.5" font-size="6.2" fill="#333" stroke="#333" stroke-width="0.16">18</text>
<line x1="446.9" y1="312.45" x2="456.2" y2="312.45" stroke="#f3a43a" stroke-width="0.9"/>
<circle cx="451.5" cy="312.45" r="1.6" fill="#e08a22"/>
<text x="459.8" y="315.05" font-size="6.2" fill="#333" stroke="#333" stroke-width="0.16">21</text>
<line x1="446.9" y1="322" x2="456.2" y2="322" stroke="#3a70b0" stroke-width="0.9"/>
<circle cx="451.5" cy="322" r="1.6" fill="#0f2a57"/>
<text x="459.8" y="324.6" font-size="6.2" fill="#333" stroke="#333" stroke-width="0.16">24</text>
<line x1="446.9" y1="331.55" x2="456.2" y2="331.55" stroke="#3cae4c" stroke-width="0.9"/>
<circle cx="451.5" cy="331.55" r="1.6" fill="#2d8a3c"/>
<text x="459.8" y="334.15" font-size="6.2" fill="#333" stroke="#333" stroke-width="0.16">26</text>
<line x1="446.9" y1="341.1" x2="456.2" y2="341.1" stroke="#6a4c9c" stroke-width="0.9"/>
<circle cx="451.5" cy="341.1" r="1.6" fill="#2b0f45"/>
<text x="459.8" y="343.7" font-size="6.2" fill="#333" stroke="#333" stroke-width="0.16">31</text>
<defs><filter id="gd" x="300" y="15" width="160" height="120" filterUnits="userSpaceOnUse" color-interpolation-filters="sRGB"><feTurbulence type="fractalNoise" baseFrequency="0.85" numOctaves="2" seed="4" result="n"/><feColorMatrix in="n" type="matrix" values="0 0 0 0 0  0 0 0 0 0  0 0 0 0 0  12 0 0 0 -4.0" result="m"/><feComposite in="SourceGraphic" in2="m" operator="in"/></filter><filter id="gs" x="300" y="15" width="160" height="120" filterUnits="userSpaceOnUse" color-interpolation-filters="sRGB"><feTurbulence type="fractalNoise" baseFrequency="0.85" numOctaves="2" seed="9" result="n"/><feColorMatrix in="n" type="matrix" values="0 0 0 0 0  0 0 0 0 0  0 0 0 0 0  12 0 0 0 -4.7" result="m"/><feComposite in="SourceGraphic" in2="m" operator="in"/></filter><filter id="gl" x="300" y="15" width="160" height="120" filterUnits="userSpaceOnUse" color-interpolation-filters="sRGB"><feTurbulence type="fractalNoise" baseFrequency="0.85" numOctaves="2" seed="2" result="n"/><feColorMatrix in="n" type="matrix" values="0 0 0 0 0  0 0 0 0 0  0 0 0 0 0  12 0 0 0 -3.3" result="m"/><feComposite in="SourceGraphic" in2="m" operator="in"/></filter></defs>
<g filter="url(#gd)">
<polygon points="353.01,37.62 356.76,33.88 362,31.63 366.39,32.38 367.89,37.62 367.14,45 364.89,50.14 362,52.39 357.51,50.89 354.51,47.25 352.69,42.01" fill="#1fb3c4"/>
<path d="M354.33 36.27h1v1h-1zM354.27 35.55h1v1h-1zM353.23 36.69h1v1h-1zM354.67 33.76h1v1h-1zM353.47 37.17h1v1h-1zM357.44 34.21h1v1h-1zM359.92 31.22h1v1h-1zM356.39 32.46h1v1h-1zM356.74 32.01h1v1h-1zM358.57 33.02h1v1h-1zM364.06 31.52h1v1h-1zM364.32 31.18h1v1h-1zM366.87 32.56h1v1h-1zM364.24 31.12h1v1h-1zM365.46 33.93h1v1h-1zM367.18 33.75h1v1h-1zM368.02 35.9h1v1h-1zM367.02 32.92h1v1h-1zM367.15 36.16h1v1h-1zM367.47 41.31h1v1h-1zM366.99 38.69h1v1h-1zM366.06 42.21h1v1h-1zM366.43 38.46h1v1h-1zM367.37 38.33h1v1h-1zM367.71 37.79h1v1h-1zM366.14 41.71h1v1h-1zM365.7 46.54h1v1h-1zM364.44 49.4h1v1h-1zM365.95 46.29h1v1h-1zM364.4 48.78h1v1h-1zM365.68 46.14h1v1h-1zM363.03 49.53h1v1h-1zM364.3 49.33h1v1h-1zM362.4 50.9h1v1h-1zM357.16 50.6h1v1h-1zM356.97 49.9h1v1h-1zM358.06 50.02h1v1h-1zM361.13 52.48h1v1h-1zM357.32 50.44h1v1h-1zM355.04 47.4h1v1h-1zM357.82 49.72h1v1h-1zM354.41 48.47h1v1h-1zM352.51 42.97h1v1h-1zM351.84 42.43h1v1h-1zM353.7 44.05h1v1h-1zM354.34 44.69h1v1h-1zM353.52 46.56h1v1h-1zM351.57 40.98h1v1h-1zM351.64 38.72h1v1h-1zM353.44 37.91h1v1h-1zM352.58 37.76h1v1h-1z" fill="#1fb3c4"/>
<polygon points="395.08,32.94 401.61,34.65 406.64,37.12 408.25,41.18 406.64,45.35 404.29,49.53 397.87,48.46 394.23,46.32 392.62,42.04 391.77,37.12" fill="#1fb3c4"/>
<path d="M393.85 33.32h1v1h-1zM400.09 32.68h1v1h-1zM398.7 33.99h1v1h-1zM397.67 32.14h1v1h-1zM398.62 34.18h1v1h-1zM399.8 34.29h1v1h-1zM405.42 36.78h1v1h-1zM406.38 36.21h1v1h-1zM405.81 36.25h1v1h-1zM404.02 35.86h1v1h-1zM403.33 35.93h1v1h-1zM408.49 41.11h1v1h-1zM407.23 38.36h1v1h-1zM407.52 37.57h1v1h-1zM406.4 39.87h1v1h-1zM406.43 43.08h1v1h-1zM407.18 43.6h1v1h-1zM406.36 41.35h1v1h-1zM406.06 42.85h1v1h-1zM404.33 48.52h1v1h-1zM403.7 48.91h1v1h-1zM405.54 46.29h1v1h-1zM404.75 48.44h1v1h-1zM399.68 47.68h1v1h-1zM401.27 49.19h1v1h-1zM400.12 47.82h1v1h-1zM402.6 48.4h1v1h-1zM402.24 49.05h1v1h-1zM400.25 49.18h1v1h-1zM393.7 45h1v1h-1zM398 46.97h1v1h-1zM394.93 46.06h1v1h-1zM393.53 45.54h1v1h-1zM392.05 44.53h1v1h-1zM392.63 43.89h1v1h-1zM392.61 43.38h1v1h-1zM393.29 43.93h1v1h-1zM390.94 38.12h1v1h-1zM390.99 40.6h1v1h-1zM390.87 37.57h1v1h-1zM392.22 39.88h1v1h-1zM393.82 33.84h1v1h-1zM394.71 32.48h1v1h-1zM394.81 31.98h1v1h-1zM393.02 35.54h1v1h-1zM392.66 35.8h1v1h-1z" fill="#1fb3c4"/>
<polygon points="366.39,32.88 371.53,30.63 379.02,29.14 384.16,30.63 388.12,33.42 396.35,34.27 398.82,37.59 394.64,40.05 388.12,38.44 376.77,35.23 370.14,36.41 367.14,37.8" fill="#2bae6a"/>
<path d="M370.88 30.52h1v1h-1zM368.65 31.36h1v1h-1zM370.38 30.98h1v1h-1zM367.79 32.86h1v1h-1zM370.99 30.77h1v1h-1zM374.25 30.37h1v1h-1zM372.81 29.49h1v1h-1zM375.69 29.28h1v1h-1zM371.86 29.22h1v1h-1zM376.37 28.61h1v1h-1zM376.21 28.25h1v1h-1zM375.35 30.04h1v1h-1zM382.95 29.65h1v1h-1zM382.57 29.5h1v1h-1zM380.81 29.88h1v1h-1zM381.85 30.28h1v1h-1zM381.02 29.24h1v1h-1zM387.8 31.9h1v1h-1zM387.96 32.55h1v1h-1zM385.33 31.8h1v1h-1zM385.86 30.59h1v1h-1zM395.63 33.55h1v1h-1zM394.34 33.58h1v1h-1zM392.44 33.58h1v1h-1zM391.94 34.12h1v1h-1zM389.78 32.4h1v1h-1zM391.82 34.09h1v1h-1zM391.18 32.71h1v1h-1zM393.56 32.7h1v1h-1zM396.82 35.74h1v1h-1zM396.79 34.17h1v1h-1zM396.97 34.16h1v1h-1zM396.9 36.22h1v1h-1zM396.67 37.77h1v1h-1zM396.24 37.99h1v1h-1zM395.43 37.8h1v1h-1zM395.96 38.7h1v1h-1zM388.81 38.9h1v1h-1zM393.11 39.8h1v1h-1zM387.88 37.73h1v1h-1zM387.56 39.07h1v1h-1zM387.62 37.6h1v1h-1zM388.92 37.58h1v1h-1zM378.02 35.85h1v1h-1zM385.99 37.91h1v1h-1zM386.82 38.25h1v1h-1zM378.22 34.25h1v1h-1zM382.4 36.33h1v1h-1zM379.22 34.88h1v1h-1zM385.49 37.71h1v1h-1zM381.91 35.58h1v1h-1zM384.93 38.03h1v1h-1zM377.24 33.96h1v1h-1zM387.82 37.67h1v1h-1zM370.85 35.57h1v1h-1zM372.72 35.54h1v1h-1zM376.59 35.44h1v1h-1zM374.98 35.43h1v1h-1zM372.97 34.54h1v1h-1zM371.9 36.12h1v1h-1zM367.65 37.75h1v1h-1zM367.56 36.99h1v1h-1zM369.09 37.22h1v1h-1zM367.27 36.52h1v1h-1zM366.69 33.28h1v1h-1zM366.73 33.28h1v1h-1zM366.6 33.34h1v1h-1z" fill="#2bae6a"/>
<polygon points="380.22,26.34 386,25.48 394.13,29.65 399.16,32.97 395.85,34.58 387.61,32.97 380.22,30.51" fill="#d25ec4"/>
<path d="M383.04 24.9h1v1h-1zM381.45 25.15h1v1h-1zM383.66 24.75h1v1h-1zM385.51 24.7h1v1h-1zM383.68 25.34h1v1h-1zM389.67 26.89h1v1h-1zM391.73 28.87h1v1h-1zM385.92 25.55h1v1h-1zM387.39 25.15h1v1h-1zM386.84 24.99h1v1h-1zM388.35 26.13h1v1h-1zM390.57 27.24h1v1h-1zM393.87 29.75h1v1h-1zM386.32 25.82h1v1h-1zM394.72 28.62h1v1h-1zM395.34 30.71h1v1h-1zM395.82 32.07h1v1h-1zM395.8 30.75h1v1h-1zM395.04 30.68h1v1h-1zM396.02 31.45h1v1h-1zM396.71 32.44h1v1h-1zM397.83 33.05h1v1h-1zM398.16 33.59h1v1h-1zM395.91 34.88h1v1h-1zM395.55 33.82h1v1h-1zM392.36 32.8h1v1h-1zM391.91 33.68h1v1h-1zM392.44 33.96h1v1h-1zM389.6 33.36h1v1h-1zM391 32.45h1v1h-1zM390.24 33.11h1v1h-1zM382.09 30.35h1v1h-1zM382.65 31.59h1v1h-1zM384.18 32.07h1v1h-1zM381.16 29.89h1v1h-1zM381.08 30.52h1v1h-1zM384 31.96h1v1h-1zM383.12 31.35h1v1h-1zM379.1 26.36h1v1h-1zM380.56 26.68h1v1h-1zM378.85 29.39h1v1h-1zM379.97 27.44h1v1h-1z" fill="#d25ec4"/>
<polygon points="366.45,37.23 373.84,34.66 384.22,35.41 388.17,37.98 394.7,40.44 396.41,44.5 392.24,46.96 384.86,46.11 375.33,45.04 367.95,45.04 366.03,42.04" fill="#f0892a"/>
<path d="M369.1 34.51h1v1h-1zM371.05 35.25h1v1h-1zM368.67 35.19h1v1h-1zM368.98 36.52h1v1h-1zM365.74 37.15h1v1h-1zM371.1 34.55h1v1h-1zM368.6 36.26h1v1h-1zM377.47 35.41h1v1h-1zM376.81 34.89h1v1h-1zM382.75 34.59h1v1h-1zM375.09 33.39h1v1h-1zM374.33 34.19h1v1h-1zM380.05 35.22h1v1h-1zM373.55 34.54h1v1h-1zM373.79 34.67h1v1h-1zM380.1 33.96h1v1h-1zM377.5 34.16h1v1h-1zM384.6 35.35h1v1h-1zM388.23 38.09h1v1h-1zM386.06 35.64h1v1h-1zM384.77 36.59h1v1h-1zM393.01 39.4h1v1h-1zM389.79 38.17h1v1h-1zM389.59 38.56h1v1h-1zM392.96 40.11h1v1h-1zM390.7 39.38h1v1h-1zM392.99 38.69h1v1h-1zM395.17 42.17h1v1h-1zM396.16 44.48h1v1h-1zM394.4 40.77h1v1h-1zM393.51 40.75h1v1h-1zM391.33 46.48h1v1h-1zM395.8 44.66h1v1h-1zM394.33 45.14h1v1h-1zM394.27 45.08h1v1h-1zM390.18 46.52h1v1h-1zM388.17 46.48h1v1h-1zM387.34 45.68h1v1h-1zM385.97 46.46h1v1h-1zM386.46 46.55h1v1h-1zM384.95 45.69h1v1h-1zM387.1 45.7h1v1h-1zM379.65 45.64h1v1h-1zM374.67 43.88h1v1h-1zM382.26 44.97h1v1h-1zM374.24 44.19h1v1h-1zM383.56 46.04h1v1h-1zM381.77 45.33h1v1h-1zM379.61 44.06h1v1h-1zM382.69 44.93h1v1h-1zM382.55 45.55h1v1h-1zM372.55 44.1h1v1h-1zM374.08 44.16h1v1h-1zM371.42 44.5h1v1h-1zM373.69 45.37h1v1h-1zM372.4 45.45h1v1h-1zM370.71 43.64h1v1h-1zM368.44 44.31h1v1h-1zM366.47 42.51h1v1h-1zM365.86 41.05h1v1h-1zM367.38 44.25h1v1h-1zM366.29 37.92h1v1h-1zM364.91 40.43h1v1h-1zM366.37 40.33h1v1h-1zM366.78 38.01h1v1h-1z" fill="#f0892a"/>
<polygon points="387.97,62.11 393.64,59.65 400.28,57.19 403.6,58.04 399.42,61.25 391.18,64.57" fill="#a46fd4"/>
<path d="M389.81 60.83h1v1h-1zM388.12 62.3h1v1h-1zM391.3 59.12h1v1h-1zM390.73 59.8h1v1h-1zM391.04 60.63h1v1h-1zM391.94 60.08h1v1h-1zM396.74 57.3h1v1h-1zM398.04 57.2h1v1h-1zM395.95 58.52h1v1h-1zM394.83 57.53h1v1h-1zM395.11 58.82h1v1h-1zM395.91 57.47h1v1h-1zM395.68 59.11h1v1h-1zM402.84 56.42h1v1h-1zM401.45 56.48h1v1h-1zM401.57 56.19h1v1h-1zM399.56 60.14h1v1h-1zM400.11 59.27h1v1h-1zM400.44 58.95h1v1h-1zM401.79 58.31h1v1h-1zM402.72 57.84h1v1h-1zM391.26 64.33h1v1h-1zM396.84 61.04h1v1h-1zM396.95 61.57h1v1h-1zM392.45 62.91h1v1h-1zM392.21 62.71h1v1h-1zM396.37 60.75h1v1h-1zM394.72 62.94h1v1h-1zM395.43 62.46h1v1h-1zM388.86 61.95h1v1h-1zM389.44 62.28h1v1h-1zM389.8 64.05h1v1h-1zM388.47 62.34h1v1h-1z" fill="#a46fd4"/>
<polyline points="360.5,51.7 364,53 368.8,57.2 371.5,64" fill="none" stroke="#1db38e" stroke-width="2.6" stroke-linejoin="round" stroke-linecap="round"/>
<polyline points="366,57.2 371.5,58.6 375.7,64" fill="none" stroke="#1db38e" stroke-width="2.2" stroke-linejoin="round" stroke-linecap="round"/>
<polygon points="338,65.85 344.95,59.97 350.84,57.93 355.87,54.94 359.82,53.98 364.85,56.97 364.85,63.93 359.82,67.89 354.8,73.88 351.91,79.76 346.88,81.8 341.96,76.77 338.96,71.84" fill="#a46fd4"/>
<path d="M337.29 64.93h1v1h-1zM341.23 61.28h1v1h-1zM341.62 63.01h1v1h-1zM341.07 62.29h1v1h-1zM343.87 59.74h1v1h-1zM340.26 62.83h1v1h-1zM344.39 59.98h1v1h-1zM342.7 61.33h1v1h-1zM341.25 60.83h1v1h-1zM346.04 59.36h1v1h-1zM347.25 58.52h1v1h-1zM346.42 59.47h1v1h-1zM346.06 59.28h1v1h-1zM347.87 57.86h1v1h-1zM350.79 58.25h1v1h-1zM352.61 56.28h1v1h-1zM352.58 56.05h1v1h-1zM353.88 55.09h1v1h-1zM352.24 54.86h1v1h-1zM352.22 57.77h1v1h-1zM357.59 54.15h1v1h-1zM358.05 53.91h1v1h-1zM357.58 53.06h1v1h-1zM356.5 53.76h1v1h-1zM361.54 55.22h1v1h-1zM360.79 53.93h1v1h-1zM361.63 55.74h1v1h-1zM360.97 54.11h1v1h-1zM361.51 55.13h1v1h-1zM364.87 61.77h1v1h-1zM365.34 60.53h1v1h-1zM364.17 62.29h1v1h-1zM365.16 60.46h1v1h-1zM364.22 60.93h1v1h-1zM363.46 59.15h1v1h-1zM360.29 67.19h1v1h-1zM360.18 66.59h1v1h-1zM363.25 63.6h1v1h-1zM361.62 64.52h1v1h-1zM360.91 65.66h1v1h-1zM362.6 64.11h1v1h-1zM359.8 68.73h1v1h-1zM356.71 71.22h1v1h-1zM354.72 72.7h1v1h-1zM357.28 69.98h1v1h-1zM354.59 72.21h1v1h-1zM353.54 72.57h1v1h-1zM357.47 68.3h1v1h-1zM352.34 78.44h1v1h-1zM353.44 74.57h1v1h-1zM355 73.18h1v1h-1zM353.72 77.27h1v1h-1zM352.34 75.75h1v1h-1zM352.42 78.2h1v1h-1zM346.9 80.91h1v1h-1zM351.3 80.6h1v1h-1zM350.66 79.06h1v1h-1zM346.08 80.26h1v1h-1zM347.38 81.54h1v1h-1zM342.52 76.19h1v1h-1zM343.83 77.69h1v1h-1zM345.44 80.51h1v1h-1zM342.27 77.08h1v1h-1zM345.55 80.69h1v1h-1zM344.87 80.19h1v1h-1zM342.93 77.93h1v1h-1zM339.01 71.26h1v1h-1zM338.72 74.08h1v1h-1zM340.19 74.16h1v1h-1zM341.52 75.61h1v1h-1zM341.31 74.21h1v1h-1zM338.7 69.13h1v1h-1zM338.29 69.04h1v1h-1zM338.57 65.04h1v1h-1zM338.52 68.35h1v1h-1zM337.56 65.14h1v1h-1zM338.21 67.73h1v1h-1z" fill="#a46fd4"/>
<polygon points="327.15,77.93 331.11,73 337.1,70.97 342.02,74.93 344.05,80.92 341.06,84.88 334.1,85.84 328.11,83.92" fill="#d25ec4"/>
<path d="M329.82 74.22h1v1h-1zM329.34 75.31h1v1h-1zM329.61 74.21h1v1h-1zM329.06 73.81h1v1h-1zM327.46 76.81h1v1h-1zM330.34 73.03h1v1h-1zM332.98 71.67h1v1h-1zM332.67 71.68h1v1h-1zM335.03 71.8h1v1h-1zM330.99 71.17h1v1h-1zM333.45 71.38h1v1h-1zM332.78 71.12h1v1h-1zM341.2 74.15h1v1h-1zM339.97 72.9h1v1h-1zM337.21 71.33h1v1h-1zM339.71 72.46h1v1h-1zM338.67 73.44h1v1h-1zM336.95 70.47h1v1h-1zM343.59 79.14h1v1h-1zM341.47 74.53h1v1h-1zM342.9 74.81h1v1h-1zM343.04 78.34h1v1h-1zM341.73 75.79h1v1h-1zM341.08 75.45h1v1h-1zM342.92 80.58h1v1h-1zM341.44 81.17h1v1h-1zM341.1 84.83h1v1h-1zM342.37 81.44h1v1h-1zM338.8 85.48h1v1h-1zM337.7 85.69h1v1h-1zM335.39 84.78h1v1h-1zM335.16 84.69h1v1h-1zM336.46 85.23h1v1h-1zM334.32 85.02h1v1h-1zM334.46 85.76h1v1h-1zM332.01 84.3h1v1h-1zM329.64 83.69h1v1h-1zM332.25 84.55h1v1h-1zM331.91 84.84h1v1h-1zM327.84 83.45h1v1h-1zM333.55 84.93h1v1h-1zM326.38 81.14h1v1h-1zM327.14 82.69h1v1h-1zM326.46 78.86h1v1h-1zM328.34 82.22h1v1h-1zM327.32 79.64h1v1h-1zM327.24 83.07h1v1h-1z" fill="#d25ec4"/>
<polygon points="341.32,73.21 346.35,72.14 349.35,78.13 345.39,81.13" fill="#6d8de0"/>
<path d="M342 72.27h1v1h-1zM344.73 70.99h1v1h-1zM342.28 71.37h1v1h-1zM341.77 71.61h1v1h-1zM342.24 72.46h1v1h-1zM346.67 71.97h1v1h-1zM348.35 75.28h1v1h-1zM346.02 73.29h1v1h-1zM346.84 74.8h1v1h-1zM346.11 72.68h1v1h-1zM345.58 71.98h1v1h-1zM346.48 80.14h1v1h-1zM344.58 80.89h1v1h-1zM344.64 80.76h1v1h-1zM347.12 80.36h1v1h-1zM344.2 77.95h1v1h-1zM342.93 76.36h1v1h-1zM342.98 77.58h1v1h-1zM343.07 78.21h1v1h-1zM342.29 77.19h1v1h-1zM343.1 78.41h1v1h-1zM342.47 77.45h1v1h-1zM342.14 75.47h1v1h-1z" fill="#6d8de0"/>
<polygon points="327.03,83.24 333.98,85.17 340.94,84.2 345.97,82.17 346.93,89.13 344.9,96.08 337.94,97.15 330.99,93.19 327.03,88.16" fill="#7c86dc"/>
<path d="M326.47 82.51h1v1h-1zM326.77 81.97h1v1h-1zM330.15 83.63h1v1h-1zM328.3 82.42h1v1h-1zM329.73 83.54h1v1h-1zM328.69 82.62h1v1h-1zM330.02 84.55h1v1h-1zM336.16 85.2h1v1h-1zM339.1 84.17h1v1h-1zM336.17 83.82h1v1h-1zM340.01 83.63h1v1h-1zM338.89 83.06h1v1h-1zM336.63 83.9h1v1h-1zM339.58 83.11h1v1h-1zM341.95 82.71h1v1h-1zM340.53 83.49h1v1h-1zM341.63 83.52h1v1h-1zM343.44 82.71h1v1h-1zM345.56 81.68h1v1h-1zM346.57 83.71h1v1h-1zM346.55 87.02h1v1h-1zM347.04 87.69h1v1h-1zM346.05 86.12h1v1h-1zM345.39 84.74h1v1h-1zM345.46 84.88h1v1h-1zM345.14 83.96h1v1h-1zM345.3 88.64h1v1h-1zM346.63 88.56h1v1h-1zM346.06 91.73h1v1h-1zM346.83 90.5h1v1h-1zM345.83 89.01h1v1h-1zM344.6 94.6h1v1h-1zM346.35 90.03h1v1h-1zM342.59 96.62h1v1h-1zM338.77 96.31h1v1h-1zM339.73 97h1v1h-1zM338.07 96.19h1v1h-1zM339.2 95.67h1v1h-1zM344.47 96.48h1v1h-1zM336.92 96.99h1v1h-1zM334.79 94.78h1v1h-1zM331.93 92.05h1v1h-1zM331.72 92.91h1v1h-1zM335.92 96.51h1v1h-1zM336.27 95.23h1v1h-1zM333.63 94.25h1v1h-1zM335.89 96.1h1v1h-1zM335.25 95.76h1v1h-1zM328.42 88.62h1v1h-1zM327.83 89.8h1v1h-1zM329.26 91.17h1v1h-1zM326.29 87.97h1v1h-1zM329.66 91.13h1v1h-1zM327.53 90.1h1v1h-1zM325.98 86.28h1v1h-1zM326.05 84.97h1v1h-1zM327.31 86.97h1v1h-1zM325.89 87.24h1v1h-1z" fill="#7c86dc"/>
<polygon points="330.64,92.39 337.6,96.35 344.55,95.28 349.58,100.31 352.58,104.27 351.51,108.23 344.55,106.3 336.63,101.27 332.67,97.31" fill="#29a8e2"/>
<path d="M336.48 96.57h1v1h-1zM333.34 94.42h1v1h-1zM332.01 93.56h1v1h-1zM334.95 94.04h1v1h-1zM337.4 96.6h1v1h-1zM333.89 94.09h1v1h-1zM330.42 91.92h1v1h-1zM330.12 92.08h1v1h-1zM341.96 95.07h1v1h-1zM336.59 96.76h1v1h-1zM337.23 96.46h1v1h-1zM343.08 94.8h1v1h-1zM343.34 95.52h1v1h-1zM343.15 95.69h1v1h-1zM340.3 94.92h1v1h-1zM347.67 99.51h1v1h-1zM344.97 95.66h1v1h-1zM347.98 97.81h1v1h-1zM346.97 97.55h1v1h-1zM348.25 98.52h1v1h-1zM346.22 95.89h1v1h-1zM347.88 98.88h1v1h-1zM348.82 99.8h1v1h-1zM349.99 100.21h1v1h-1zM350.39 101.44h1v1h-1zM351.59 101.34h1v1h-1zM350.77 107.76h1v1h-1zM352.93 104.06h1v1h-1zM350.48 107.39h1v1h-1zM350.68 106.11h1v1h-1zM347.19 106.07h1v1h-1zM349.44 108.35h1v1h-1zM350.24 107.2h1v1h-1zM345.95 106.72h1v1h-1zM345.54 106.27h1v1h-1zM347.63 105.98h1v1h-1zM345.56 106.02h1v1h-1zM338.62 102.22h1v1h-1zM342.43 104.79h1v1h-1zM339.03 103.46h1v1h-1zM340.7 103.74h1v1h-1zM335.98 101.05h1v1h-1zM336.66 100.43h1v1h-1zM339.2 101.9h1v1h-1zM336.43 102.42h1v1h-1zM339.63 104.01h1v1h-1zM334.44 98.86h1v1h-1zM333 98.6h1v1h-1zM336.62 100.94h1v1h-1zM335.75 99.69h1v1h-1zM334.74 98.04h1v1h-1zM331.89 94.58h1v1h-1zM331.62 94.06h1v1h-1zM332.28 96.33h1v1h-1zM330.7 93.83h1v1h-1zM329.86 92.62h1v1h-1z" fill="#29a8e2"/>
<polygon points="343.84,85.87 349.83,83.83 354.75,88.54 359.78,95.5 362.14,101.38 357.75,104.59 351.86,104.59 346.84,100.74 344.91,94.85" fill="#f0892a"/>
<path d="M343.01 84.85h1v1h-1zM349.19 82.84h1v1h-1zM344.21 85.7h1v1h-1zM347.84 83.26h1v1h-1zM348.67 83.62h1v1h-1zM349.05 82.98h1v1h-1zM352.48 85.51h1v1h-1zM350.63 85.19h1v1h-1zM350.91 85.03h1v1h-1zM349.48 84.57h1v1h-1zM350.89 84.76h1v1h-1zM354.18 87.48h1v1h-1zM356.23 89.79h1v1h-1zM357.68 92.78h1v1h-1zM355.6 91.14h1v1h-1zM357.03 90.81h1v1h-1zM356.56 92.1h1v1h-1zM356.4 89.92h1v1h-1zM356.74 92.82h1v1h-1zM356.4 90.39h1v1h-1zM361.22 97.45h1v1h-1zM361.23 99.27h1v1h-1zM359.27 94.94h1v1h-1zM361.23 97.18h1v1h-1zM361.26 98.58h1v1h-1zM359.52 98.21h1v1h-1zM360.37 101.37h1v1h-1zM358.74 103.7h1v1h-1zM358.44 103.43h1v1h-1zM360.98 100.91h1v1h-1zM358.8 102.89h1v1h-1zM352.86 103.14h1v1h-1zM353.46 103.82h1v1h-1zM354.15 104.43h1v1h-1zM354.63 105.04h1v1h-1zM351.2 104.75h1v1h-1zM348.5 102.58h1v1h-1zM350.95 103.64h1v1h-1zM347.5 102.54h1v1h-1zM350.05 102.57h1v1h-1zM349.86 101.74h1v1h-1zM350.82 103.7h1v1h-1zM344.41 96.5h1v1h-1zM345.48 95.18h1v1h-1zM344.46 98.2h1v1h-1zM345.31 93.73h1v1h-1zM345.73 98.24h1v1h-1zM346.7 99.19h1v1h-1zM343.12 89.93h1v1h-1zM343.45 93.21h1v1h-1zM344.65 91.21h1v1h-1zM343.07 90.07h1v1h-1zM344.04 90.21h1v1h-1zM342.71 87.41h1v1h-1zM345.18 93.01h1v1h-1zM344.2 91.43h1v1h-1zM343.2 84.71h1v1h-1z" fill="#f0892a"/>
<polygon points="349.69,104.23 356.65,102.2 359.43,99.42 369.7,91.61 376.87,89.57 383.08,89.57 385.11,94.71 384.04,103.91 377.94,108.08 367.67,109.15 356.65,108.73 350.76,107.23" fill="#4caf42"/>
<path d="M350.9 103.89h1v1h-1zM353.46 102.34h1v1h-1zM348.61 103.27h1v1h-1zM356.2 102.46h1v1h-1zM349.35 102.79h1v1h-1zM350.23 104.04h1v1h-1zM351.46 103.37h1v1h-1zM359.51 99.37h1v1h-1zM358.35 100.09h1v1h-1zM357.46 100.38h1v1h-1zM362.57 96h1v1h-1zM362.47 96.02h1v1h-1zM360.11 97.65h1v1h-1zM364.45 94.59h1v1h-1zM360.42 96.92h1v1h-1zM362.13 95.92h1v1h-1zM366.6 92.08h1v1h-1zM364.04 94.75h1v1h-1zM365.95 94.01h1v1h-1zM364.81 93.85h1v1h-1zM365.37 93.79h1v1h-1zM364.07 95.54h1v1h-1zM368.77 90.5h1v1h-1zM371.73 90.41h1v1h-1zM375.17 88.93h1v1h-1zM373.25 90.69h1v1h-1zM374.82 89.05h1v1h-1zM375.65 89.72h1v1h-1zM370.14 90.09h1v1h-1zM380.35 89.93h1v1h-1zM379.38 89.94h1v1h-1zM381.2 88.08h1v1h-1zM380.78 89.43h1v1h-1zM383.31 88.22h1v1h-1zM381.1 89.58h1v1h-1zM383.24 90.89h1v1h-1zM382.46 90.15h1v1h-1zM381.95 90.11h1v1h-1zM384.03 91.72h1v1h-1zM382.44 90.59h1v1h-1zM384.86 98.79h1v1h-1zM384.24 98.7h1v1h-1zM385.23 95.29h1v1h-1zM384.44 94.25h1v1h-1zM384.75 100.4h1v1h-1zM383.65 101.11h1v1h-1zM384.98 94.51h1v1h-1zM383.39 99.29h1v1h-1zM384.13 95.9h1v1h-1zM380.15 105.73h1v1h-1zM378.12 107.09h1v1h-1zM381.57 105.07h1v1h-1zM378.75 105.84h1v1h-1zM379.24 105.97h1v1h-1zM383.8 103.43h1v1h-1zM379.04 106.64h1v1h-1zM372.65 109h1v1h-1zM372.73 107.53h1v1h-1zM368.91 108h1v1h-1zM367.81 108.89h1v1h-1zM371.71 107.86h1v1h-1zM376.79 108.27h1v1h-1zM368.36 109.01h1v1h-1zM374.6 107.89h1v1h-1zM370.42 108.77h1v1h-1zM372.26 109.05h1v1h-1zM359.3 109.26h1v1h-1zM358.83 109.06h1v1h-1zM358.69 107.84h1v1h-1zM367.02 108.15h1v1h-1zM363.45 107.79h1v1h-1zM361.37 108.02h1v1h-1zM364.13 109.28h1v1h-1zM366.12 109.29h1v1h-1zM360.54 108.86h1v1h-1zM361.6 109.26h1v1h-1zM358.15 107.43h1v1h-1zM350.36 107.4h1v1h-1zM354.68 107.62h1v1h-1zM352.74 107.14h1v1h-1zM352.52 106.84h1v1h-1zM349.78 107.68h1v1h-1zM351.42 108.04h1v1h-1zM350.29 105.66h1v1h-1zM348.82 104.51h1v1h-1zM350.53 105.68h1v1h-1z" fill="#4caf42"/>
<polygon points="383.82,89.76 388.95,87.73 393.02,90.83 392.06,98 387.88,105.17 383.82,108.27 380.71,106.24 382.75,98" fill="#29a8e2"/>
<path d="M383.61 90.17h1v1h-1zM387.55 88.44h1v1h-1zM385.15 88.26h1v1h-1zM384.32 88.59h1v1h-1zM385.27 88.66h1v1h-1zM390.12 87.68h1v1h-1zM390.55 89.68h1v1h-1zM390 88.57h1v1h-1zM390.22 89.15h1v1h-1zM393.32 91.11h1v1h-1zM392.56 95.53h1v1h-1zM392.23 94.21h1v1h-1zM392.15 95.59h1v1h-1zM392.47 91.87h1v1h-1zM391.71 91.3h1v1h-1zM390.64 96.26h1v1h-1zM392.1 96.32h1v1h-1zM389.65 102.27h1v1h-1zM390.69 98.09h1v1h-1zM388.15 104.31h1v1h-1zM389.85 98.94h1v1h-1zM387.87 103.19h1v1h-1zM389.03 101.62h1v1h-1zM389.13 101.52h1v1h-1zM390.12 98.27h1v1h-1zM386 105.82h1v1h-1zM386.72 104.93h1v1h-1zM384.77 107.05h1v1h-1zM386.1 104.84h1v1h-1zM386.5 106.04h1v1h-1zM380.94 105.32h1v1h-1zM380.44 105.66h1v1h-1zM383.01 106.67h1v1h-1zM381.76 103.78h1v1h-1zM380.27 103.13h1v1h-1zM381.48 99.87h1v1h-1zM380.56 102.8h1v1h-1zM381.67 100.27h1v1h-1zM380.24 105.39h1v1h-1zM381.17 104.49h1v1h-1zM381.39 104.97h1v1h-1zM382.93 90.69h1v1h-1zM382.83 97.22h1v1h-1zM381.72 96.27h1v1h-1zM383.64 91.13h1v1h-1zM382.48 93h1v1h-1zM383.42 94.39h1v1h-1zM382.14 95.08h1v1h-1zM381.94 94.22h1v1h-1z" fill="#29a8e2"/>
<polygon points="387.44,77.34 392.58,76.37 397.72,78.41 398.79,86.65 395.68,92.75 390.55,92.75 387.44,86.65" fill="#3fac45"/>
<path d="M389.73 76.46h1v1h-1zM390.91 77h1v1h-1zM386.81 75.91h1v1h-1zM389.05 77.39h1v1h-1zM388.85 76.01h1v1h-1zM394.59 77.62h1v1h-1zM396.99 78.06h1v1h-1zM396.36 76.98h1v1h-1zM397.88 76.84h1v1h-1zM395.8 76.53h1v1h-1zM396.74 79.72h1v1h-1zM396.48 79.09h1v1h-1zM398.07 84.8h1v1h-1zM397.08 80.77h1v1h-1zM396.62 79.94h1v1h-1zM397.62 82.95h1v1h-1zM397.52 82.76h1v1h-1zM398.32 85.02h1v1h-1zM396.53 89.11h1v1h-1zM394.92 92.59h1v1h-1zM396.4 90.67h1v1h-1zM397.68 88.83h1v1h-1zM398.2 86.66h1v1h-1zM395.79 90.6h1v1h-1zM392.92 92.62h1v1h-1zM393.52 92.24h1v1h-1zM390.47 92h1v1h-1zM395.17 91.78h1v1h-1zM392.5 92.17h1v1h-1zM389.76 91.66h1v1h-1zM389 87.89h1v1h-1zM387.84 90.14h1v1h-1zM389.98 91.41h1v1h-1zM390.06 90.7h1v1h-1zM388.83 90.54h1v1h-1zM386.91 81.17h1v1h-1zM386.95 78h1v1h-1zM386.37 84.99h1v1h-1zM387.9 79.5h1v1h-1zM387.54 80.19h1v1h-1zM387.55 77.96h1v1h-1zM386.55 78.05h1v1h-1zM385.99 77.61h1v1h-1zM387.53 83.17h1v1h-1z" fill="#3fac45"/>
<polygon points="393.29,94.88 398.42,92.84 402.49,96.91 402.49,102.05 397.35,103.11 394.25,100.01" fill="#ee5aab"/>
<path d="M398.33 92.81h1v1h-1zM393.45 93.46h1v1h-1zM398.58 92h1v1h-1zM394.13 94.51h1v1h-1zM398.09 91.62h1v1h-1zM400 96.03h1v1h-1zM401.62 96.22h1v1h-1zM401.13 94.94h1v1h-1zM399.69 94.05h1v1h-1zM397.34 93.03h1v1h-1zM402.3 98.13h1v1h-1zM402.02 99.61h1v1h-1zM401.37 98.11h1v1h-1zM402.87 99.59h1v1h-1zM402.81 100.75h1v1h-1zM397.34 103.49h1v1h-1zM397.68 101.93h1v1h-1zM399.28 101.17h1v1h-1zM397.63 102.41h1v1h-1zM397.67 101.74h1v1h-1zM394.53 100.47h1v1h-1zM395.74 102.11h1v1h-1zM396.12 101.26h1v1h-1zM395.38 100.8h1v1h-1zM394.21 96.32h1v1h-1zM393.71 97.81h1v1h-1zM393.5 97.54h1v1h-1zM392.38 94.96h1v1h-1zM392.85 93.77h1v1h-1z" fill="#ee5aab"/>
<polygon points="365.4,63.96 374.6,69.1 376.63,75.3 369.47,74.23" fill="#35ad5c"/>
<path d="M371.06 66.7h1v1h-1zM369.52 66.73h1v1h-1zM371.23 67.73h1v1h-1zM371.27 66.7h1v1h-1zM368.09 65.63h1v1h-1zM374.46 67.48h1v1h-1zM365.09 64.22h1v1h-1zM368.18 65.56h1v1h-1zM370.66 66.21h1v1h-1zM371.24 67.03h1v1h-1zM374.62 68.14h1v1h-1zM374.16 67.97h1v1h-1zM374.03 68.99h1v1h-1zM375.22 69.96h1v1h-1zM375.27 71.25h1v1h-1zM375.34 74.31h1v1h-1zM375.28 74.59h1v1h-1zM372.99 75.14h1v1h-1zM374.87 74.95h1v1h-1zM372.65 74.2h1v1h-1zM372.52 74.57h1v1h-1zM372.79 74.91h1v1h-1zM372.82 75.08h1v1h-1zM366.87 69.86h1v1h-1zM365.57 63.51h1v1h-1zM366.72 66.43h1v1h-1zM366.92 66.61h1v1h-1zM366.12 67.17h1v1h-1zM368.59 71.49h1v1h-1zM364.66 64.09h1v1h-1zM368.73 74.1h1v1h-1zM368.14 70.51h1v1h-1zM368.33 69.04h1v1h-1zM364.37 64.52h1v1h-1z" fill="#35ad5c"/>
<polyline points="365.1,51.5 371.5,53.6 377.3,58.6 382.1,61.5 386.9,67.3 389.8,74 390.7,78.8" fill="none" stroke="#1db38e" stroke-width="2.8" stroke-linejoin="round" stroke-linecap="round"/>
<polygon points="407.41,69.74 411.59,69.31 412.55,74.45 409.45,75.41" fill="#5b8fd4"/>
<path d="M411.02 68.67h1v1h-1zM409.8 69.51h1v1h-1zM410.19 68.42h1v1h-1zM409.98 69.02h1v1h-1zM411.31 74.44h1v1h-1zM411.85 71.38h1v1h-1zM411.49 70.28h1v1h-1zM410.9 71.6h1v1h-1zM412.27 72.98h1v1h-1zM409.39 74.01h1v1h-1zM410.09 74.59h1v1h-1zM409.11 75.81h1v1h-1zM408.75 72.06h1v1h-1zM408.72 73.59h1v1h-1zM407.02 69.76h1v1h-1zM408.29 71.92h1v1h-1zM408.5 72.08h1v1h-1zM409.06 74.01h1v1h-1z" fill="#5b8fd4"/>
<polygon points="407.35,74.72 410.45,73.75 413.56,82.95 415.59,89.16 411.52,89.16 408.42,82.95" fill="#e04ac8"/>
<path d="M406.98 73.21h1v1h-1zM407.71 74.61h1v1h-1zM407.65 74.35h1v1h-1zM410.68 74.23h1v1h-1zM411.02 75.6h1v1h-1zM411.76 75.79h1v1h-1zM411.05 77.5h1v1h-1zM412.62 80.95h1v1h-1zM412.46 81.78h1v1h-1zM411.18 79.88h1v1h-1zM410.89 76.26h1v1h-1zM413.35 81.22h1v1h-1zM413.12 83.93h1v1h-1zM414.26 84.54h1v1h-1zM413.25 83.32h1v1h-1zM413.61 87.31h1v1h-1zM413.87 82.93h1v1h-1zM413.43 85.16h1v1h-1zM414.62 88.86h1v1h-1zM410.71 87.86h1v1h-1zM415.4 88.01h1v1h-1zM414.32 89.05h1v1h-1zM409.96 86.24h1v1h-1zM408.99 84.9h1v1h-1zM409.84 86.64h1v1h-1zM410.59 88.74h1v1h-1zM409.42 87.69h1v1h-1zM409.59 85.37h1v1h-1zM407.48 75.39h1v1h-1zM407.6 77.02h1v1h-1zM407.26 79.06h1v1h-1zM407.48 78.66h1v1h-1zM407.86 75.41h1v1h-1zM407.5 81.34h1v1h-1zM407.31 75.46h1v1h-1zM408.45 81.55h1v1h-1z" fill="#e04ac8"/>
<polygon points="401.13,86.33 407.34,88.36 415.58,88.36 420.71,91.47 423.82,94.57 417.61,97.57 409.37,99.71 404.24,100.67 402.2,94.57" fill="#26b3df"/>
<path d="M405.26 87.71h1v1h-1zM403.25 86.86h1v1h-1zM407.08 88.45h1v1h-1zM404.97 87.02h1v1h-1zM406.75 87.83h1v1h-1zM403.28 86.49h1v1h-1zM414.15 88.85h1v1h-1zM406.25 87.64h1v1h-1zM411.33 87.99h1v1h-1zM414.45 88.39h1v1h-1zM411.88 87.21h1v1h-1zM411.46 88.21h1v1h-1zM408.52 87.95h1v1h-1zM409.77 88.13h1v1h-1zM414.61 88.23h1v1h-1zM415.32 89.05h1v1h-1zM417.71 89.02h1v1h-1zM415.87 87.7h1v1h-1zM419.71 90.91h1v1h-1zM414.44 88.64h1v1h-1zM420.05 90.46h1v1h-1zM420.67 92.39h1v1h-1zM420.73 92.62h1v1h-1zM421.06 91.77h1v1h-1zM416.6 97h1v1h-1zM421.59 94.72h1v1h-1zM418.25 96.2h1v1h-1zM416.79 96.53h1v1h-1zM417.97 95.95h1v1h-1zM421.63 94.21h1v1h-1zM410.55 99.83h1v1h-1zM411.85 98.26h1v1h-1zM411.19 97.72h1v1h-1zM412.83 98.18h1v1h-1zM415.76 98.14h1v1h-1zM413.71 97.16h1v1h-1zM413.06 97.69h1v1h-1zM412.99 98.67h1v1h-1zM405.45 99.13h1v1h-1zM404.31 100.63h1v1h-1zM408.08 99.17h1v1h-1zM404.78 100.51h1v1h-1zM405.41 99.04h1v1h-1zM401.35 94.46h1v1h-1zM402.72 100.69h1v1h-1zM402.13 96.94h1v1h-1zM402.22 95.84h1v1h-1zM402.88 99.51h1v1h-1zM402.57 98.4h1v1h-1zM400.35 88.13h1v1h-1zM400.88 88.96h1v1h-1zM401.11 89.16h1v1h-1zM400.27 90.39h1v1h-1zM401.17 91.49h1v1h-1zM400.93 86.54h1v1h-1zM402 88.87h1v1h-1zM401.71 90.65h1v1h-1z" fill="#26b3df"/>
<polygon points="397.85,94.21 401.92,95.17 404.06,100.31 399.89,102.45 396.78,101.38" fill="#ee5aab"/>
<path d="M401.04 93.47h1v1h-1zM398.1 94.48h1v1h-1zM400.94 95.31h1v1h-1zM397.89 94.59h1v1h-1zM402.28 99.56h1v1h-1zM403.74 98.2h1v1h-1zM403.63 98.57h1v1h-1zM403.43 98.63h1v1h-1zM403.53 99.9h1v1h-1zM402.77 100.24h1v1h-1zM403.57 99.21h1v1h-1zM400.49 100.8h1v1h-1zM400.41 101h1v1h-1zM397.7 100.55h1v1h-1zM398.64 100.93h1v1h-1zM396.15 101.15h1v1h-1zM395.65 97.44h1v1h-1zM395.94 100.41h1v1h-1zM397.62 92.9h1v1h-1zM396.51 95.7h1v1h-1zM397.77 96.57h1v1h-1zM396.37 97.65h1v1h-1zM397.1 98.56h1v1h-1z" fill="#ee5aab"/>
<polygon points="369.36,118.42 371.82,115.53 377.7,114.89 386.26,115.74 392.68,116.6 396.43,118.74 394.82,121.09 388.4,122.7 381.98,124.95 374.49,125.16 370.43,122.38" fill="#d49b1b"/>
<path d="M369.85 116.5h1v1h-1zM370.64 115.36h1v1h-1zM368.33 117.28h1v1h-1zM372.86 115.06h1v1h-1zM376.23 113.71h1v1h-1zM370.97 114.89h1v1h-1zM376.54 114.6h1v1h-1zM376.1 113.71h1v1h-1zM381.75 114.4h1v1h-1zM376.78 113.54h1v1h-1zM381.01 115.05h1v1h-1zM383.95 114.33h1v1h-1zM383.41 115.73h1v1h-1zM382.11 115.59h1v1h-1zM383.95 114.54h1v1h-1zM384.1 114.99h1v1h-1zM385.79 114.78h1v1h-1zM389.65 115.78h1v1h-1zM385.41 115.51h1v1h-1zM391.12 116.41h1v1h-1zM387.54 115.5h1v1h-1zM390.72 116.77h1v1h-1zM393.79 117.1h1v1h-1zM394.52 115.96h1v1h-1zM392.84 117.31h1v1h-1zM392.05 116.27h1v1h-1zM395.49 119.55h1v1h-1zM395.19 119.71h1v1h-1zM391.98 121.71h1v1h-1zM390.49 120.64h1v1h-1zM389.11 121.15h1v1h-1zM389.42 121.57h1v1h-1zM389.54 122.44h1v1h-1zM391.46 121.69h1v1h-1zM386.28 122.75h1v1h-1zM385.69 123.84h1v1h-1zM385.67 122.87h1v1h-1zM384.49 124.09h1v1h-1zM386.85 121.81h1v1h-1zM382.87 124.51h1v1h-1zM379.53 125.32h1v1h-1zM374.61 124.62h1v1h-1zM380.53 125.38h1v1h-1zM374.5 124.74h1v1h-1zM378.44 125h1v1h-1zM375.47 124.45h1v1h-1zM376.72 124.52h1v1h-1zM372.71 123.67h1v1h-1zM370.63 122.65h1v1h-1zM372.25 123h1v1h-1zM370.24 121.21h1v1h-1zM369.37 119.32h1v1h-1zM369.32 119.58h1v1h-1zM368.7 118.34h1v1h-1zM369.35 120.13h1v1h-1z" fill="#d49b1b"/>
</g>
<g filter="url(#gl)">
<polygon points="365.76,44.43 375.39,44.43 384.91,45.5 392.3,46.36 394.01,51.28 389.83,57.05 383.31,58.77 379.13,54.06 371.64,50.31 365.01,48.82" fill="#f26c55"/>
<path d="M371.2 43.63h1v1h-1zM374.01 44.28h1v1h-1zM373.16 44.21h1v1h-1zM367.31 43.13h1v1h-1zM373.79 43.53h1v1h-1zM377.73 43.62h1v1h-1zM381.75 43.78h1v1h-1zM377.83 43.65h1v1h-1zM382.95 44.81h1v1h-1zM376.39 43.99h1v1h-1zM386.93 44.3h1v1h-1zM389.73 45.2h1v1h-1zM385.07 44.32h1v1h-1zM390.47 44.71h1v1h-1zM392.77 47.72h1v1h-1zM391.7 45.73h1v1h-1zM393.18 51.49h1v1h-1zM390.03 55.04h1v1h-1zM389.32 55.56h1v1h-1zM392.29 51.16h1v1h-1zM393.84 51.84h1v1h-1zM384.39 58.61h1v1h-1zM385.07 58.22h1v1h-1zM384.28 57.76h1v1h-1zM386.67 57.69h1v1h-1zM380.07 55.6h1v1h-1zM378.55 53.67h1v1h-1zM381.93 58.96h1v1h-1zM376.19 52.33h1v1h-1zM373.97 52h1v1h-1zM376.84 52.92h1v1h-1zM378.72 52.74h1v1h-1zM371.15 49.78h1v1h-1zM366.23 49h1v1h-1zM368.45 48.6h1v1h-1zM367.59 49.47h1v1h-1zM369.71 49.05h1v1h-1zM365.07 44.98h1v1h-1zM365.92 43.75h1v1h-1z" fill="#f26c55"/>
<polygon points="425.41,63.04 431.61,66.14 438.78,71.27 441.88,78.44 440.81,82.62 434.61,80.48 428.51,77.48 426.37,72.24 428.51,67.1" fill="#3fac45"/>
<path d="M426.54 63.98h1v1h-1zM426.52 63.72h1v1h-1zM437.25 69.69h1v1h-1zM431.75 67.28h1v1h-1zM437.58 69.57h1v1h-1zM438.86 73.6h1v1h-1zM441.07 75.81h1v1h-1zM439.64 73.79h1v1h-1zM441.27 80.26h1v1h-1zM438.42 80.71h1v1h-1zM439.81 81.74h1v1h-1zM433.07 79.73h1v1h-1zM429.04 76.21h1v1h-1zM427.07 74.94h1v1h-1zM427.9 76.94h1v1h-1zM426.04 68.99h1v1h-1zM426.43 71.12h1v1h-1zM426.34 62.82h1v1h-1zM427.05 66.37h1v1h-1z" fill="#3fac45"/>
<polygon points="409.77,69.42 416.73,70.49 425.18,74.13 431.71,79.05 431.17,81.4 424.75,78.84 416.94,75.63 410.84,72.84" fill="#5b8fd4"/>
<path d="M414 69.61h1v1h-1zM411.69 69.89h1v1h-1zM419.06 71.78h1v1h-1zM422.23 73.05h1v1h-1zM418.66 70.01h1v1h-1zM429.18 77.19h1v1h-1zM428.25 76.17h1v1h-1zM426.81 75.36h1v1h-1zM426.5 79.17h1v1h-1zM428.63 81.04h1v1h-1zM420.24 75.57h1v1h-1zM422.8 77.23h1v1h-1zM421.6 76.71h1v1h-1zM414.02 73.78h1v1h-1zM412.58 72.59h1v1h-1zM409.29 70.02h1v1h-1z" fill="#5b8fd4"/>
<polygon points="411.33,73.31 417.75,75.24 425.24,78.45 431.13,81.55 430.59,86.37 425.24,86.9 417.75,84.23 413.47,79.95" fill="#8db334"/>
<path d="M412.8 72.64h1v1h-1zM412.33 72.61h1v1h-1zM417.43 73.87h1v1h-1zM423.55 77.45h1v1h-1zM420.24 75.63h1v1h-1zM429.48 80.37h1v1h-1zM427.27 79.02h1v1h-1zM430.87 85.66h1v1h-1zM426.56 86.18h1v1h-1zM427.4 86.2h1v1h-1zM419.32 83.32h1v1h-1zM419.34 84.59h1v1h-1zM417.04 83.92h1v1h-1zM416.54 81.45h1v1h-1zM414.13 81.83h1v1h-1zM412.39 75.82h1v1h-1zM410.09 73.04h1v1h-1z" fill="#8db334"/>
<polygon points="428.33,80.6 436.56,80.6 442.66,81.67 442.24,87.77 441.7,95.05 436.56,93.98 430.36,88.84 426.19,84.67" fill="#f26c55"/>
<path d="M434.63 80.66h1v1h-1zM429.25 80.52h1v1h-1zM432.97 80.97h1v1h-1zM438.35 80.63h1v1h-1zM437.34 81.24h1v1h-1zM441.01 86.77h1v1h-1zM442.39 82.06h1v1h-1zM441.38 89.65h1v1h-1zM441.69 91.32h1v1h-1zM437.23 94.21h1v1h-1zM439.52 94.22h1v1h-1zM432.28 89.87h1v1h-1zM429.53 87.42h1v1h-1zM434.92 93.47h1v1h-1zM425.43 84.31h1v1h-1zM429.42 88.13h1v1h-1zM425.45 84.03h1v1h-1z" fill="#f26c55"/>
</g>
<g filter="url(#gs)">
<polygon points="394.24,45.7 397.88,47.84 404.3,48.91 403.34,51.27 400.88,54.59 397.56,52.98" fill="#1fb3c4"/>
<path d="M397.71 47.23h1v1h-1zM396.99 46.82h1v1h-1zM394.78 46.11h1v1h-1zM395.2 45.19h1v1h-1zM403.04 47.84h1v1h-1zM404.45 49.22h1v1h-1zM403.48 48.89h1v1h-1zM400.17 48.41h1v1h-1zM403.42 47.33h1v1h-1zM398.24 47.39h1v1h-1zM403.92 50.41h1v1h-1zM403.48 50.39h1v1h-1zM402.21 51.12h1v1h-1zM401.07 54.36h1v1h-1zM401.11 52.2h1v1h-1zM401.26 52.24h1v1h-1zM400.16 53.57h1v1h-1zM399.07 53.55h1v1h-1zM398.9 53.32h1v1h-1zM397.73 52.55h1v1h-1zM394.86 46.87h1v1h-1zM395.08 50.34h1v1h-1zM397.24 52.91h1v1h-1zM395.06 48.24h1v1h-1zM394.5 46.48h1v1h-1zM394.56 49.37h1v1h-1z" fill="#1fb3c4"/>
<polyline points="358,55 363,58 368,63 373,70 377,77" fill="none" stroke="#1db38e" stroke-width="3.2" stroke-linejoin="round" stroke-linecap="round"/>
<polyline points="367,52 373,56 379,63 383,71 385,79" fill="none" stroke="#1db38e" stroke-width="2" stroke-linejoin="round" stroke-linecap="round"/>
<polygon points="351.65,78.56 356.58,74.6 363.64,71.6 365.56,70.21 373.7,75.35 381.94,80.48 387.07,84.55 388.14,88.72 383.01,90.75 376.8,90.75 369.63,92.79 360.54,96.85 356.58,91.5 353.58,86.58" fill="#a8a923"/>
<path d="M355.02 75.75h1v1h-1zM351.95 77.28h1v1h-1zM355.2 75.77h1v1h-1zM355.9 75.66h1v1h-1zM354.22 76.02h1v1h-1zM350.86 77.71h1v1h-1zM362.87 70.67h1v1h-1zM360.15 71.64h1v1h-1zM358.11 73.11h1v1h-1zM359.67 72.51h1v1h-1zM362.37 71.23h1v1h-1zM356.7 73.02h1v1h-1zM361.98 71.39h1v1h-1zM363.68 70.44h1v1h-1zM362.96 70.58h1v1h-1zM372.24 74.3h1v1h-1zM370.63 73.25h1v1h-1zM364.77 70.49h1v1h-1zM372.87 74.57h1v1h-1zM366.48 70.77h1v1h-1zM369.25 73.75h1v1h-1zM368.75 73.29h1v1h-1zM367.33 72.03h1v1h-1zM366.61 70.65h1v1h-1zM377.84 78.29h1v1h-1zM381.64 80.27h1v1h-1zM380.29 80.23h1v1h-1zM374.1 74.46h1v1h-1zM374.91 74.61h1v1h-1zM379.16 77.53h1v1h-1zM378.85 79.69h1v1h-1zM379.93 78.94h1v1h-1zM373.83 74.07h1v1h-1zM384.99 82.48h1v1h-1zM382.48 80.86h1v1h-1zM383.67 81.48h1v1h-1zM383.61 81.22h1v1h-1zM383.69 80.85h1v1h-1zM385.13 82.5h1v1h-1zM387.5 84.56h1v1h-1zM387.8 87.27h1v1h-1zM385.84 84.95h1v1h-1zM388.15 86.24h1v1h-1zM385.89 87.99h1v1h-1zM387.48 88.12h1v1h-1zM386.65 88.6h1v1h-1zM383.46 89.11h1v1h-1zM387.71 89.03h1v1h-1zM382.6 89.72h1v1h-1zM378.91 90.71h1v1h-1zM380.3 91.19h1v1h-1zM377.67 90.34h1v1h-1zM381.92 91.07h1v1h-1zM381.68 89.34h1v1h-1zM369.69 91.21h1v1h-1zM373.15 90.85h1v1h-1zM372.2 90.7h1v1h-1zM371.58 91.22h1v1h-1zM370.03 92.54h1v1h-1zM374.34 91.34h1v1h-1zM376.38 90.34h1v1h-1zM363.52 95.58h1v1h-1zM366.49 93.16h1v1h-1zM366.68 92.61h1v1h-1zM362.65 94.21h1v1h-1zM368.9 93.48h1v1h-1zM360.9 96.84h1v1h-1zM368.04 93.86h1v1h-1zM366.24 92.39h1v1h-1zM368.98 92.84h1v1h-1zM357.38 94.09h1v1h-1zM358.76 95.81h1v1h-1zM358.09 93.56h1v1h-1zM359.1 94.91h1v1h-1zM357.15 94.46h1v1h-1zM357.95 92.68h1v1h-1zM354.01 87.17h1v1h-1zM353.09 86.73h1v1h-1zM356.44 90.67h1v1h-1zM352.7 86.01h1v1h-1zM354.42 87.25h1v1h-1zM352.23 78.54h1v1h-1zM351.02 81.49h1v1h-1zM351.26 77.73h1v1h-1zM351.11 81.44h1v1h-1zM352.76 86.07h1v1h-1zM352.36 80.06h1v1h-1zM351.34 83.12h1v1h-1zM351.8 80.8h1v1h-1z" fill="#a8a923"/>
<polygon points="406.88,64.6 411.05,62.03 419.29,61.5 426.46,63.53 429.56,66.63 426.46,69.74 420.25,70.7 413.09,69.74 407.95,66.63" fill="#d49b1b"/>
<path d="M407.42 62.16h1v1h-1zM406.56 63.17h1v1h-1zM410.05 62.71h1v1h-1zM408.01 62.23h1v1h-1zM417.64 61.38h1v1h-1zM414.86 60.59h1v1h-1zM414.8 62.19h1v1h-1zM414.94 60.31h1v1h-1zM414.98 62.09h1v1h-1zM411.66 60.45h1v1h-1zM411.4 62.26h1v1h-1zM410.85 61.6h1v1h-1zM420.79 62.32h1v1h-1zM423.71 62.73h1v1h-1zM421.39 61.1h1v1h-1zM425.38 63.55h1v1h-1zM422.18 61.86h1v1h-1zM420.93 61.14h1v1h-1zM418.68 61.45h1v1h-1zM425.91 64.33h1v1h-1zM426.91 63.02h1v1h-1zM427.95 64.82h1v1h-1zM429.51 65.83h1v1h-1zM426.41 69.2h1v1h-1zM427.82 67.28h1v1h-1zM428.58 67.63h1v1h-1zM426.28 67.42h1v1h-1zM423.55 70.28h1v1h-1zM422.6 69.97h1v1h-1zM422.89 69.88h1v1h-1zM422 69.02h1v1h-1zM424.01 70.55h1v1h-1zM424.29 69.56h1v1h-1zM415.86 70.34h1v1h-1zM418.6 69.67h1v1h-1zM417.69 69.16h1v1h-1zM415.35 69.98h1v1h-1zM415.7 69.58h1v1h-1zM414.96 69.54h1v1h-1zM414.25 70h1v1h-1zM410.53 67.65h1v1h-1zM410.3 67.11h1v1h-1zM410.54 68.55h1v1h-1zM408.26 67.91h1v1h-1zM407.53 67.18h1v1h-1zM409.16 66.48h1v1h-1zM407.61 66.54h1v1h-1zM407.36 64.75h1v1h-1z" fill="#d49b1b"/>
<polygon points="403.64,69.9 407.7,69.36 410.81,69.9 407.7,80.17 406.74,88.41 403.64,87.34 402.57,78.13" fill="#2fae5e"/>
<path d="M406.36 69.27h1v1h-1zM405.7 69.22h1v1h-1zM403.86 69.75h1v1h-1zM405.82 69.13h1v1h-1zM407.74 68.67h1v1h-1zM408.49 68.3h1v1h-1zM408.75 69.28h1v1h-1zM406.39 80.35h1v1h-1zM411.24 70.27h1v1h-1zM409.19 73.92h1v1h-1zM409.51 70.96h1v1h-1zM406.84 78.41h1v1h-1zM408.95 74.82h1v1h-1zM408.09 76.46h1v1h-1zM407.99 75.64h1v1h-1zM406.71 78.6h1v1h-1zM408.37 73.72h1v1h-1zM406.86 81.42h1v1h-1zM406.17 84.86h1v1h-1zM407.34 84.18h1v1h-1zM407.93 81.71h1v1h-1zM406.39 82.85h1v1h-1zM407.15 82.78h1v1h-1zM405.9 87.5h1v1h-1zM406.58 83.44h1v1h-1zM404.71 87.47h1v1h-1zM403.78 86.08h1v1h-1zM402.21 85.96h1v1h-1zM401.81 78.36h1v1h-1zM402.94 85.9h1v1h-1zM402.45 85.68h1v1h-1zM402.71 86.33h1v1h-1zM402.4 78.63h1v1h-1zM403.33 81.75h1v1h-1zM402.63 84.59h1v1h-1zM403.87 85.79h1v1h-1zM402.91 85.6h1v1h-1zM402.54 74.57h1v1h-1zM401.7 75.66h1v1h-1zM402.26 72.35h1v1h-1zM403.2 73.8h1v1h-1zM403.42 74.8h1v1h-1zM401.97 72.61h1v1h-1zM401.96 71.39h1v1h-1zM402.24 76.33h1v1h-1z" fill="#2fae5e"/>
</g>
<path d="M378.71 47.77h1.1v1.1h-1.1zM382.93 51.34h1.1v1.1h-1.1zM380.92 54.43h1.1v1.1h-1.1zM388.12 55.43h1.1v1.1h-1.1zM370.49 47.54h1.1v1.1h-1.1zM380.18 48.21h1.1v1.1h-1.1zM381.47 49.41h1.1v1.1h-1.1zM390.64 51.2h1.1v1.1h-1.1zM379.81 50.79h1.1v1.1h-1.1zM390.12 54.25h1.1v1.1h-1.1zM375.61 52.3h1.1v1.1h-1.1zM376.56 50.7h1.1v1.1h-1.1zM379.56 52.14h1.1v1.1h-1.1zM374.09 50.84h1.1v1.1h-1.1zM378.34 54.21h1.1v1.1h-1.1zM381.23 47.26h1.1v1.1h-1.1zM379.81 49.04h1.1v1.1h-1.1zM379.52 54.87h1.1v1.1h-1.1zM370.84 48.66h1.1v1.1h-1.1zM371.06 46.3h1.1v1.1h-1.1zM385.62 53.95h1.1v1.1h-1.1zM369.62 48.8h1.1v1.1h-1.1zM386.69 55.21h1.1v1.1h-1.1zM387.21 53.24h1.1v1.1h-1.1zM380.6 48.22h1.1v1.1h-1.1zM369.63 48.25h1.1v1.1h-1.1zM380.59 53.15h1.1v1.1h-1.1zM379.05 53.63h1.1v1.1h-1.1zM381.54 53.75h1.1v1.1h-1.1zM386.53 54.28h1.1v1.1h-1.1zM381.25 48.97h1.1v1.1h-1.1zM381.18 53.29h1.1v1.1h-1.1zM378.3 48.87h1.1v1.1h-1.1zM389.26 49.83h1.1v1.1h-1.1zM375.53 51.37h1.1v1.1h-1.1zM378.3 53.59h1.1v1.1h-1.1zM386.14 55.21h1.1v1.1h-1.1zM387.42 54.71h1.1v1.1h-1.1zM391.32 51.38h1.1v1.1h-1.1zM378.72 53.82h1.1v1.1h-1.1zM378.03 52.68h1.1v1.1h-1.1zM380.47 50.37h1.1v1.1h-1.1zM384.17 55.88h1.1v1.1h-1.1zM388.01 48.14h1.1v1.1h-1.1zM380.11 47.13h1.1v1.1h-1.1z" fill="#fff"/>
<path d="M375.58 58.94h1.1v1.1h-1.1zM384.34 56.05h1.1v1.1h-1.1zM379.62 60.21h1.1v1.1h-1.1zM382.26 57.88h1.1v1.1h-1.1zM379.37 64.23h1.1v1.1h-1.1zM371.6 56.09h1.1v1.1h-1.1zM379.03 60.39h1.1v1.1h-1.1zM377.35 54.88h1.1v1.1h-1.1zM383.25 60.79h1.1v1.1h-1.1zM385.09 59.72h1.1v1.1h-1.1zM373.11 58.59h1.1v1.1h-1.1zM377.32 56.93h1.1v1.1h-1.1zM373.06 53.66h1.1v1.1h-1.1zM382.75 57.64h1.1v1.1h-1.1zM386.04 60.52h1.1v1.1h-1.1zM381.17 56.01h1.1v1.1h-1.1zM385.98 56.87h1.1v1.1h-1.1zM384.9 55.42h1.1v1.1h-1.1zM371.11 57.4h1.1v1.1h-1.1zM375.57 56.69h1.1v1.1h-1.1zM375.24 54.25h1.1v1.1h-1.1zM383.91 56.95h1.1v1.1h-1.1zM382.24 57.99h1.1v1.1h-1.1zM382.11 63.77h1.1v1.1h-1.1zM376.26 60.3h1.1v1.1h-1.1z" fill="#1db38e"/>
<path d="M379.28 70.71h1.1v1.1h-1.1zM380.85 73.79h1.1v1.1h-1.1zM382.66 65.29h1.1v1.1h-1.1zM382.17 67.79h1.1v1.1h-1.1zM378.72 66.34h1.1v1.1h-1.1zM385.58 66.88h1.1v1.1h-1.1zM378.43 69.49h1.1v1.1h-1.1zM383.23 68.93h1.1v1.1h-1.1zM382.91 71.44h1.1v1.1h-1.1zM376.92 62.7h1.1v1.1h-1.1zM377.77 66.26h1.1v1.1h-1.1zM377.82 66.02h1.1v1.1h-1.1z" fill="#1db38e"/>
<path d="M375.44 96.13h1.1v1.1h-1.1zM368.52 91.85h1.1v1.1h-1.1zM371.35 96.56h1.1v1.1h-1.1zM375.11 92.37h1.1v1.1h-1.1zM372.73 84.44h1.1v1.1h-1.1zM380.77 90.23h1.1v1.1h-1.1zM380.89 85.69h1.1v1.1h-1.1zM373.78 92.63h1.1v1.1h-1.1zM379.19 93.62h1.1v1.1h-1.1zM374.6 86.75h1.1v1.1h-1.1zM377.56 91.09h1.1v1.1h-1.1zM371.29 85.8h1.1v1.1h-1.1zM379.73 91.67h1.1v1.1h-1.1zM371.15 96.5h1.1v1.1h-1.1zM375.37 88.65h1.1v1.1h-1.1zM375.8 99.06h1.1v1.1h-1.1zM375.71 94.91h1.1v1.1h-1.1zM377 90.54h1.1v1.1h-1.1zM377.75 89.49h1.1v1.1h-1.1zM377.79 87.33h1.1v1.1h-1.1zM374.81 90.85h1.1v1.1h-1.1zM375.47 84.88h1.1v1.1h-1.1zM370.36 95.45h1.1v1.1h-1.1zM368.99 91.62h1.1v1.1h-1.1zM379.21 96.33h1.1v1.1h-1.1zM373.12 96.08h1.1v1.1h-1.1zM370.89 92.91h1.1v1.1h-1.1zM379.19 97.78h1.1v1.1h-1.1zM375.12 95.07h1.1v1.1h-1.1zM367.43 94.55h1.1v1.1h-1.1zM374.82 92.18h1.1v1.1h-1.1zM373.41 86.86h1.1v1.1h-1.1zM369.55 96.71h1.1v1.1h-1.1zM377.07 97.29h1.1v1.1h-1.1zM377.72 86.88h1.1v1.1h-1.1zM383.13 86.91h1.1v1.1h-1.1zM375.15 91.36h1.1v1.1h-1.1zM368.98 88.27h1.1v1.1h-1.1zM369.35 86.68h1.1v1.1h-1.1zM377.99 88.03h1.1v1.1h-1.1zM374.22 98.84h1.1v1.1h-1.1zM377.68 91.45h1.1v1.1h-1.1zM379.45 95.85h1.1v1.1h-1.1zM371.55 85.12h1.1v1.1h-1.1zM379.18 95.97h1.1v1.1h-1.1z" fill="#fff"/>
<path d="M374.76 84.71h1.1v1.1h-1.1zM367.84 86.26h1.1v1.1h-1.1zM368.61 87.94h1.1v1.1h-1.1zM372.08 79.22h1.1v1.1h-1.1zM365.31 86.51h1.1v1.1h-1.1zM373.74 86.67h1.1v1.1h-1.1zM366.29 77.07h1.1v1.1h-1.1zM363.36 86.36h1.1v1.1h-1.1zM372.39 87.64h1.1v1.1h-1.1zM374.15 83.04h1.1v1.1h-1.1zM369.14 84.92h1.1v1.1h-1.1zM374.61 84.23h1.1v1.1h-1.1zM377.06 79.8h1.1v1.1h-1.1zM371.62 84.68h1.1v1.1h-1.1zM373.59 86.63h1.1v1.1h-1.1zM364.7 85.34h1.1v1.1h-1.1zM369.01 79.03h1.1v1.1h-1.1zM366.4 81.08h1.1v1.1h-1.1zM373.76 83.73h1.1v1.1h-1.1zM369.4 80.16h1.1v1.1h-1.1zM371.7 84.46h1.1v1.1h-1.1zM370.97 83.32h1.1v1.1h-1.1zM366.87 79.12h1.1v1.1h-1.1zM364.49 82.76h1.1v1.1h-1.1zM367.87 84.2h1.1v1.1h-1.1zM372.78 79.87h1.1v1.1h-1.1zM371.72 79.62h1.1v1.1h-1.1zM373.93 78.86h1.1v1.1h-1.1zM371.51 86.31h1.1v1.1h-1.1zM374.79 83.43h1.1v1.1h-1.1z" fill="#fff"/>
<path d="M354.57 65.89h1.1v1.1h-1.1zM358.81 69.05h1.1v1.1h-1.1zM353.05 64.44h1.1v1.1h-1.1zM353.57 63.9h1.1v1.1h-1.1zM367.77 82.73h1.1v1.1h-1.1zM364.68 74.46h1.1v1.1h-1.1zM355.42 65.14h1.1v1.1h-1.1zM354.4 64.27h1.1v1.1h-1.1zM363.9 74.87h1.1v1.1h-1.1zM359.98 69.7h1.1v1.1h-1.1zM360.47 69.76h1.1v1.1h-1.1zM353.4 65.04h1.1v1.1h-1.1zM362.17 73.84h1.1v1.1h-1.1zM356.79 62.61h1.1v1.1h-1.1zM365.89 81.11h1.1v1.1h-1.1zM368.12 80.81h1.1v1.1h-1.1zM356.25 68.82h1.1v1.1h-1.1zM364 75.55h1.1v1.1h-1.1zM364.52 74.17h1.1v1.1h-1.1zM356.67 67.25h1.1v1.1h-1.1zM359.67 69.94h1.1v1.1h-1.1zM358.18 63.48h1.1v1.1h-1.1zM356.87 62.38h1.1v1.1h-1.1zM360.97 72.6h1.1v1.1h-1.1zM367.06 79.11h1.1v1.1h-1.1zM359.03 65.81h1.1v1.1h-1.1zM366.52 77.24h1.1v1.1h-1.1zM366.82 77.19h1.1v1.1h-1.1zM365.22 74.1h1.1v1.1h-1.1zM358 66.18h1.1v1.1h-1.1z" fill="#fff"/>
<path d="M378.01 97.74h1.1v1.1h-1.1zM380.57 101.63h1.1v1.1h-1.1zM379.43 98.75h1.1v1.1h-1.1zM380.16 99.63h1.1v1.1h-1.1zM373.34 102.28h1.1v1.1h-1.1zM379.39 101.36h1.1v1.1h-1.1zM379.35 100.06h1.1v1.1h-1.1zM382.46 99.22h1.1v1.1h-1.1zM381.76 102.01h1.1v1.1h-1.1zM372.86 96.55h1.1v1.1h-1.1zM374.79 103.82h1.1v1.1h-1.1zM377.83 104.67h1.1v1.1h-1.1zM380.67 101.04h1.1v1.1h-1.1zM375.5 101.37h1.1v1.1h-1.1zM381.04 97.53h1.1v1.1h-1.1zM375.68 104.86h1.1v1.1h-1.1zM373.13 101.52h1.1v1.1h-1.1zM380.71 97.36h1.1v1.1h-1.1zM373.21 96.08h1.1v1.1h-1.1zM375.11 100.85h1.1v1.1h-1.1zM375.87 95.78h1.1v1.1h-1.1zM381.78 95.48h1.1v1.1h-1.1zM376.33 100.42h1.1v1.1h-1.1zM381.73 94.28h1.1v1.1h-1.1zM382.48 103.29h1.1v1.1h-1.1z" fill="#fff"/>
<line x1="321.5" y1="21.6" x2="321.5" y2="129.4" stroke="#2b2b2b" stroke-width="0.9"/>
<line x1="321.1" y1="129" x2="447.4" y2="129" stroke="#2b2b2b" stroke-width="0.9"/>
<line x1="318" y1="38.2" x2="321.5" y2="38.2" stroke="#2b2b2b" stroke-width="0.8"/>
<text x="316" y="40.6" font-size="5.8" text-anchor="end" fill="#333" stroke="#333" stroke-width="0.16">10</text>
<line x1="318" y1="57.3" x2="321.5" y2="57.3" stroke="#2b2b2b" stroke-width="0.8"/>
<text x="316" y="59.7" font-size="5.8" text-anchor="end" fill="#333" stroke="#333" stroke-width="0.16">5</text>
<line x1="318" y1="76.4" x2="321.5" y2="76.4" stroke="#2b2b2b" stroke-width="0.8"/>
<text x="316" y="78.8" font-size="5.8" text-anchor="end" fill="#333" stroke="#333" stroke-width="0.16">0</text>
<line x1="318" y1="95.5" x2="321.5" y2="95.5" stroke="#2b2b2b" stroke-width="0.8"/>
<text x="316" y="97.9" font-size="5.8" text-anchor="end" fill="#333" stroke="#333" stroke-width="0.16">-5</text>
<line x1="318" y1="114.6" x2="321.5" y2="114.6" stroke="#2b2b2b" stroke-width="0.8"/>
<text x="316" y="117" font-size="5.8" text-anchor="end" fill="#333" stroke="#333" stroke-width="0.16">-10</text>
<line x1="337" y1="129" x2="337" y2="131.2" stroke="#2b2b2b" stroke-width="0.8"/>
<text x="337" y="139.9" font-size="5.4" text-anchor="middle" fill="#333" stroke="#333" stroke-width="0.16">-10</text>
<line x1="359.8" y1="129" x2="359.8" y2="131.2" stroke="#2b2b2b" stroke-width="0.8"/>
<text x="359.8" y="139.9" font-size="5.4" text-anchor="middle" fill="#333" stroke="#333" stroke-width="0.16">-5</text>
<line x1="382.5" y1="129" x2="382.5" y2="131.2" stroke="#2b2b2b" stroke-width="0.8"/>
<text x="382.5" y="139.9" font-size="5.4" text-anchor="middle" fill="#333" stroke="#333" stroke-width="0.16">0</text>
<line x1="405.4" y1="129" x2="405.4" y2="131.2" stroke="#2b2b2b" stroke-width="0.8"/>
<text x="405.4" y="139.9" font-size="5.4" text-anchor="middle" fill="#333" stroke="#333" stroke-width="0.16">5</text>
<line x1="428.4" y1="129" x2="428.4" y2="131.2" stroke="#2b2b2b" stroke-width="0.8"/>
<text x="428.4" y="139.9" font-size="5.4" text-anchor="middle" fill="#333" stroke="#333" stroke-width="0.16">10</text>
<text x="382.2" y="149" font-size="5.8" text-anchor="middle" fill="#333" stroke="#333" stroke-width="0.16">V1</text>
<text transform="translate(300.2 75.8) rotate(-90)" font-size="6.6" font-weight="bold" fill="#333" text-anchor="middle">V2</text>
<text x="450" y="30.8" font-size="5.8" fill="#333" stroke="#333" stroke-width="0.16">phenograph_cluster</text>
<rect x="450.2" y="36.4" width="1.6" height="1.2" fill="#bf7258"/>
<text x="454.8" y="39.5" font-size="5.9" fill="#3a3a3a" stroke="#3a3a3a" stroke-width="0.16">1</text>
<rect x="450.2" y="42.9" width="1.6" height="1.2" fill="#bf8458"/>
<text x="454.8" y="46" font-size="5.9" fill="#3a3a3a" stroke="#3a3a3a" stroke-width="0.16">2</text>
<rect x="450.2" y="49.4" width="1.6" height="1.2" fill="#bf9558"/>
<text x="454.8" y="52.5" font-size="5.9" fill="#3a3a3a" stroke="#3a3a3a" stroke-width="0.16">3</text>
<rect x="450.2" y="55.9" width="1.6" height="1.2" fill="#bfa758"/>
<text x="454.8" y="59" font-size="5.9" fill="#3a3a3a" stroke="#3a3a3a" stroke-width="0.16">4</text>
<rect x="450.2" y="62.4" width="1.6" height="1.2" fill="#bfb958"/>
<text x="454.8" y="65.5" font-size="5.9" fill="#3a3a3a" stroke="#3a3a3a" stroke-width="0.16">5</text>
<rect x="450.2" y="68.9" width="1.6" height="1.2" fill="#b4bf58"/>
<text x="454.8" y="72" font-size="5.9" fill="#3a3a3a" stroke="#3a3a3a" stroke-width="0.16">6</text>
<rect x="450.2" y="75.4" width="1.6" height="1.2" fill="#a3bf58"/>
<text x="454.8" y="78.5" font-size="5.9" fill="#3a3a3a" stroke="#3a3a3a" stroke-width="0.16">7</text>
<rect x="450.2" y="81.9" width="1.6" height="1.2" fill="#91bf58"/>
<text x="454.8" y="85" font-size="5.9" fill="#3a3a3a" stroke="#3a3a3a" stroke-width="0.16">8</text>
<rect x="450.2" y="88.4" width="1.6" height="1.2" fill="#7fbf58"/>
<text x="454.8" y="91.5" font-size="5.9" fill="#3a3a3a" stroke="#3a3a3a" stroke-width="0.16">9</text>
<rect x="450.2" y="94.9" width="1.6" height="1.2" fill="#6ebf58"/>
<text x="454.8" y="98" font-size="5.9" fill="#3a3a3a" stroke="#3a3a3a" stroke-width="0.16">10</text>
<rect x="450.2" y="101.4" width="1.6" height="1.2" fill="#5cbf58"/>
<text x="454.8" y="104.5" font-size="5.9" fill="#3a3a3a" stroke="#3a3a3a" stroke-width="0.16">11</text>
<rect x="450.2" y="107.9" width="1.6" height="1.2" fill="#58bf66"/>
<text x="454.8" y="111" font-size="5.9" fill="#3a3a3a" stroke="#3a3a3a" stroke-width="0.16">12</text>
<rect x="450.2" y="114.4" width="1.6" height="1.2" fill="#58bf78"/>
<text x="454.8" y="117.5" font-size="5.9" fill="#3a3a3a" stroke="#3a3a3a" stroke-width="0.16">13</text>
<rect x="450.2" y="120.9" width="1.6" height="1.2" fill="#58bf8a"/>
<text x="454.8" y="124" font-size="5.9" fill="#3a3a3a" stroke="#3a3a3a" stroke-width="0.16">14</text>
<rect x="470.6" y="36.4" width="1.6" height="1.2" fill="#58bf9b"/>
<text x="475" y="39.5" font-size="5.9" fill="#3a3a3a" stroke="#3a3a3a" stroke-width="0.16">15</text>
<rect x="470.6" y="42.9" width="1.6" height="1.2" fill="#58bfad"/>
<text x="475" y="46" font-size="5.9" fill="#3a3a3a" stroke="#3a3a3a" stroke-width="0.16">16</text>
<rect x="470.6" y="49.4" width="1.6" height="1.2" fill="#58bfbf"/>
<text x="475" y="52.5" font-size="5.9" fill="#3a3a3a" stroke="#3a3a3a" stroke-width="0.16">17</text>
<rect x="470.6" y="55.9" width="1.6" height="1.2" fill="#58aebf"/>
<text x="475" y="59" font-size="5.9" fill="#3a3a3a" stroke="#3a3a3a" stroke-width="0.16">18</text>
<rect x="470.6" y="62.4" width="1.6" height="1.2" fill="#589dbf"/>
<text x="475" y="65.5" font-size="5.9" fill="#3a3a3a" stroke="#3a3a3a" stroke-width="0.16">19</text>
<rect x="470.6" y="68.9" width="1.6" height="1.2" fill="#588bbf"/>
<text x="475" y="72" font-size="5.9" fill="#3a3a3a" stroke="#3a3a3a" stroke-width="0.16">20</text>
<rect x="470.6" y="75.4" width="1.6" height="1.2" fill="#5879bf"/>
<text x="475" y="78.5" font-size="5.9" fill="#3a3a3a" stroke="#3a3a3a" stroke-width="0.16">21</text>
<rect x="470.6" y="81.9" width="1.6" height="1.2" fill="#5868bf"/>
<text x="475" y="85" font-size="5.9" fill="#3a3a3a" stroke="#3a3a3a" stroke-width="0.16">22</text>
<rect x="470.6" y="88.4" width="1.6" height="1.2" fill="#5a58bf"/>
<text x="475" y="91.5" font-size="5.9" fill="#3a3a3a" stroke="#3a3a3a" stroke-width="0.16">23</text>
<rect x="470.6" y="94.9" width="1.6" height="1.2" fill="#6c58bf"/>
<text x="475" y="98" font-size="5.9" fill="#3a3a3a" stroke="#3a3a3a" stroke-width="0.16">24</text>
<rect x="470.6" y="101.4" width="1.6" height="1.2" fill="#7e58bf"/>
<text x="475" y="104.5" font-size="5.9" fill="#3a3a3a" stroke="#3a3a3a" stroke-width="0.16">25</text>
<rect x="470.6" y="107.9" width="1.6" height="1.2" fill="#8f58bf"/>
<text x="475" y="111" font-size="5.9" fill="#3a3a3a" stroke="#3a3a3a" stroke-width="0.16">26</text>
<rect x="470.6" y="114.4" width="1.6" height="1.2" fill="#a158bf"/>
<text x="475" y="117.5" font-size="5.9" fill="#3a3a3a" stroke="#3a3a3a" stroke-width="0.16">27</text>
<rect x="470.6" y="120.9" width="1.6" height="1.2" fill="#b358bf"/>
<text x="475" y="124" font-size="5.9" fill="#3a3a3a" stroke="#3a3a3a" stroke-width="0.16">28</text>
<rect x="490.7" y="36.4" width="1.6" height="1.2" fill="#bf58ba"/>
<text x="494.8" y="39.5" font-size="5.9" fill="#3a3a3a" stroke="#3a3a3a" stroke-width="0.16">29</text>
<rect x="490.7" y="42.9" width="1.6" height="1.2" fill="#bf58a9"/>
<text x="494.8" y="46" font-size="5.9" fill="#3a3a3a" stroke="#3a3a3a" stroke-width="0.16">30</text>
<rect x="490.7" y="49.4" width="1.6" height="1.2" fill="#bf5897"/>
<text x="494.8" y="52.5" font-size="5.9" fill="#3a3a3a" stroke="#3a3a3a" stroke-width="0.16">31</text>
<rect x="490.7" y="55.9" width="1.6" height="1.2" fill="#bf5885"/>
<text x="494.8" y="59" font-size="5.9" fill="#3a3a3a" stroke="#3a3a3a" stroke-width="0.16">32</text>
<rect x="490.7" y="62.4" width="1.6" height="1.2" fill="#bf5873"/>
<text x="494.8" y="65.5" font-size="5.9" fill="#3a3a3a" stroke="#3a3a3a" stroke-width="0.16">33</text>
<rect x="490.7" y="68.9" width="1.6" height="1.2" fill="#bf5862"/>
<text x="494.8" y="72" font-size="5.9" fill="#3a3a3a" stroke="#3a3a3a" stroke-width="0.16">34</text>
<rect x="490.7" y="75.4" width="1.6" height="1.2" fill="#bf6058"/>
<text x="494.8" y="78.5" font-size="5.9" fill="#3a3a3a" stroke="#3a3a3a" stroke-width="0.16">35</text>
<rect x="0.5" y="0.5" width="519" height="645" fill="none" stroke="#666" stroke-width="1"/>
</svg>
</body></html>
